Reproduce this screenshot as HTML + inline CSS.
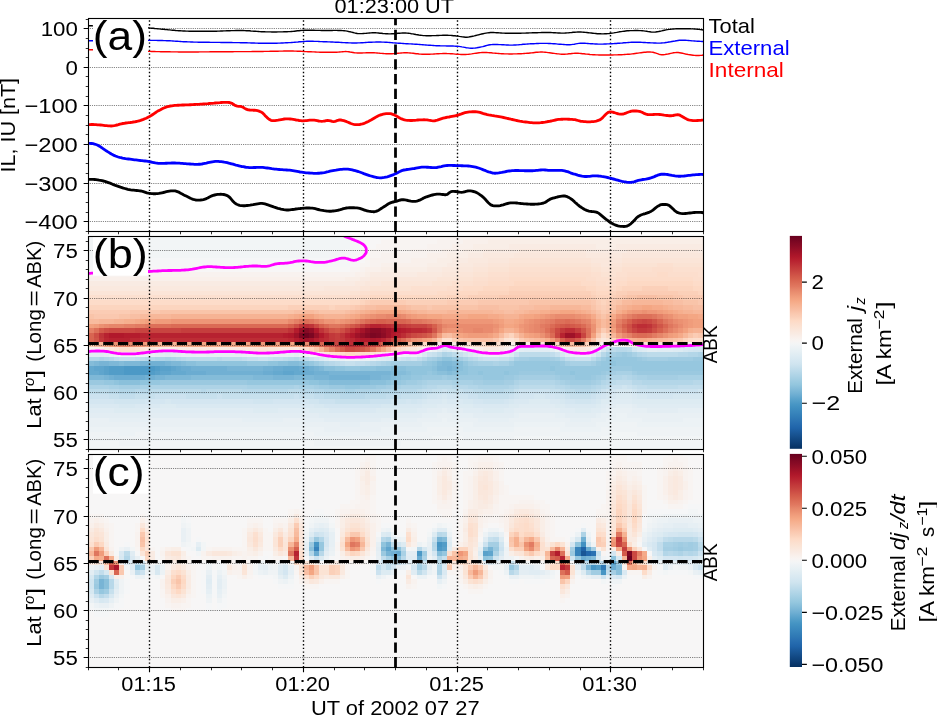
<!DOCTYPE html>
<html><head><meta charset="utf-8"><title>chart</title><style>html,body{margin:0;padding:0;background:#fff}svg{display:block;will-change:transform}</style></head><body>
<svg width="937" height="716" viewBox="0 0 937 716" font-family="'Liberation Sans', sans-serif">
<rect width="937" height="716" fill="#fff"/>
<defs>
<clipPath id="cpa"><rect x="88.5" y="18.5" width="615.0" height="213.0"/></clipPath>
<clipPath id="cpb"><rect x="88.5" y="236.5" width="615.0" height="213.0"/></clipPath>
<clipPath id="cpc"><rect x="88.5" y="454.5" width="615.0" height="213.0"/></clipPath>
</defs>
<g clip-path="url(#cpb)"><g transform="translate(88.5,234.40) scale(5.125,4.7)" shape-rendering="crispEdges" stroke="none">
<path fill="#4c99c6" d="M7 28h6v1h-6zM7 29h5v1h-5z"/>
<path fill="#529dc8" d="M4 28h3v1h-3zM13 28h1v1h-1zM4 29h3v1h-3zM12 29h1v1h-1z"/>
<path fill="#59a1ca" d="M3 28h1v1h-1zM14 28h2v1h-2zM3 29h1v1h-1zM13 29h1v1h-1z"/>
<path fill="#5fa5cd" d="M1 28h2v1h-2zM16 28h1v1h-1zM2 29h1v1h-1zM14 29h2v1h-2zM38 29h2v1h-2z"/>
<path fill="#65a9cf" d="M0 28h1v1h-1zM17 28h1v1h-1zM38 28h3v1h-3zM0 29h2v1h-2zM16 29h3v1h-3zM36 29h2v1h-2zM40 29h2v1h-2z"/>
<path fill="#6bacd1" d="M18 28h2v1h-2zM36 28h2v1h-2zM41 28h2v1h-2zM19 29h4v1h-4zM34 29h2v1h-2zM42 29h2v1h-2zM5 30h6v1h-6z"/>
<path fill="#71b0d3" d="M12 27h3v1h-3zM20 28h7v1h-7zM34 28h2v1h-2zM43 28h1v1h-1zM23 29h11v1h-11zM44 29h3v1h-3zM4 30h1v1h-1zM11 30h2v1h-2zM47 30h8v1h-8z"/>
<path fill="#78b4d5" d="M2 27h2v1h-2zM10 27h2v1h-2zM15 27h1v1h-1zM27 28h7v1h-7zM44 28h1v1h-1zM70 28h1v1h-1zM47 29h12v1h-12zM3 30h1v1h-1zM13 30h2v1h-2zM36 30h4v1h-4zM44 30h3v1h-3zM55 30h2v1h-2z"/>
<path fill="#7eb8d7" d="M1 27h1v1h-1zM4 27h2v1h-2zM7 27h3v1h-3zM16 27h2v1h-2zM69 27h2v1h-2zM45 28h1v1h-1zM68 28h2v1h-2zM71 28h1v1h-1zM59 29h1v1h-1zM0 30h3v1h-3zM15 30h5v1h-5zM32 30h4v1h-4zM40 30h4v1h-4zM57 30h2v1h-2z"/>
<path fill="#84bcd9" d="M0 27h1v1h-1zM6 27h1v1h-1zM18 27h1v1h-1zM39 27h2v1h-2zM68 27h1v1h-1zM71 27h1v1h-1zM59 28h1v1h-1zM60 29h2v1h-2zM70 29h1v1h-1zM20 30h12v1h-12zM59 30h1v1h-1zM47 31h8v1h-8z"/>
<path fill="#8ac0db" d="M19 27h2v1h-2zM37 27h2v1h-2zM41 27h1v1h-1zM72 27h1v1h-1zM46 28h2v1h-2zM56 28h3v1h-3zM60 28h2v1h-2zM67 28h1v1h-1zM72 28h1v1h-1zM62 29h1v1h-1zM68 29h2v1h-2zM71 29h1v1h-1zM60 30h1v1h-1zM6 31h4v1h-4zM45 31h2v1h-2zM55 31h3v1h-3z"/>
<path fill="#90c4dd" d="M69 26h2v1h-2zM21 27h10v1h-10zM35 27h2v1h-2zM42 27h1v1h-1zM67 27h1v1h-1zM102 27h1v1h-1zM48 28h2v1h-2zM53 28h3v1h-3zM62 28h5v1h-5zM73 28h1v1h-1zM90 28h1v1h-1zM63 29h3v1h-3zM67 29h1v1h-1zM72 29h2v1h-2zM76 29h1v1h-1zM81 29h1v1h-1zM94 29h1v1h-1zM61 30h2v1h-2zM5 31h1v1h-1zM10 31h2v1h-2zM43 31h2v1h-2zM58 31h1v1h-1z"/>
<path fill="#96c7df" d="M101 26h6v1h-6zM31 27h4v1h-4zM43 27h1v1h-1zM66 27h1v1h-1zM73 27h1v1h-1zM83 27h9v1h-9zM100 27h2v1h-2zM103 27h17v1h-17zM50 28h3v1h-3zM74 28h16v1h-16zM91 28h11v1h-11zM106 28h14v1h-14zM66 29h1v1h-1zM74 29h2v1h-2zM77 29h4v1h-4zM82 29h2v1h-2zM91 29h3v1h-3zM95 29h5v1h-5zM63 30h2v1h-2zM77 30h4v1h-4zM95 30h3v1h-3zM3 31h2v1h-2zM12 31h2v1h-2zM31 31h12v1h-12zM59 31h2v1h-2zM50 32h3v1h-3z"/>
<path fill="#9bc9e0" d="M104 25h1v1h-1zM68 26h1v1h-1zM71 26h1v1h-1zM107 26h1v1h-1zM118 26h2v1h-2zM65 27h1v1h-1zM92 27h1v1h-1zM99 27h1v1h-1zM102 28h4v1h-4zM84 29h7v1h-7zM100 29h1v1h-1zM107 29h13v1h-13zM65 30h4v1h-4zM70 30h7v1h-7zM81 30h2v1h-2zM92 30h3v1h-3zM98 30h1v1h-1zM0 31h3v1h-3zM14 31h17v1h-17zM61 31h1v1h-1zM47 32h3v1h-3zM53 32h3v1h-3z"/>
<path fill="#a0cce2" d="M103 25h1v1h-1zM105 25h1v1h-1zM86 26h4v1h-4zM100 26h1v1h-1zM108 26h1v1h-1zM113 26h5v1h-5zM44 27h1v1h-1zM74 27h1v1h-1zM82 27h1v1h-1zM101 29h1v1h-1zM106 29h1v1h-1zM69 30h1v1h-1zM83 30h1v1h-1zM91 30h1v1h-1zM99 30h1v1h-1zM62 31h2v1h-2zM77 31h4v1h-4zM94 31h4v1h-4zM45 32h2v1h-2zM56 32h2v1h-2z"/>
<path fill="#a5cee3" d="M102 25h1v1h-1zM67 26h1v1h-1zM72 26h1v1h-1zM84 26h2v1h-2zM90 26h1v1h-1zM109 26h4v1h-4zM59 27h6v1h-6zM75 27h1v1h-1zM93 27h1v1h-1zM98 27h1v1h-1zM102 29h1v1h-1zM84 30h7v1h-7zM100 30h1v1h-1zM109 30h6v1h-6zM64 31h1v1h-1zM75 31h2v1h-2zM81 31h2v1h-2zM93 31h1v1h-1zM98 31h1v1h-1zM6 32h4v1h-4zM44 32h1v1h-1zM58 32h1v1h-1z"/>
<path fill="#a9d1e5" d="M101 25h1v1h-1zM106 25h1v1h-1zM15 26h1v1h-1zM66 26h1v1h-1zM83 26h1v1h-1zM91 26h1v1h-1zM45 27h1v1h-1zM58 27h1v1h-1zM76 27h3v1h-3zM80 27h2v1h-2zM94 27h4v1h-4zM103 29h3v1h-3zM107 30h2v1h-2zM115 30h5v1h-5zM65 31h1v1h-1zM71 31h4v1h-4zM92 31h1v1h-1zM99 31h1v1h-1zM4 32h2v1h-2zM10 32h2v1h-2zM31 32h9v1h-9zM41 32h3v1h-3zM59 32h2v1h-2zM50 33h2v1h-2z"/>
<path fill="#aed3e6" d="M69 25h1v1h-1zM119 25h1v1h-1zM2 26h1v1h-1zM13 26h2v1h-2zM16 26h1v1h-1zM73 26h1v1h-1zM99 26h1v1h-1zM57 27h1v1h-1zM79 27h1v1h-1zM101 30h1v1h-1zM106 30h1v1h-1zM66 31h5v1h-5zM83 31h1v1h-1zM91 31h1v1h-1zM0 32h4v1h-4zM12 32h19v1h-19zM40 32h1v1h-1zM61 32h4v1h-4zM76 32h6v1h-6zM94 32h4v1h-4zM46 33h4v1h-4zM52 33h5v1h-5z"/>
<path fill="#b3d6e8" d="M70 25h1v1h-1zM107 25h1v1h-1zM117 25h2v1h-2zM0 26h2v1h-2zM3 26h1v1h-1zM12 26h1v1h-1zM17 26h1v1h-1zM40 26h1v1h-1zM92 26h1v1h-1zM46 27h1v1h-1zM56 27h1v1h-1zM102 30h2v1h-2zM105 30h1v1h-1zM84 31h7v1h-7zM100 31h1v1h-1zM108 31h10v1h-10zM65 32h1v1h-1zM74 32h2v1h-2zM82 32h1v1h-1zM93 32h1v1h-1zM98 32h1v1h-1zM6 33h3v1h-3zM44 33h2v1h-2zM57 33h3v1h-3z"/>
<path fill="#b8d8e9" d="M103 24h2v1h-2zM100 25h1v1h-1zM108 25h1v1h-1zM115 25h2v1h-2zM4 26h1v1h-1zM11 26h1v1h-1zM18 26h1v1h-1zM25 26h1v1h-1zM39 26h1v1h-1zM65 26h1v1h-1zM74 26h1v1h-1zM47 27h1v1h-1zM55 27h1v1h-1zM104 30h1v1h-1zM101 31h1v1h-1zM106 31h2v1h-2zM118 31h2v1h-2zM66 32h2v1h-2zM71 32h3v1h-3zM83 32h1v1h-1zM91 32h2v1h-2zM99 32h1v1h-1zM4 33h2v1h-2zM9 33h3v1h-3zM22 33h1v1h-1zM30 33h9v1h-9zM42 33h2v1h-2zM60 33h4v1h-4zM77 33h4v1h-4zM95 33h3v1h-3zM49 34h5v1h-5z"/>
<path fill="#bddbea" d="M102 24h1v1h-1zM105 24h1v1h-1zM68 25h1v1h-1zM71 25h1v1h-1zM84 25h6v1h-6zM109 25h6v1h-6zM10 26h1v1h-1zM19 26h6v1h-6zM26 26h4v1h-4zM38 26h1v1h-1zM41 26h1v1h-1zM75 26h1v1h-1zM82 26h1v1h-1zM98 26h1v1h-1zM48 27h1v1h-1zM54 27h1v1h-1zM102 31h1v1h-1zM68 32h3v1h-3zM84 32h7v1h-7zM100 32h1v1h-1zM109 32h6v1h-6zM0 33h4v1h-4zM12 33h10v1h-10zM23 33h7v1h-7zM39 33h3v1h-3zM64 33h1v1h-1zM75 33h2v1h-2zM81 33h2v1h-2zM93 33h2v1h-2zM98 33h1v1h-1zM46 34h3v1h-3zM54 34h4v1h-4z"/>
<path fill="#c2ddec" d="M90 25h1v1h-1zM5 26h1v1h-1zM9 26h1v1h-1zM30 26h1v1h-1zM36 26h2v1h-2zM42 26h1v1h-1zM64 26h1v1h-1zM93 26h1v1h-1zM49 27h1v1h-1zM52 27h2v1h-2zM103 31h3v1h-3zM101 32h1v1h-1zM107 32h2v1h-2zM115 32h5v1h-5zM65 33h2v1h-2zM73 33h2v1h-2zM92 33h1v1h-1zM99 33h1v1h-1zM6 34h3v1h-3zM44 34h2v1h-2zM58 34h3v1h-3z"/>
<path fill="#c7e0ed" d="M101 24h1v1h-1zM67 25h1v1h-1zM72 25h1v1h-1zM6 26h3v1h-3zM31 26h2v1h-2zM35 26h1v1h-1zM62 26h1v1h-1zM76 26h1v1h-1zM80 26h2v1h-2zM94 26h1v1h-1zM50 27h2v1h-2zM106 32h1v1h-1zM67 33h2v1h-2zM70 33h3v1h-3zM83 33h1v1h-1zM90 33h2v1h-2zM4 34h2v1h-2zM9 34h4v1h-4zM19 34h6v1h-6zM26 34h14v1h-14zM41 34h3v1h-3zM61 34h4v1h-4zM76 34h6v1h-6zM94 34h4v1h-4zM48 35h7v1h-7z"/>
<path fill="#cce2ef" d="M66 25h1v1h-1zM83 25h1v1h-1zM91 25h1v1h-1zM33 26h2v1h-2zM43 26h1v1h-1zM61 26h1v1h-1zM63 26h1v1h-1zM77 26h3v1h-3zM95 26h3v1h-3zM102 32h2v1h-2zM105 32h1v1h-1zM69 33h1v1h-1zM84 33h6v1h-6zM100 33h1v1h-1zM107 33h12v1h-12zM0 34h4v1h-4zM13 34h6v1h-6zM25 34h1v1h-1zM40 34h1v1h-1zM65 34h1v1h-1zM74 34h2v1h-2zM82 34h1v1h-1zM93 34h1v1h-1zM98 34h1v1h-1zM45 35h3v1h-3zM55 35h4v1h-4z"/>
<path fill="#d1e5f0" d="M106 24h1v1h-1zM118 24h2v1h-2zM73 25h1v1h-1zM99 25h1v1h-1zM60 26h1v1h-1zM104 32h1v1h-1zM101 33h1v1h-1zM106 33h1v1h-1zM119 33h1v1h-1zM66 34h2v1h-2zM72 34h2v1h-2zM83 34h1v1h-1zM91 34h2v1h-2zM99 34h1v1h-1zM5 35h6v1h-6zM32 35h4v1h-4zM43 35h2v1h-2zM59 35h3v1h-3zM63 35h1v1h-1zM77 35h4v1h-4zM95 35h3v1h-3z"/>
<path fill="#d4e6f1" d="M117 24h1v1h-1zM44 26h1v1h-1zM59 26h1v1h-1zM102 33h1v1h-1zM68 34h1v1h-1zM70 34h2v1h-2zM84 34h3v1h-3zM89 34h2v1h-2zM100 34h1v1h-1zM109 34h5v1h-5zM0 35h5v1h-5zM11 35h4v1h-4zM16 35h16v1h-16zM36 35h7v1h-7zM62 35h1v1h-1zM64 35h1v1h-1zM75 35h2v1h-2zM81 35h1v1h-1zM93 35h2v1h-2zM98 35h1v1h-1zM46 36h11v1h-11z"/>
<path fill="#d7e8f1" d="M69 24h1v1h-1zM100 24h1v1h-1zM116 24h1v1h-1zM92 25h1v1h-1zM103 33h3v1h-3zM69 34h1v1h-1zM87 34h2v1h-2zM101 34h1v1h-1zM107 34h2v1h-2zM114 34h6v1h-6zM15 35h1v1h-1zM65 35h1v1h-1zM73 35h2v1h-2zM82 35h1v1h-1zM92 35h1v1h-1zM99 35h1v1h-1zM6 36h3v1h-3zM44 36h2v1h-2zM57 36h3v1h-3z"/>
<path fill="#dae9f2" d="M107 24h1v1h-1zM65 25h1v1h-1zM74 25h1v1h-1zM45 26h1v1h-1zM58 26h1v1h-1zM102 34h1v1h-1zM106 34h1v1h-1zM66 35h3v1h-3zM70 35h3v1h-3zM83 35h3v1h-3zM90 35h2v1h-2zM0 36h6v1h-6zM9 36h5v1h-5zM17 36h27v1h-27zM60 36h5v1h-5zM75 36h7v1h-7zM93 36h6v1h-6zM47 37h9v1h-9z"/>
<path fill="#ddebf2" d="M70 24h1v1h-1zM108 24h1v1h-1zM114 24h2v1h-2zM15 25h1v1h-1zM82 25h1v1h-1zM57 26h1v1h-1zM103 34h3v1h-3zM69 35h1v1h-1zM86 35h4v1h-4zM100 35h2v1h-2zM106 35h14v1h-14zM14 36h3v1h-3zM65 36h3v1h-3zM72 36h3v1h-3zM82 36h2v1h-2zM91 36h2v1h-2zM99 36h1v1h-1zM5 37h6v1h-6zM32 37h5v1h-5zM43 37h4v1h-4zM56 37h8v1h-8zM77 37h4v1h-4zM95 37h3v1h-3z"/>
<path fill="#e0ecf3" d="M85 24h5v1h-5zM111 24h3v1h-3zM0 25h3v1h-3zM14 25h1v1h-1zM16 25h1v1h-1zM75 25h1v1h-1zM98 25h1v1h-1zM46 26h1v1h-1zM56 26h1v1h-1zM102 35h4v1h-4zM68 36h4v1h-4zM84 36h7v1h-7zM100 36h1v1h-1zM107 36h13v1h-13zM0 37h5v1h-5zM11 37h21v1h-21zM37 37h6v1h-6zM64 37h2v1h-2zM73 37h4v1h-4zM81 37h2v1h-2zM92 37h3v1h-3zM98 37h2v1h-2zM45 38h15v1h-15z"/>
<path fill="#e3edf3" d="M68 24h1v1h-1zM84 24h1v1h-1zM109 24h2v1h-2zM3 25h1v1h-1zM13 25h1v1h-1zM17 25h1v1h-1zM40 25h1v1h-1zM93 25h1v1h-1zM101 36h2v1h-2zM106 36h1v1h-1zM66 37h3v1h-3zM70 37h3v1h-3zM83 37h9v1h-9zM100 37h1v1h-1zM109 37h6v1h-6zM0 38h45v1h-45zM60 38h5v1h-5zM75 38h8v1h-8zM93 38h6v1h-6zM46 39h11v1h-11z"/>
<path fill="#e6eff4" d="M71 24h1v1h-1zM90 24h1v1h-1zM12 25h1v1h-1zM18 25h3v1h-3zM23 25h7v1h-7zM39 25h1v1h-1zM64 25h1v1h-1zM76 25h1v1h-1zM81 25h1v1h-1zM47 26h2v1h-2zM55 26h1v1h-1zM103 36h3v1h-3zM69 37h1v1h-1zM101 37h1v1h-1zM106 37h3v1h-3zM115 37h5v1h-5zM65 38h3v1h-3zM71 38h4v1h-4zM83 38h1v1h-1zM91 38h2v1h-2zM99 38h1v1h-1zM4 39h8v1h-8zM30 39h8v1h-8zM42 39h4v1h-4zM57 39h7v1h-7zM76 39h6v1h-6zM94 39h4v1h-4zM49 40h4v1h-4z"/>
<path fill="#e9f0f4" d="M83 24h1v1h-1zM4 25h1v1h-1zM11 25h1v1h-1zM21 25h2v1h-2zM30 25h1v1h-1zM37 25h2v1h-2zM41 25h1v1h-1zM80 25h1v1h-1zM94 25h1v1h-1zM49 26h1v1h-1zM53 26h2v1h-2zM102 37h4v1h-4zM68 38h3v1h-3zM84 38h7v1h-7zM100 38h3v1h-3zM105 38h15v1h-15zM0 39h4v1h-4zM12 39h18v1h-18zM38 39h4v1h-4zM64 39h5v1h-5zM70 39h6v1h-6zM82 39h12v1h-12zM98 39h3v1h-3zM108 39h8v1h-8zM0 40h49v1h-49zM53 40h12v1h-12zM75 40h8v1h-8zM93 40h6v1h-6zM46 41h11v1h-11z"/>
<path fill="#ecf2f5" d="M67 24h1v1h-1zM72 24h1v1h-1zM99 24h1v1h-1zM10 25h1v1h-1zM31 25h1v1h-1zM35 25h2v1h-2zM62 25h1v1h-1zM77 25h1v1h-1zM95 25h1v1h-1zM97 25h1v1h-1zM50 26h3v1h-3zM103 38h2v1h-2zM69 39h1v1h-1zM101 39h7v1h-7zM116 39h4v1h-4zM65 40h10v1h-10zM83 40h10v1h-10zM99 40h3v1h-3zM107 40h13v1h-13zM0 41h46v1h-46zM57 41h9v1h-9zM73 41h10v1h-10zM92 41h8v1h-8zM6 42h3v1h-3zM44 42h16v1h-16z"/>
<path fill="#eff3f5" d="M91 24h1v1h-1zM5 25h1v1h-1zM9 25h1v1h-1zM32 25h3v1h-3zM42 25h1v1h-1zM61 25h1v1h-1zM63 25h1v1h-1zM78 25h2v1h-2zM96 25h1v1h-1zM102 40h5v1h-5zM66 41h7v1h-7zM83 41h9v1h-9zM100 41h20v1h-20zM0 42h6v1h-6zM9 42h35v1h-35zM60 42h42v1h-42zM107 42h13v1h-13zM0 43h67v1h-67zM73 43h10v1h-10zM92 43h8v1h-8zM6 44h4v1h-4zM44 44h17v1h-17z"/>
<path fill="#f2f5f6" d="M0 0h51v1h-51zM0 1h51v1h-51zM0 2h51v1h-51zM0 3h50v1h-50zM0 4h49v1h-49zM66 24h1v1h-1zM6 25h3v1h-3zM102 42h5v1h-5zM67 43h6v1h-6zM83 43h9v1h-9zM100 43h20v1h-20zM0 44h6v1h-6zM10 44h34v1h-34zM61 44h59v1h-59zM0 45h120v1h-120z"/>
<path fill="#f5f6f7" d="M51 0h3v1h-3zM51 1h2v1h-2zM51 2h2v1h-2zM50 3h3v1h-3zM49 4h3v1h-3zM0 5h52v1h-52zM0 6h51v1h-51zM100 23h2v1h-2zM73 24h1v1h-1zM43 25h1v1h-1zM60 25h1v1h-1z"/>
<path fill="#f7f6f6" d="M54 0h6v1h-6zM53 1h4v1h-4zM53 2h3v1h-3zM53 3h2v1h-2zM52 4h2v1h-2zM52 5h2v1h-2zM51 6h2v1h-2zM0 7h51v1h-51zM102 23h1v1h-1zM82 24h1v1h-1z"/>
<path fill="#f8f4f2" d="M60 0h10v1h-10zM57 1h11v1h-11zM56 2h10v1h-10zM55 3h8v1h-8zM54 4h3v1h-3zM54 5h1v1h-1zM53 6h2v1h-2zM51 7h2v1h-2zM69 23h1v1h-1zM118 23h2v1h-2zM0 24h1v1h-1zM65 24h1v1h-1zM74 24h1v1h-1zM92 24h1v1h-1zM44 25h1v1h-1zM59 25h1v1h-1z"/>
<path fill="#f8f2ef" d="M70 0h5v1h-5zM68 1h5v1h-5zM66 2h5v1h-5zM63 3h6v1h-6zM57 4h9v1h-9zM55 5h8v1h-8zM55 6h2v1h-2zM53 7h1v1h-1zM0 8h52v1h-52zM70 23h1v1h-1zM103 23h2v1h-2zM117 23h1v1h-1zM1 24h1v1h-1zM75 24h1v1h-1zM81 24h1v1h-1zM98 24h1v1h-1z"/>
<path fill="#f9f0eb" d="M75 0h35v1h-35zM115 0h5v1h-5zM73 1h5v1h-5zM71 2h4v1h-4zM69 3h4v1h-4zM66 4h4v1h-4zM63 5h5v1h-5zM57 6h9v1h-9zM54 7h3v1h-3zM52 8h2v1h-2zM0 9h50v1h-50zM105 23h1v1h-1zM116 23h1v1h-1zM2 24h1v1h-1zM15 24h1v1h-1zM76 24h1v1h-1zM58 25h1v1h-1z"/>
<path fill="#f9eee7" d="M110 0h5v1h-5zM78 1h42v1h-42zM75 2h7v1h-7zM99 2h4v1h-4zM73 3h4v1h-4zM70 4h4v1h-4zM68 5h3v1h-3zM66 6h4v1h-4zM57 7h9v1h-9zM54 8h1v1h-1zM50 9h3v1h-3zM82 23h2v1h-2zM99 23h1v1h-1zM14 24h1v1h-1zM16 24h1v1h-1zM80 24h1v1h-1zM93 24h1v1h-1zM45 25h1v1h-1z"/>
<path fill="#f9ebe3" d="M82 2h17v1h-17zM103 2h17v1h-17zM77 3h7v1h-7zM97 3h8v1h-8zM119 3h1v1h-1zM74 4h3v1h-3zM71 5h3v1h-3zM70 6h2v1h-2zM66 7h3v1h-3zM55 8h9v1h-9zM53 9h2v1h-2zM0 10h52v1h-52zM68 23h1v1h-1zM71 23h1v1h-1zM84 23h1v1h-1zM115 23h1v1h-1zM3 24h1v1h-1zM13 24h1v1h-1zM17 24h2v1h-2zM25 24h2v1h-2zM64 24h1v1h-1zM77 24h3v1h-3zM97 24h1v1h-1zM57 25h1v1h-1z"/>
<path fill="#fae9df" d="M84 3h13v1h-13zM105 3h14v1h-14zM77 4h6v1h-6zM97 4h7v1h-7zM74 5h4v1h-4zM72 6h3v1h-3zM69 7h3v1h-3zM64 8h5v1h-5zM55 9h5v1h-5zM52 10h2v1h-2zM0 11h46v1h-46zM81 23h1v1h-1zM85 23h1v1h-1zM106 23h1v1h-1zM114 23h1v1h-1zM12 24h1v1h-1zM19 24h6v1h-6zM27 24h3v1h-3zM40 24h1v1h-1zM94 24h3v1h-3z"/>
<path fill="#fae7dc" d="M83 4h14v1h-14zM104 4h16v1h-16zM78 5h4v1h-4zM98 5h6v1h-6zM75 6h3v1h-3zM100 6h2v1h-2zM72 7h3v1h-3zM69 8h3v1h-3zM60 9h8v1h-8zM54 10h3v1h-3zM46 11h7v1h-7zM100 22h1v1h-1zM86 23h3v1h-3zM107 23h1v1h-1zM111 23h3v1h-3zM4 24h1v1h-1zM11 24h1v1h-1zM30 24h2v1h-2zM37 24h3v1h-3zM63 24h1v1h-1zM46 25h1v1h-1zM56 25h1v1h-1z"/>
<path fill="#fbe5d8" d="M82 5h16v1h-16zM104 5h16v1h-16zM78 6h4v1h-4zM98 6h2v1h-2zM102 6h2v1h-2zM75 7h3v1h-3zM100 7h2v1h-2zM72 8h3v1h-3zM68 9h4v1h-4zM57 10h10v1h-10zM53 11h2v1h-2zM0 12h51v1h-51zM82 22h1v1h-1zM67 23h1v1h-1zM72 23h1v1h-1zM89 23h1v1h-1zM108 23h3v1h-3zM10 24h1v1h-1zM32 24h1v1h-1zM35 24h2v1h-2zM62 24h1v1h-1z"/>
<path fill="#fbe3d4" d="M82 6h16v1h-16zM104 6h7v1h-7zM114 6h6v1h-6zM78 7h4v1h-4zM98 7h2v1h-2zM102 7h2v1h-2zM75 8h3v1h-3zM100 8h3v1h-3zM72 9h3v1h-3zM67 10h4v1h-4zM55 11h8v1h-8zM51 12h2v1h-2zM81 22h1v1h-1zM101 22h1v1h-1zM73 23h1v1h-1zM80 23h1v1h-1zM5 24h1v1h-1zM33 24h2v1h-2zM41 24h1v1h-1zM47 25h1v1h-1zM55 25h1v1h-1z"/>
<path fill="#fce0d0" d="M111 6h3v1h-3zM82 7h16v1h-16zM104 7h6v1h-6zM114 7h6v1h-6zM78 8h4v1h-4zM98 8h2v1h-2zM103 8h2v1h-2zM119 8h1v1h-1zM75 9h3v1h-3zM99 9h4v1h-4zM71 10h4v1h-4zM101 10h1v1h-1zM63 11h7v1h-7zM53 12h2v1h-2zM0 13h51v1h-51zM69 22h2v1h-2zM66 23h1v1h-1zM74 23h1v1h-1zM90 23h1v1h-1zM98 23h1v1h-1zM9 24h1v1h-1zM61 24h1v1h-1zM48 25h1v1h-1z"/>
<path fill="#fcdecd" d="M110 7h4v1h-4zM82 8h16v1h-16zM105 8h6v1h-6zM113 8h6v1h-6zM78 9h4v1h-4zM97 9h2v1h-2zM103 9h2v1h-2zM118 9h2v1h-2zM75 10h3v1h-3zM99 10h2v1h-2zM102 10h1v1h-1zM70 11h3v1h-3zM55 12h13v1h-13zM51 13h2v1h-2zM100 21h1v1h-1zM83 22h1v1h-1zM99 22h1v1h-1zM118 22h2v1h-2zM75 23h2v1h-2zM79 23h1v1h-1zM6 24h3v1h-3zM42 24h1v1h-1zM49 25h1v1h-1zM54 25h1v1h-1z"/>
<path fill="#fddcc9" d="M111 8h2v1h-2zM82 9h15v1h-15zM105 9h13v1h-13zM78 10h5v1h-5zM96 10h3v1h-3zM103 10h2v1h-2zM118 10h2v1h-2zM73 11h4v1h-4zM99 11h4v1h-4zM68 12h4v1h-4zM53 13h2v1h-2zM0 14h51v1h-51zM117 22h1v1h-1zM65 23h1v1h-1zM77 23h2v1h-2zM52 25h2v1h-2z"/>
<path fill="#fdd9c4" d="M83 10h13v1h-13zM105 10h13v1h-13zM77 11h5v1h-5zM97 11h2v1h-2zM103 11h1v1h-1zM118 11h2v1h-2zM72 12h4v1h-4zM99 12h3v1h-3zM55 13h15v1h-15zM51 14h2v1h-2zM91 23h1v1h-1zM60 24h1v1h-1zM50 25h2v1h-2z"/>
<path fill="#fcd5bf" d="M82 11h15v1h-15zM104 11h4v1h-4zM113 11h5v1h-5zM76 12h6v1h-6zM98 12h1v1h-1zM102 12h1v1h-1zM119 12h1v1h-1zM70 13h4v1h-4zM99 13h3v1h-3zM53 14h1v1h-1zM100 14h1v1h-1zM0 15h39v1h-39zM47 15h1v1h-1zM82 21h1v1h-1zM101 21h1v1h-1zM80 22h1v1h-1zM102 22h1v1h-1zM116 22h1v1h-1zM64 23h1v1h-1zM97 23h1v1h-1zM43 24h1v1h-1z"/>
<path fill="#fbd0b9" d="M108 11h5v1h-5zM82 12h16v1h-16zM103 12h2v1h-2zM115 12h4v1h-4zM74 13h6v1h-6zM98 13h1v1h-1zM102 13h1v1h-1zM54 14h1v1h-1zM62 14h8v1h-8zM99 14h1v1h-1zM101 14h1v1h-1zM39 15h8v1h-8zM48 15h3v1h-3zM100 15h1v1h-1zM71 22h1v1h-1z"/>
<path fill="#fbccb4" d="M105 12h10v1h-10zM80 13h18v1h-18zM103 13h1v1h-1zM116 13h4v1h-4zM55 14h7v1h-7zM70 14h6v1h-6zM51 15h1v1h-1zM99 15h1v1h-1zM101 15h1v1h-1zM0 16h8v1h-8zM100 16h1v1h-1zM100 20h1v1h-1zM81 21h1v1h-1zM118 21h1v1h-1zM68 22h1v1h-1zM84 22h1v1h-1zM0 23h1v1h-1zM59 24h1v1h-1z"/>
<path fill="#fac8af" d="M104 13h1v1h-1zM114 13h2v1h-2zM76 14h10v1h-10zM98 14h1v1h-1zM102 14h1v1h-1zM119 14h1v1h-1zM52 15h1v1h-1zM66 15h1v1h-1zM8 16h6v1h-6zM101 16h1v1h-1zM1 17h5v1h-5zM99 21h1v1h-1zM119 21h1v1h-1zM79 22h1v1h-1zM115 22h1v1h-1zM63 23h1v1h-1zM92 23h1v1h-1zM96 23h1v1h-1zM44 24h1v1h-1z"/>
<path fill="#f9c4a9" d="M105 13h2v1h-2zM111 13h3v1h-3zM86 14h12v1h-12zM103 14h1v1h-1zM116 14h3v1h-3zM53 15h1v1h-1zM63 15h3v1h-3zM67 15h9v1h-9zM80 15h4v1h-4zM98 15h1v1h-1zM102 15h1v1h-1zM14 16h26v1h-26zM45 16h5v1h-5zM99 16h1v1h-1zM0 17h1v1h-1zM6 17h2v1h-2zM100 17h1v1h-1zM83 21h1v1h-1zM117 21h1v1h-1zM72 22h1v1h-1zM85 22h1v1h-1zM114 22h1v1h-1z"/>
<path fill="#f8bfa4" d="M107 13h4v1h-4zM114 14h2v1h-2zM54 15h2v1h-2zM62 15h1v1h-1zM76 15h4v1h-4zM84 15h3v1h-3zM118 15h2v1h-2zM40 16h2v1h-2zM44 16h1v1h-1zM50 16h1v1h-1zM81 16h2v1h-2zM8 17h2v1h-2zM101 20h1v1h-1zM70 21h1v1h-1zM73 22h6v1h-6zM86 22h1v1h-1zM98 22h1v1h-1zM103 22h1v1h-1zM113 22h1v1h-1zM1 23h1v1h-1zM62 23h1v1h-1zM93 23h1v1h-1zM95 23h1v1h-1z"/>
<path fill="#f8bb9e" d="M104 14h2v1h-2zM112 14h2v1h-2zM56 15h6v1h-6zM87 15h3v1h-3zM96 15h2v1h-2zM116 15h2v1h-2zM42 16h2v1h-2zM51 16h1v1h-1zM66 16h4v1h-4zM79 16h2v1h-2zM83 16h2v1h-2zM98 16h1v1h-1zM102 16h1v1h-1zM10 17h2v1h-2zM99 17h1v1h-1zM101 17h1v1h-1zM0 18h2v1h-2zM100 18h1v1h-1zM100 19h1v1h-1zM69 21h1v1h-1zM80 21h1v1h-1zM87 22h1v1h-1zM112 22h1v1h-1zM94 23h1v1h-1zM58 24h1v1h-1z"/>
<path fill="#f7b799" d="M106 14h6v1h-6zM90 15h6v1h-6zM103 15h1v1h-1zM114 15h2v1h-2zM52 16h1v1h-1zM64 16h2v1h-2zM70 16h9v1h-9zM85 16h1v1h-1zM118 16h2v1h-2zM12 17h4v1h-4zM2 18h3v1h-3zM99 20h1v1h-1zM102 21h1v1h-1zM116 21h1v1h-1zM88 22h1v1h-1zM104 22h1v1h-1zM111 22h1v1h-1zM2 23h1v1h-1zM61 23h1v1h-1z"/>
<path fill="#f6b394" d="M104 15h1v1h-1zM113 15h1v1h-1zM53 16h1v1h-1zM63 16h1v1h-1zM86 16h2v1h-2zM97 16h1v1h-1zM116 16h2v1h-2zM16 17h23v1h-23zM46 17h4v1h-4zM81 17h3v1h-3zM5 18h2v1h-2zM101 18h1v1h-1zM101 19h1v1h-1zM81 20h2v1h-2zM118 20h2v1h-2zM71 21h1v1h-1zM84 21h1v1h-1zM67 22h1v1h-1zM105 22h1v1h-1zM110 22h1v1h-1zM14 23h3v1h-3zM45 24h1v1h-1z"/>
<path fill="#f6af8e" d="M105 15h1v1h-1zM112 15h1v1h-1zM54 16h1v1h-1zM62 16h1v1h-1zM88 16h2v1h-2zM96 16h1v1h-1zM103 16h1v1h-1zM115 16h1v1h-1zM39 17h1v1h-1zM45 17h1v1h-1zM50 17h1v1h-1zM80 17h1v1h-1zM7 18h2v1h-2zM99 18h1v1h-1zM99 19h1v1h-1zM117 20h1v1h-1zM89 22h1v1h-1zM106 22h1v1h-1zM109 22h1v1h-1zM17 23h1v1h-1z"/>
<path fill="#f5aa89" d="M106 15h2v1h-2zM110 15h2v1h-2zM55 16h1v1h-1zM61 16h1v1h-1zM90 16h2v1h-2zM95 16h1v1h-1zM114 16h1v1h-1zM40 17h1v1h-1zM44 17h1v1h-1zM51 17h1v1h-1zM69 17h5v1h-5zM78 17h2v1h-2zM84 17h1v1h-1zM98 17h1v1h-1zM102 17h1v1h-1zM119 17h1v1h-1zM9 18h1v1h-1zM81 18h2v1h-2zM83 20h1v1h-1zM79 21h1v1h-1zM115 21h1v1h-1zM107 22h2v1h-2zM3 23h1v1h-1zM13 23h1v1h-1zM18 23h2v1h-2zM24 23h5v1h-5z"/>
<path fill="#f4a683" d="M108 15h2v1h-2zM56 16h5v1h-5zM92 16h3v1h-3zM104 16h1v1h-1zM113 16h1v1h-1zM41 17h1v1h-1zM52 17h1v1h-1zM66 17h3v1h-3zM74 17h4v1h-4zM85 17h2v1h-2zM117 17h2v1h-2zM10 18h1v1h-1zM83 18h1v1h-1zM81 19h2v1h-2zM80 20h1v1h-1zM72 21h1v1h-1zM85 21h1v1h-1zM66 22h1v1h-1zM12 23h1v1h-1zM20 23h4v1h-4zM29 23h2v1h-2zM38 23h3v1h-3zM60 23h1v1h-1zM57 24h1v1h-1z"/>
<path fill="#f2a17f" d="M112 16h1v1h-1zM42 17h2v1h-2zM64 17h2v1h-2zM87 17h1v1h-1zM115 17h2v1h-2zM11 18h2v1h-2zM80 18h1v1h-1zM84 18h1v1h-1zM118 18h2v1h-2zM0 19h1v1h-1zM83 19h1v1h-1zM118 19h2v1h-2zM102 20h1v1h-1zM116 20h1v1h-1zM73 21h1v1h-1zM78 21h1v1h-1zM86 21h1v1h-1zM98 21h1v1h-1zM114 21h1v1h-1zM65 22h1v1h-1zM97 22h1v1h-1zM11 23h1v1h-1zM31 23h1v1h-1zM37 23h1v1h-1z"/>
<path fill="#f09c7b" d="M105 16h1v1h-1zM111 16h1v1h-1zM53 17h1v1h-1zM63 17h1v1h-1zM88 17h1v1h-1zM97 17h1v1h-1zM114 17h1v1h-1zM13 18h3v1h-3zM48 18h1v1h-1zM79 18h1v1h-1zM98 18h1v1h-1zM102 18h1v1h-1zM117 18h1v1h-1zM1 19h1v1h-1zM80 19h1v1h-1zM117 19h1v1h-1zM84 20h1v1h-1zM68 21h1v1h-1zM74 21h4v1h-4zM87 21h1v1h-1zM103 21h1v1h-1zM113 21h1v1h-1zM90 22h1v1h-1zM4 23h1v1h-1zM32 23h1v1h-1zM35 23h2v1h-2zM41 23h1v1h-1z"/>
<path fill="#ee9677" d="M106 16h2v1h-2zM109 16h2v1h-2zM54 17h1v1h-1zM62 17h1v1h-1zM89 17h1v1h-1zM96 17h1v1h-1zM103 17h1v1h-1zM16 18h23v1h-23zM46 18h2v1h-2zM49 18h1v1h-1zM69 18h10v1h-10zM85 18h1v1h-1zM116 18h1v1h-1zM84 19h1v1h-1zM102 19h1v1h-1zM116 19h1v1h-1zM70 20h2v1h-2zM79 20h1v1h-1zM115 20h1v1h-1zM64 22h1v1h-1zM10 23h1v1h-1zM33 23h2v1h-2zM46 24h1v1h-1z"/>
<path fill="#eb9172" d="M108 16h1v1h-1zM55 17h1v1h-1zM90 17h1v1h-1zM95 17h1v1h-1zM113 17h1v1h-1zM50 18h1v1h-1zM86 18h1v1h-1zM115 18h1v1h-1zM2 19h1v1h-1zM79 19h1v1h-1zM85 19h1v1h-1zM98 19h1v1h-1zM69 20h1v1h-1zM72 20h1v1h-1zM85 20h1v1h-1zM98 20h1v1h-1zM88 21h1v1h-1zM112 21h1v1h-1zM63 22h1v1h-1zM5 23h1v1h-1zM9 23h1v1h-1zM59 23h1v1h-1zM56 24h1v1h-1z"/>
<path fill="#e98b6e" d="M56 17h2v1h-2zM61 17h1v1h-1zM91 17h4v1h-4zM104 17h1v1h-1zM112 17h1v1h-1zM39 18h1v1h-1zM45 18h1v1h-1zM51 18h1v1h-1zM68 18h1v1h-1zM87 18h1v1h-1zM114 18h1v1h-1zM3 19h1v1h-1zM70 19h9v1h-9zM86 19h1v1h-1zM115 19h1v1h-1zM73 20h2v1h-2zM77 20h2v1h-2zM86 20h1v1h-1zM114 20h1v1h-1zM104 21h1v1h-1zM8 23h1v1h-1zM42 23h1v1h-1z"/>
<path fill="#e6866a" d="M58 17h3v1h-3zM67 18h1v1h-1zM88 18h1v1h-1zM97 18h1v1h-1zM4 19h3v1h-3zM69 19h1v1h-1zM87 19h1v1h-1zM75 20h2v1h-2zM87 20h1v1h-1zM111 21h1v1h-1zM6 23h2v1h-2z"/>
<path fill="#e48066" d="M105 17h1v1h-1zM111 17h1v1h-1zM40 18h1v1h-1zM44 18h1v1h-1zM52 18h1v1h-1zM66 18h1v1h-1zM89 18h1v1h-1zM96 18h1v1h-1zM103 18h1v1h-1zM113 18h1v1h-1zM7 19h2v1h-2zM114 19h1v1h-1zM0 20h1v1h-1zM88 20h1v1h-1zM103 20h1v1h-1zM113 20h1v1h-1zM89 21h1v1h-1zM105 21h1v1h-1zM62 22h1v1h-1zM91 22h1v1h-1zM43 23h1v1h-1zM47 24h1v1h-1z"/>
<path fill="#e27b62" d="M65 18h1v1h-1zM90 18h1v1h-1zM9 19h2v1h-2zM88 19h1v1h-1zM97 19h1v1h-1zM110 21h1v1h-1zM96 22h1v1h-1zM58 23h1v1h-1z"/>
<path fill="#df765e" d="M106 17h1v1h-1zM110 17h1v1h-1zM41 18h1v1h-1zM43 18h1v1h-1zM53 18h1v1h-1zM63 18h2v1h-2zM95 18h1v1h-1zM112 18h1v1h-1zM11 19h1v1h-1zM47 19h2v1h-2zM68 19h1v1h-1zM89 19h1v1h-1zM103 19h1v1h-1zM113 19h1v1h-1zM68 20h1v1h-1zM67 21h1v1h-1zM44 23h1v1h-1zM55 24h1v1h-1z"/>
<path fill="#dd7059" d="M107 17h3v1h-3zM42 18h1v1h-1zM91 18h2v1h-2zM94 18h1v1h-1zM104 18h1v1h-1zM12 19h4v1h-4zM49 19h1v1h-1zM1 20h1v1h-1zM89 20h1v1h-1zM97 20h1v1h-1zM112 20h1v1h-1zM97 21h1v1h-1zM106 21h1v1h-1zM109 21h1v1h-1z"/>
<path fill="#db6b55" d="M54 18h1v1h-1zM62 18h1v1h-1zM93 18h1v1h-1zM16 19h23v1h-23zM46 19h1v1h-1zM90 19h1v1h-1zM96 19h1v1h-1zM104 20h1v1h-1zM90 21h1v1h-1zM107 21h2v1h-2zM61 22h1v1h-1zM48 24h1v1h-1z"/>
<path fill="#d86551" d="M55 18h1v1h-1zM58 18h4v1h-4zM111 18h1v1h-1zM50 19h1v1h-1zM112 19h1v1h-1zM0 21h1v1h-1zM0 22h1v1h-1zM45 23h1v1h-1zM57 23h1v1h-1z"/>
<path fill="#d6604d" d="M56 18h2v1h-2zM105 18h1v1h-1zM39 19h1v1h-1zM45 19h1v1h-1zM67 19h1v1h-1zM91 19h1v1h-1zM95 19h1v1h-1zM104 19h1v1h-1zM90 20h1v1h-1zM111 20h1v1h-1zM66 21h1v1h-1zM92 22h1v1h-1zM54 24h1v1h-1z"/>
<path fill="#d35a4a" d="M51 19h1v1h-1zM92 19h1v1h-1zM94 19h1v1h-1zM2 20h1v1h-1zM48 20h1v1h-1zM60 22h1v1h-1zM95 22h1v1h-1zM49 24h1v1h-1z"/>
<path fill="#d05548" d="M110 18h1v1h-1zM93 19h1v1h-1zM111 19h1v1h-1zM47 20h1v1h-1zM67 20h1v1h-1zM96 20h1v1h-1zM105 20h1v1h-1zM65 21h1v1h-1zM1 22h1v1h-1zM46 23h1v1h-1zM53 24h1v1h-1z"/>
<path fill="#ce4f45" d="M106 18h1v1h-1zM40 19h1v1h-1zM52 19h1v1h-1zM66 19h1v1h-1zM105 19h1v1h-1zM3 20h1v1h-1zM49 20h1v1h-1zM110 20h1v1h-1zM1 21h1v1h-1zM64 21h1v1h-1zM47 23h1v1h-1zM56 23h1v1h-1zM52 24h1v1h-1z"/>
<path fill="#cb4942" d="M107 18h1v1h-1zM109 18h1v1h-1zM44 19h1v1h-1zM4 20h5v1h-5zM91 20h1v1h-1zM63 21h1v1h-1zM59 22h1v1h-1zM93 22h2v1h-2zM50 24h2v1h-2z"/>
<path fill="#c84440" d="M108 18h1v1h-1zM63 19h3v1h-3zM110 19h1v1h-1zM9 20h9v1h-9zM46 20h1v1h-1zM106 20h1v1h-1zM91 21h1v1h-1zM96 21h1v1h-1zM48 23h1v1h-1zM55 23h1v1h-1z"/>
<path fill="#c53e3d" d="M53 19h1v1h-1zM62 19h1v1h-1zM18 20h21v1h-21zM50 20h1v1h-1zM95 20h1v1h-1zM109 20h1v1h-1zM48 21h1v1h-1zM62 21h1v1h-1zM48 22h1v1h-1z"/>
<path fill="#c2383a" d="M41 19h1v1h-1zM61 19h1v1h-1zM106 19h1v1h-1zM66 20h1v1h-1zM92 20h1v1h-1zM107 20h2v1h-2zM47 21h1v1h-1zM2 22h1v1h-1zM47 22h1v1h-1zM49 22h1v1h-1zM49 23h1v1h-1zM54 23h1v1h-1z"/>
<path fill="#bf3338" d="M43 19h1v1h-1zM59 19h2v1h-2zM109 19h1v1h-1zM39 20h1v1h-1zM45 20h1v1h-1zM2 21h1v1h-1zM49 21h1v1h-1zM58 22h1v1h-1zM53 23h1v1h-1z"/>
<path fill="#bd2d35" d="M42 19h1v1h-1zM54 19h1v1h-1zM58 19h1v1h-1zM107 19h2v1h-2zM51 20h1v1h-1zM65 20h1v1h-1zM93 20h2v1h-2zM61 21h1v1h-1zM10 22h29v1h-29zM46 22h1v1h-1zM50 22h1v1h-1zM50 23h3v1h-3z"/>
<path fill="#ba2832" d="M57 19h1v1h-1zM63 20h2v1h-2zM46 21h1v1h-1zM3 22h1v1h-1zM8 22h2v1h-2zM39 22h1v1h-1zM45 22h1v1h-1zM51 22h1v1h-1z"/>
<path fill="#b72230" d="M55 19h2v1h-2zM62 20h1v1h-1zM3 21h1v1h-1zM10 21h28v1h-28zM50 21h1v1h-1zM60 21h1v1h-1zM92 21h1v1h-1zM4 22h4v1h-4zM57 22h1v1h-1z"/>
<path fill="#b41c2d" d="M40 20h1v1h-1zM52 20h1v1h-1zM61 20h1v1h-1zM7 21h3v1h-3zM38 21h1v1h-1zM95 21h1v1h-1zM40 22h1v1h-1zM44 22h1v1h-1zM52 22h1v1h-1z"/>
<path fill="#b1182b" d="M44 20h1v1h-1zM60 20h1v1h-1zM4 21h3v1h-3zM39 21h1v1h-1zM45 21h1v1h-1zM51 21h1v1h-1zM59 21h1v1h-1zM53 22h2v1h-2zM56 22h1v1h-1z"/>
<path fill="#ab162a" d="M59 20h1v1h-1zM41 22h1v1h-1zM55 22h1v1h-1z"/>
<path fill="#a51429" d="M53 20h1v1h-1zM43 22h1v1h-1z"/>
<path fill="#9f1228" d="M58 20h1v1h-1zM40 21h1v1h-1zM52 21h1v1h-1zM58 21h1v1h-1zM93 21h2v1h-2zM42 22h1v1h-1z"/>
<path fill="#991027" d="M41 20h1v1h-1zM44 21h1v1h-1z"/>
<path fill="#930e26" d="M43 20h1v1h-1zM54 20h1v1h-1zM57 20h1v1h-1zM53 21h1v1h-1z"/>
<path fill="#8d0c25" d="M57 21h1v1h-1z"/>
<path fill="#870a24" d="M42 20h1v1h-1zM55 20h2v1h-2zM54 21h1v1h-1z"/>
<path fill="#810823" d="M41 21h1v1h-1zM56 21h1v1h-1z"/>
<path fill="#7c0722" d="M43 21h1v1h-1zM55 21h1v1h-1z"/>
<path fill="#700320" d="M42 21h1v1h-1z"/>
</g></g>
<g clip-path="url(#cpc)"><g transform="translate(88.5,452.50) scale(5.125,4.7)" shape-rendering="crispEdges" stroke="none">
<path fill="#195696" d="M96 21h1v1h-1z"/>
<path fill="#1f63a8" d="M96 20h1v1h-1z"/>
<path fill="#2267ac" d="M97 21h1v1h-1z"/>
<path fill="#2a71b2" d="M98 21h1v1h-1z"/>
<path fill="#2f79b5" d="M100 24h1v1h-1z"/>
<path fill="#3783bb" d="M44 20h1v1h-1zM95 20h1v1h-1zM95 21h1v1h-1z"/>
<path fill="#4291c2" d="M96 19h1v1h-1z"/>
<path fill="#4695c4" d="M44 19h1v1h-1zM68 19h1v1h-1zM98 24h1v1h-1zM100 25h1v1h-1z"/>
<path fill="#4c99c6" d="M68 20h1v1h-1zM64 21h1v1h-1z"/>
<path fill="#529dc8" d="M69 19h1v1h-1zM99 24h1v1h-1z"/>
<path fill="#59a1ca" d="M69 20h1v1h-1zM77 21h1v1h-1zM102 23h1v1h-1z"/>
<path fill="#5fa5cd" d="M58 20h1v1h-1zM78 21h1v1h-1z"/>
<path fill="#65a9cf" d="M60 21h1v1h-1z"/>
<path fill="#6bacd1" d="M97 20h1v1h-1zM44 21h1v1h-1zM64 22h1v1h-1zM96 22h1v1h-1zM102 24h1v1h-1z"/>
<path fill="#71b0d3" d="M96 18h1v1h-1zM59 21h1v1h-1z"/>
<path fill="#78b4d5" d="M68 18h1v1h-1zM58 19h1v1h-1zM78 20h1v1h-1zM58 21h1v1h-1zM97 22h1v1h-1zM97 24h1v1h-1zM2 27h1v1h-1zM2 28h1v1h-1z"/>
<path fill="#7eb8d7" d="M57 20h1v1h-1z"/>
<path fill="#84bcd9" d="M69 18h1v1h-1zM68 21h1v1h-1zM98 22h1v1h-1zM103 24h1v1h-1z"/>
<path fill="#8ac0db" d="M43 20h1v1h-1zM59 20h1v1h-1zM60 22h1v1h-1zM103 25h1v1h-1zM3 27h1v1h-1zM3 28h1v1h-1z"/>
<path fill="#90c4dd" d="M57 19h1v1h-1zM95 19h1v1h-1zM60 20h1v1h-1zM77 22h1v1h-1zM102 22h1v1h-1zM9 24h1v1h-1z"/>
<path fill="#96c7df" d="M45 19h1v1h-1zM45 20h1v1h-1zM69 21h1v1h-1zM59 22h1v1h-1zM78 22h1v1h-1zM95 22h1v1h-1zM82 24h1v1h-1zM2 29h1v1h-1z"/>
<path fill="#9bc9e0" d="M44 18h1v1h-1zM43 19h1v1h-1zM77 20h1v1h-1zM79 20h1v1h-1zM115 20h1v1h-1zM57 21h1v1h-1zM94 21h1v1h-1zM2 26h1v1h-1zM1 28h1v1h-1z"/>
<path fill="#a0cce2" d="M115 19h1v1h-1zM117 19h1v1h-1zM114 20h1v1h-1zM116 20h2v1h-2zM65 21h1v1h-1zM103 23h1v1h-1zM64 24h1v1h-1zM98 25h2v1h-2zM1 27h1v1h-1zM3 29h1v1h-1z"/>
<path fill="#a5cee3" d="M78 19h2v1h-2zM114 19h1v1h-1zM116 19h1v1h-1zM118 19h1v1h-1zM94 20h1v1h-1zM98 20h1v1h-1zM112 20h2v1h-2zM118 20h1v1h-1zM10 24h1v1h-1zM102 25h1v1h-1zM3 26h1v1h-1z"/>
<path fill="#a9d1e5" d="M112 19h2v1h-2zM61 21h1v1h-1zM58 22h1v1h-1z"/>
<path fill="#aed3e6" d="M96 17h1v1h-1zM58 18h1v1h-1zM79 21h1v1h-1zM115 21h1v1h-1zM65 22h1v1h-1zM64 23h1v1h-1zM68 24h1v1h-1zM83 24h1v1h-1zM68 25h1v1h-1zM1 29h1v1h-1z"/>
<path fill="#b3d6e8" d="M45 18h1v1h-1zM67 19h1v1h-1zM43 21h1v1h-1zM112 21h1v1h-1zM114 21h1v1h-1zM117 21h1v1h-1zM7 22h1v1h-1zM68 22h1v1h-1zM101 24h1v1h-1zM1 26h1v1h-1z"/>
<path fill="#b8d8e9" d="M68 17h1v1h-1zM57 18h1v1h-1zM114 18h4v1h-4zM64 20h1v1h-1zM67 20h1v1h-1zM119 20h1v1h-1zM45 21h1v1h-1zM113 21h1v1h-1zM116 21h1v1h-1zM118 21h1v1h-1zM61 22h1v1h-1zM98 23h1v1h-1zM100 23h1v1h-1zM65 24h1v1h-1zM82 25h1v1h-1zM97 25h1v1h-1zM4 27h1v1h-1zM4 28h1v1h-1zM2 30h1v1h-1z"/>
<path fill="#bddbea" d="M69 17h1v1h-1zM113 18h1v1h-1zM118 18h1v1h-1zM59 19h1v1h-1zM119 19h1v1h-1zM61 20h1v1h-1zM7 21h1v1h-1zM9 23h1v1h-1zM68 23h1v1h-1zM97 23h1v1h-1zM56 24h1v1h-1zM58 24h1v1h-1zM96 24h1v1h-1zM64 25h1v1h-1z"/>
<path fill="#c2ddec" d="M79 18h1v1h-1zM112 18h1v1h-1zM111 19h1v1h-1zM111 20h1v1h-1zM57 22h1v1h-1zM58 23h2v1h-2zM2 25h1v1h-1zM9 25h1v1h-1zM101 25h1v1h-1zM3 30h1v1h-1z"/>
<path fill="#c7e0ed" d="M43 18h1v1h-1zM67 18h1v1h-1zM78 18h1v1h-1zM99 21h1v1h-1zM69 22h1v1h-1zM60 23h1v1h-1zM82 23h1v1h-1zM96 23h1v1h-1zM99 23h1v1h-1zM83 25h1v1h-1zM4 29h1v1h-1z"/>
<path fill="#cce2ef" d="M44 17h1v1h-1zM119 18h1v1h-1zM77 19h1v1h-1zM80 20h1v1h-1zM119 21h1v1h-1zM44 22h1v1h-1zM10 23h1v1h-1zM65 23h1v1h-1zM119 24h1v1h-1zM10 25h1v1h-1zM56 25h1v1h-1zM68 26h1v1h-1zM100 26h1v1h-1zM1 30h1v1h-1z"/>
<path fill="#d1e5f0" d="M45 17h1v1h-1zM115 17h3v1h-3zM111 18h1v1h-1zM60 19h1v1h-1zM80 19h1v1h-1zM97 19h1v1h-1zM111 21h1v1h-1zM79 22h1v1h-1zM94 22h1v1h-1zM115 22h1v1h-1zM57 24h1v1h-1zM59 24h1v1h-1zM1 25h1v1h-1zM65 25h1v1h-1zM0 27h1v1h-1zM0 28h1v1h-1z"/>
<path fill="#d4e6f1" d="M113 17h2v1h-2zM118 17h1v1h-1zM46 18h1v1h-1zM46 19h1v1h-1zM94 19h1v1h-1zM110 19h1v1h-1zM110 20h1v1h-1zM67 21h1v1h-1zM102 21h1v1h-1zM112 22h3v1h-3zM116 22h2v1h-2zM57 23h1v1h-1zM63 24h1v1h-1zM38 25h1v1h-1zM103 26h1v1h-1z"/>
<path fill="#d7e8f1" d="M112 17h1v1h-1zM95 18h1v1h-1zM65 20h1v1h-1zM80 21h1v1h-1zM6 22h1v1h-1zM99 22h1v1h-1zM103 22h1v1h-1zM118 22h1v1h-1zM83 23h1v1h-1zM13 24h1v1h-1zM38 24h1v1h-1zM118 24h1v1h-1zM3 25h1v1h-1zM13 25h1v1h-1zM0 26h1v1h-1zM4 26h1v1h-1zM0 29h1v1h-1zM4 30h1v1h-1zM2 31h1v1h-1z"/>
<path fill="#dae9f2" d="M46 17h1v1h-1zM58 17h1v1h-1zM119 17h1v1h-1zM110 18h1v1h-1zM109 19h1v1h-1zM46 20h1v1h-1zM6 21h1v1h-1zM110 21h1v1h-1zM8 22h1v1h-1zM56 23h1v1h-1zM61 23h1v1h-1zM69 23h1v1h-1zM95 23h1v1h-1zM69 25h1v1h-1zM104 25h1v1h-1zM102 26h1v1h-1zM3 31h1v1h-1z"/>
<path fill="#ddebf2" d="M45 16h1v1h-1zM114 16h4v1h-4zM43 17h1v1h-1zM57 17h1v1h-1zM67 17h1v1h-1zM79 17h1v1h-1zM111 17h1v1h-1zM80 18h1v1h-1zM61 19h1v1h-1zM70 19h1v1h-1zM21 20h1v1h-1zM76 21h1v1h-1zM45 22h1v1h-1zM111 22h1v1h-1zM119 22h1v1h-1zM8 23h1v1h-1zM78 23h1v1h-1zM101 23h1v1h-1zM112 23h1v1h-1zM118 23h2v1h-2zM8 24h1v1h-1zM69 24h1v1h-1zM112 24h1v1h-1zM37 25h1v1h-1zM57 25h2v1h-2zM96 25h1v1h-1zM38 26h1v1h-1zM5 28h1v1h-1z"/>
<path fill="#e0ecf3" d="M44 16h1v1h-1zM46 16h1v1h-1zM68 16h2v1h-2zM112 16h2v1h-2zM118 16h1v1h-1zM78 17h1v1h-1zM110 17h1v1h-1zM59 18h1v1h-1zM77 18h1v1h-1zM109 18h1v1h-1zM109 20h1v1h-1zM8 21h1v1h-1zM62 22h2v1h-2zM7 23h1v1h-1zM63 23h1v1h-1zM37 24h1v1h-1zM86 24h1v1h-1zM63 25h1v1h-1zM86 25h2v1h-2zM5 27h1v1h-1zM23 27h1v1h-1zM0 30h1v1h-1zM1 31h1v1h-1z"/>
<path fill="#e3edf3" d="M114 15h3v1h-3zM96 16h1v1h-1zM111 16h1v1h-1zM119 16h1v1h-1zM70 18h1v1h-1zM108 19h1v1h-1zM56 20h1v1h-1zM70 20h1v1h-1zM46 21h1v1h-1zM62 21h2v1h-2zM43 22h1v1h-1zM67 22h1v1h-1zM80 22h1v1h-1zM113 23h1v1h-1zM117 23h1v1h-1zM2 24h1v1h-1zM34 24h1v1h-1zM66 24h1v1h-1zM84 24h2v1h-2zM95 24h1v1h-1zM0 25h1v1h-1zM84 25h2v1h-2zM88 25h1v1h-1zM23 26h1v1h-1zM69 26h1v1h-1zM98 26h2v1h-2zM25 27h1v1h-1zM23 28h1v1h-1zM25 28h1v1h-1zM5 29h1v1h-1z"/>
<path fill="#e6eff4" d="M45 15h1v1h-1zM112 15h2v1h-2zM117 15h2v1h-2zM43 16h1v1h-1zM110 16h1v1h-1zM47 17h1v1h-1zM109 17h1v1h-1zM47 18h1v1h-1zM97 18h1v1h-1zM21 19h1v1h-1zM42 19h1v1h-1zM47 19h1v1h-1zM56 19h1v1h-1zM42 20h1v1h-1zM66 20h1v1h-1zM76 20h1v1h-1zM56 21h1v1h-1zM110 22h1v1h-1zM38 23h1v1h-1zM62 23h1v1h-1zM77 23h1v1h-1zM114 23h3v1h-3zM11 24h1v1h-1zM33 24h1v1h-1zM81 24h1v1h-1zM87 24h1v1h-1zM39 25h1v1h-1zM59 25h1v1h-1zM119 25h1v1h-1zM25 26h1v1h-1zM37 26h1v1h-1zM101 26h1v1h-1zM68 27h1v1h-1zM23 29h1v1h-1zM25 29h1v1h-1zM4 31h1v1h-1z"/>
<path fill="#e9f0f4" d="M113 14h5v1h-5zM44 15h1v1h-1zM46 15h1v1h-1zM111 15h1v1h-1zM119 15h1v1h-1zM18 16h1v1h-1zM18 17h1v1h-1zM80 17h1v1h-1zM18 18h1v1h-1zM108 18h1v1h-1zM66 19h1v1h-1zM7 20h1v1h-1zM47 20h1v1h-1zM66 21h1v1h-1zM9 22h1v1h-1zM56 22h1v1h-1zM76 22h1v1h-1zM79 23h1v1h-1zM1 24h1v1h-1zM12 24h1v1h-1zM39 24h1v1h-1zM60 24h1v1h-1zM113 24h1v1h-1zM117 24h1v1h-1zM8 25h1v1h-1zM23 25h1v1h-1zM34 25h1v1h-1zM66 25h1v1h-1zM89 25h1v1h-1zM118 25h1v1h-1zM56 26h1v1h-1zM82 26h2v1h-2zM97 26h1v1h-1zM5 30h1v1h-1zM25 30h1v1h-1zM0 31h1v1h-1zM2 32h2v1h-2z"/>
<path fill="#ecf2f5" d="M111 14h2v1h-2zM118 14h2v1h-2zM110 15h1v1h-1zM47 16h1v1h-1zM58 16h1v1h-1zM67 16h1v1h-1zM109 16h1v1h-1zM59 17h1v1h-1zM70 17h1v1h-1zM77 17h1v1h-1zM95 17h1v1h-1zM108 17h1v1h-1zM42 18h1v1h-1zM60 18h1v1h-1zM66 18h1v1h-1zM94 18h1v1h-1zM64 19h1v1h-1zM81 20h1v1h-1zM42 21h1v1h-1zM47 21h1v1h-1zM46 22h1v1h-1zM33 23h2v1h-2zM37 23h1v1h-1zM66 23h2v1h-2zM81 23h1v1h-1zM111 23h1v1h-1zM14 24h1v1h-1zM35 24h1v1h-1zM61 24h1v1h-1zM11 25h2v1h-2zM14 25h1v1h-1zM25 25h1v1h-1zM33 25h1v1h-1zM81 25h1v1h-1zM9 26h2v1h-2zM39 26h1v1h-1zM64 26h2v1h-2zM87 26h1v1h-1zM104 26h1v1h-1zM26 27h1v1h-1zM38 27h1v1h-1zM26 28h1v1h-1zM23 30h1v1h-1zM1 32h1v1h-1z"/>
<path fill="#eff3f5" d="M112 13h8v1h-8zM44 14h3v1h-3zM110 14h1v1h-1zM18 15h1v1h-1zM43 15h1v1h-1zM68 15h1v1h-1zM109 15h1v1h-1zM19 16h1v1h-1zM57 16h1v1h-1zM78 16h2v1h-2zM19 17h1v1h-1zM42 17h1v1h-1zM97 17h1v1h-1zM19 18h1v1h-1zM56 18h1v1h-1zM61 18h1v1h-1zM18 19h1v1h-1zM76 19h1v1h-1zM98 19h1v1h-1zM6 20h1v1h-1zM81 21h1v1h-1zM66 22h1v1h-1zM81 22h2v1h-2zM100 22h1v1h-1zM13 23h1v1h-1zM35 23h1v1h-1zM80 23h1v1h-1zM84 23h1v1h-1zM0 24h1v1h-1zM23 24h1v1h-1zM36 24h1v1h-1zM67 24h1v1h-1zM115 24h2v1h-2zM35 25h2v1h-2zM67 25h1v1h-1zM90 25h1v1h-1zM95 25h1v1h-1zM26 26h1v1h-1zM57 26h1v1h-1zM84 26h3v1h-3zM88 26h2v1h-2zM96 26h1v1h-1zM6 27h1v1h-1zM37 27h1v1h-1zM69 27h1v1h-1zM102 27h2v1h-2zM6 28h1v1h-1zM6 29h1v1h-1zM26 29h1v1h-1zM5 31h1v1h-1zM23 31h1v1h-1zM25 31h1v1h-1zM4 32h1v1h-1z"/>
<path fill="#f2f5f6" d="M117 12h2v1h-2zM45 13h1v1h-1zM109 13h3v1h-3zM18 14h1v1h-1zM43 14h1v1h-1zM109 14h1v1h-1zM19 15h1v1h-1zM47 15h1v1h-1zM69 15h1v1h-1zM42 16h1v1h-1zM70 16h1v1h-1zM108 16h1v1h-1zM66 17h1v1h-1zM19 19h1v1h-1zM22 19h1v1h-1zM65 19h1v1h-1zM81 19h1v1h-1zM8 20h1v1h-1zM20 20h1v1h-1zM22 20h1v1h-1zM63 20h1v1h-1zM21 21h1v1h-1zM101 22h1v1h-1zM11 23h1v1h-1zM23 23h1v1h-1zM85 23h3v1h-3zM110 23h1v1h-1zM7 24h1v1h-1zM25 24h1v1h-1zM32 24h1v1h-1zM55 24h1v1h-1zM62 24h1v1h-1zM79 24h2v1h-2zM114 24h1v1h-1zM26 25h1v1h-1zM32 25h1v1h-1zM112 25h1v1h-1zM117 25h1v1h-1zM13 26h1v1h-1zM36 26h1v1h-1zM90 26h1v1h-1zM39 27h1v1h-1zM100 27h1v1h-1zM68 28h1v1h-1zM6 30h1v1h-1zM26 30h1v1h-1zM0 32h1v1h-1zM1 33h3v1h-3z"/>
<path fill="#f5f6f7" d="M117 11h3v1h-3zM44 12h2v1h-2zM109 12h8v1h-8zM119 12h1v1h-1zM18 13h2v1h-2zM43 13h2v1h-2zM46 13h1v1h-1zM19 14h1v1h-1zM42 14h1v1h-1zM47 14h1v1h-1zM108 14h1v1h-1zM42 15h1v1h-1zM57 15h2v1h-2zM67 15h1v1h-1zM70 15h1v1h-1zM96 15h1v1h-1zM108 15h1v1h-1zM59 16h1v1h-1zM66 16h1v1h-1zM77 16h1v1h-1zM80 16h1v1h-1zM95 16h1v1h-1zM97 16h1v1h-1zM56 17h1v1h-1zM60 17h2v1h-2zM94 17h1v1h-1zM21 18h1v1h-1zM7 19h1v1h-1zM20 19h1v1h-1zM19 20h1v1h-1zM62 20h1v1h-1zM108 20h1v1h-1zM5 21h1v1h-1zM9 21h1v1h-1zM101 21h1v1h-1zM34 22h1v1h-1zM42 22h1v1h-1zM47 22h1v1h-1zM83 22h1v1h-1zM12 23h1v1h-1zM14 23h1v1h-1zM25 23h1v1h-1zM32 23h1v1h-1zM36 23h1v1h-1zM55 23h1v1h-1zM26 24h1v1h-1zM88 24h1v1h-1zM111 24h1v1h-1zM22 25h1v1h-1zM24 25h1v1h-1zM55 25h1v1h-1zM60 25h2v1h-2zM80 25h1v1h-1zM91 25h1v1h-1zM111 25h1v1h-1zM113 25h4v1h-4zM8 26h1v1h-1zM11 26h2v1h-2zM22 26h1v1h-1zM24 26h1v1h-1zM33 26h3v1h-3zM58 26h2v1h-2zM66 26h2v1h-2zM81 26h1v1h-1zM95 26h1v1h-1zM118 26h2v1h-2zM7 27h1v1h-1zM22 27h1v1h-1zM24 27h1v1h-1zM36 27h1v1h-1zM56 27h1v1h-1zM82 27h2v1h-2zM85 27h4v1h-4zM101 27h1v1h-1zM7 28h1v1h-1zM22 28h1v1h-1zM24 28h1v1h-1zM37 28h3v1h-3zM69 28h1v1h-1zM102 28h1v1h-1zM7 29h1v1h-1zM22 29h1v1h-1zM24 29h1v1h-1zM24 30h1v1h-1zM6 31h1v1h-1zM26 31h1v1h-1zM5 32h2v1h-2zM23 32h1v1h-1zM25 32h2v1h-2zM0 33h1v1h-1zM4 33h2v1h-2zM23 33h1v1h-1zM25 33h1v1h-1zM1 34h3v1h-3z"/>
<path fill="#f7f6f6" d="M0 0h53v1h-53zM56 0h12v1h-12zM71 0h4v1h-4zM80 0h23v1h-23zM105 0h8v1h-8zM116 0h4v1h-4zM0 1h53v1h-53zM56 1h12v1h-12zM71 1h3v1h-3zM80 1h22v1h-22zM105 1h7v1h-7zM117 1h3v1h-3zM0 2h53v1h-53zM56 2h11v1h-11zM72 2h2v1h-2zM81 2h21v1h-21zM108 2h4v1h-4zM117 2h3v1h-3zM0 3h52v1h-52zM56 3h11v1h-11zM72 3h2v1h-2zM81 3h21v1h-21zM108 3h3v1h-3zM118 3h2v1h-2zM0 4h52v1h-52zM56 4h11v1h-11zM72 4h1v1h-1zM81 4h20v1h-20zM108 4h3v1h-3zM118 4h2v1h-2zM0 5h52v1h-52zM56 5h11v1h-11zM72 5h1v1h-1zM81 5h20v1h-20zM108 5h3v1h-3zM118 5h2v1h-2zM0 6h52v1h-52zM56 6h11v1h-11zM72 6h1v1h-1zM81 6h20v1h-20zM108 6h3v1h-3zM118 6h2v1h-2zM0 7h52v1h-52zM56 7h11v1h-11zM72 7h1v1h-1zM82 7h19v1h-19zM109 7h2v1h-2zM118 7h2v1h-2zM0 8h52v1h-52zM56 8h11v1h-11zM72 8h1v1h-1zM82 8h19v1h-19zM109 8h2v1h-2zM118 8h2v1h-2zM0 9h52v1h-52zM56 9h11v1h-11zM72 9h1v1h-1zM87 9h14v1h-14zM109 9h2v1h-2zM118 9h2v1h-2zM0 10h51v1h-51zM56 10h11v1h-11zM72 10h1v1h-1zM89 10h12v1h-12zM109 10h3v1h-3zM117 10h3v1h-3zM0 11h49v1h-49zM56 11h12v1h-12zM72 11h1v1h-1zM90 11h10v1h-10zM109 11h4v1h-4zM116 11h1v1h-1zM0 12h39v1h-39zM42 12h2v1h-2zM46 12h2v1h-2zM56 12h12v1h-12zM71 12h2v1h-2zM90 12h9v1h-9zM3 13h7v1h-7zM11 13h7v1h-7zM20 13h19v1h-19zM42 13h1v1h-1zM47 13h1v1h-1zM57 13h12v1h-12zM71 13h2v1h-2zM91 13h8v1h-8zM108 13h1v1h-1zM4 14h6v1h-6zM12 14h6v1h-6zM20 14h11v1h-11zM34 14h2v1h-2zM57 14h5v1h-5zM63 14h9v1h-9zM91 14h8v1h-8zM5 15h4v1h-4zM12 15h6v1h-6zM20 15h11v1h-11zM34 15h2v1h-2zM59 15h3v1h-3zM64 15h3v1h-3zM71 15h1v1h-1zM78 15h2v1h-2zM91 15h5v1h-5zM97 15h2v1h-2zM5 16h4v1h-4zM12 16h6v1h-6zM20 16h10v1h-10zM35 16h1v1h-1zM48 16h1v1h-1zM60 16h2v1h-2zM64 16h2v1h-2zM71 16h1v1h-1zM91 16h4v1h-4zM98 16h1v1h-1zM5 17h4v1h-4zM12 17h6v1h-6zM20 17h10v1h-10zM48 17h1v1h-1zM64 17h2v1h-2zM71 17h1v1h-1zM91 17h3v1h-3zM98 17h1v1h-1zM5 18h4v1h-4zM12 18h6v1h-6zM20 18h1v1h-1zM22 18h8v1h-8zM48 18h1v1h-1zM64 18h2v1h-2zM71 18h1v1h-1zM76 18h1v1h-1zM81 18h1v1h-1zM93 18h1v1h-1zM98 18h1v1h-1zM5 19h2v1h-2zM8 19h1v1h-1zM12 19h6v1h-6zM23 19h7v1h-7zM71 19h1v1h-1zM107 19h1v1h-1zM5 20h1v1h-1zM13 20h1v1h-1zM18 20h1v1h-1zM13 21h1v1h-1zM19 21h2v1h-2zM34 21h2v1h-2zM48 21h1v1h-1zM109 21h1v1h-1zM10 22h1v1h-1zM13 22h1v1h-1zM20 22h2v1h-2zM33 22h1v1h-1zM35 22h1v1h-1zM38 22h1v1h-1zM48 22h1v1h-1zM55 22h1v1h-1zM20 23h3v1h-3zM24 23h1v1h-1zM26 23h1v1h-1zM45 23h1v1h-1zM54 23h1v1h-1zM88 23h1v1h-1zM94 23h1v1h-1zM21 24h2v1h-2zM24 24h1v1h-1zM51 24h4v1h-4zM78 24h1v1h-1zM7 25h1v1h-1zM21 25h1v1h-1zM51 25h4v1h-4zM79 25h1v1h-1zM110 25h1v1h-1zM7 26h1v1h-1zM14 26h1v1h-1zM21 26h1v1h-1zM27 26h2v1h-2zM32 26h1v1h-1zM40 26h1v1h-1zM51 26h5v1h-5zM60 26h2v1h-2zM63 26h1v1h-1zM70 26h2v1h-2zM79 26h2v1h-2zM91 26h1v1h-1zM105 26h3v1h-3zM110 26h8v1h-8zM8 27h6v1h-6zM21 27h1v1h-1zM27 27h9v1h-9zM40 27h1v1h-1zM49 27h7v1h-7zM57 27h5v1h-5zM64 27h4v1h-4zM70 27h2v1h-2zM79 27h3v1h-3zM84 27h1v1h-1zM89 27h3v1h-3zM95 27h5v1h-5zM104 27h16v1h-16zM8 28h6v1h-6zM21 28h1v1h-1zM27 28h10v1h-10zM40 28h2v1h-2zM45 28h17v1h-17zM64 28h4v1h-4zM70 28h3v1h-3zM78 28h14v1h-14zM94 28h8v1h-8zM103 28h17v1h-17zM8 29h6v1h-6zM21 29h1v1h-1zM27 29h47v1h-47zM77 29h15v1h-15zM94 29h26v1h-26zM7 30h7v1h-7zM21 30h2v1h-2zM27 30h65v1h-65zM94 30h26v1h-26zM7 31h8v1h-8zM20 31h3v1h-3zM24 31h1v1h-1zM27 31h65v1h-65zM93 31h27v1h-27zM7 32h8v1h-8zM20 32h3v1h-3zM24 32h1v1h-1zM27 32h93v1h-93zM6 33h10v1h-10zM19 33h4v1h-4zM24 33h1v1h-1zM26 33h94v1h-94zM0 34h1v1h-1zM4 34h116v1h-116zM0 35h120v1h-120zM0 36h120v1h-120zM0 37h120v1h-120zM0 38h120v1h-120zM0 39h120v1h-120zM0 40h120v1h-120zM0 41h120v1h-120zM0 42h120v1h-120zM0 43h120v1h-120zM0 44h120v1h-120zM0 45h120v1h-120z"/>
<path fill="#f8f4f2" d="M53 0h3v1h-3zM68 0h3v1h-3zM75 0h5v1h-5zM103 0h2v1h-2zM113 0h3v1h-3zM53 1h1v1h-1zM55 1h1v1h-1zM68 1h1v1h-1zM70 1h1v1h-1zM74 1h2v1h-2zM79 1h1v1h-1zM102 1h3v1h-3zM112 1h2v1h-2zM115 1h2v1h-2zM55 2h1v1h-1zM67 2h1v1h-1zM71 2h1v1h-1zM74 2h1v1h-1zM80 2h1v1h-1zM102 2h1v1h-1zM104 2h4v1h-4zM112 2h1v1h-1zM116 2h1v1h-1zM52 3h1v1h-1zM67 3h1v1h-1zM71 3h1v1h-1zM74 3h1v1h-1zM80 3h1v1h-1zM105 3h3v1h-3zM111 3h1v1h-1zM117 3h1v1h-1zM52 4h1v1h-1zM67 4h1v1h-1zM71 4h1v1h-1zM73 4h2v1h-2zM80 4h1v1h-1zM101 4h1v1h-1zM107 4h1v1h-1zM111 4h1v1h-1zM117 4h1v1h-1zM52 5h1v1h-1zM67 5h1v1h-1zM71 5h1v1h-1zM73 5h1v1h-1zM80 5h1v1h-1zM101 5h1v1h-1zM111 5h1v1h-1zM117 5h1v1h-1zM52 6h1v1h-1zM67 6h1v1h-1zM73 6h1v1h-1zM101 6h1v1h-1zM111 6h1v1h-1zM117 6h1v1h-1zM52 7h1v1h-1zM67 7h1v1h-1zM73 7h1v1h-1zM81 7h1v1h-1zM101 7h1v1h-1zM108 7h1v1h-1zM111 7h1v1h-1zM117 7h1v1h-1zM52 8h1v1h-1zM67 8h1v1h-1zM71 8h1v1h-1zM73 8h1v1h-1zM81 8h1v1h-1zM108 8h1v1h-1zM111 8h1v1h-1zM117 8h1v1h-1zM52 9h1v1h-1zM55 9h1v1h-1zM67 9h1v1h-1zM71 9h1v1h-1zM73 9h1v1h-1zM80 9h7v1h-7zM108 9h1v1h-1zM111 9h1v1h-1zM117 9h1v1h-1zM51 10h2v1h-2zM55 10h1v1h-1zM67 10h1v1h-1zM71 10h1v1h-1zM73 10h1v1h-1zM80 10h4v1h-4zM87 10h2v1h-2zM108 10h1v1h-1zM112 10h1v1h-1zM116 10h1v1h-1zM49 11h3v1h-3zM55 11h1v1h-1zM71 11h1v1h-1zM73 11h1v1h-1zM80 11h2v1h-2zM88 11h2v1h-2zM100 11h1v1h-1zM108 11h1v1h-1zM113 11h3v1h-3zM39 12h1v1h-1zM41 12h1v1h-1zM48 12h1v1h-1zM55 12h1v1h-1zM68 12h3v1h-3zM80 12h1v1h-1zM89 12h1v1h-1zM99 12h2v1h-2zM108 12h1v1h-1zM0 13h3v1h-3zM10 13h1v1h-1zM48 13h1v1h-1zM56 13h1v1h-1zM69 13h2v1h-2zM79 13h1v1h-1zM90 13h1v1h-1zM3 14h1v1h-1zM11 14h1v1h-1zM31 14h3v1h-3zM36 14h3v1h-3zM48 14h1v1h-1zM56 14h1v1h-1zM62 14h1v1h-1zM72 14h1v1h-1zM78 14h2v1h-2zM90 14h1v1h-1zM4 15h1v1h-1zM9 15h1v1h-1zM48 15h1v1h-1zM56 15h1v1h-1zM63 15h1v1h-1zM72 15h1v1h-1zM77 15h1v1h-1zM80 15h1v1h-1zM90 15h1v1h-1zM4 16h1v1h-1zM9 16h1v1h-1zM30 16h1v1h-1zM34 16h1v1h-1zM56 16h1v1h-1zM72 16h1v1h-1zM90 16h1v1h-1zM4 17h1v1h-1zM30 17h1v1h-1zM34 17h2v1h-2zM72 17h1v1h-1zM76 17h1v1h-1zM81 17h1v1h-1zM90 17h1v1h-1zM4 18h1v1h-1zM30 18h1v1h-1zM34 18h2v1h-2zM72 18h1v1h-1zM90 18h3v1h-3zM107 18h1v1h-1zM4 19h1v1h-1zM30 19h1v1h-1zM34 19h2v1h-2zM48 19h1v1h-1zM9 20h1v1h-1zM12 20h1v1h-1zM14 20h1v1h-1zM23 20h1v1h-1zM28 20h3v1h-3zM34 20h2v1h-2zM48 20h1v1h-1zM101 20h1v1h-1zM55 21h1v1h-1zM100 21h1v1h-1zM14 22h1v1h-1zM19 22h1v1h-1zM22 22h2v1h-2zM28 22h2v1h-2zM31 22h2v1h-2zM36 22h2v1h-2zM54 22h1v1h-1zM19 23h1v1h-1zM28 23h2v1h-2zM31 23h1v1h-1zM39 23h1v1h-1zM50 23h4v1h-4zM20 24h1v1h-1zM50 24h1v1h-1zM20 25h1v1h-1zM40 25h1v1h-1zM50 25h1v1h-1zM70 25h2v1h-2zM105 25h3v1h-3zM20 26h1v1h-1zM29 26h1v1h-1zM31 26h1v1h-1zM50 26h1v1h-1zM20 27h1v1h-1zM46 27h3v1h-3zM72 27h1v1h-1zM78 27h1v1h-1zM20 28h1v1h-1zM42 28h3v1h-3zM63 28h1v1h-1zM73 28h1v1h-1zM77 28h1v1h-1zM14 29h1v1h-1zM20 29h1v1h-1zM74 29h3v1h-3zM14 30h1v1h-1zM20 30h1v1h-1zM19 31h1v1h-1zM92 31h1v1h-1zM15 32h1v1h-1zM18 32h2v1h-2zM16 33h3v1h-3z"/>
<path fill="#f8f2ef" d="M54 1h1v1h-1zM69 1h1v1h-1zM76 1h3v1h-3zM114 1h1v1h-1zM53 2h1v1h-1zM68 2h3v1h-3zM75 2h1v1h-1zM79 2h1v1h-1zM103 2h1v1h-1zM113 2h3v1h-3zM55 3h1v1h-1zM68 3h1v1h-1zM75 3h1v1h-1zM79 3h1v1h-1zM102 3h1v1h-1zM104 3h1v1h-1zM112 3h1v1h-1zM116 3h1v1h-1zM55 4h1v1h-1zM102 4h1v1h-1zM105 4h2v1h-2zM112 4h1v1h-1zM116 4h1v1h-1zM74 5h1v1h-1zM105 5h1v1h-1zM107 5h1v1h-1zM116 5h1v1h-1zM55 6h1v1h-1zM71 6h1v1h-1zM74 6h1v1h-1zM80 6h1v1h-1zM55 7h1v1h-1zM71 7h1v1h-1zM74 7h1v1h-1zM80 7h1v1h-1zM55 8h1v1h-1zM74 8h1v1h-1zM80 8h1v1h-1zM101 8h1v1h-1zM116 8h1v1h-1zM53 9h1v1h-1zM74 9h1v1h-1zM101 9h1v1h-1zM112 9h1v1h-1zM116 9h1v1h-1zM53 10h2v1h-2zM68 10h1v1h-1zM70 10h1v1h-1zM84 10h3v1h-3zM101 10h1v1h-1zM115 10h1v1h-1zM52 11h3v1h-3zM68 11h3v1h-3zM79 11h1v1h-1zM82 11h1v1h-1zM87 11h1v1h-1zM101 11h1v1h-1zM40 12h1v1h-1zM49 12h2v1h-2zM54 12h1v1h-1zM73 12h1v1h-1zM79 12h1v1h-1zM81 12h1v1h-1zM88 12h1v1h-1zM101 12h1v1h-1zM39 13h1v1h-1zM41 13h1v1h-1zM55 13h1v1h-1zM77 13h2v1h-2zM80 13h1v1h-1zM89 13h1v1h-1zM99 13h3v1h-3zM0 14h1v1h-1zM2 14h1v1h-1zM55 14h1v1h-1zM77 14h1v1h-1zM80 14h1v1h-1zM89 14h1v1h-1zM101 14h1v1h-1zM3 15h1v1h-1zM31 15h1v1h-1zM33 15h1v1h-1zM36 15h1v1h-1zM38 15h1v1h-1zM62 15h1v1h-1zM89 15h1v1h-1zM101 15h1v1h-1zM63 16h1v1h-1zM76 16h1v1h-1zM89 16h1v1h-1zM101 16h1v1h-1zM9 17h1v1h-1zM89 17h1v1h-1zM101 17h1v1h-1zM9 18h1v1h-1zM101 18h1v1h-1zM9 19h1v1h-1zM93 19h1v1h-1zM101 19h1v1h-1zM4 20h1v1h-1zM24 20h4v1h-4zM55 20h1v1h-1zM14 21h1v1h-1zM22 21h1v1h-1zM30 21h1v1h-1zM33 21h1v1h-1zM24 22h4v1h-4zM30 22h1v1h-1zM49 22h1v1h-1zM84 22h1v1h-1zM6 23h1v1h-1zM15 23h1v1h-1zM46 23h1v1h-1zM109 23h1v1h-1zM15 24h1v1h-1zM19 24h1v1h-1zM29 24h1v1h-1zM31 24h1v1h-1zM40 24h1v1h-1zM104 24h1v1h-1zM110 24h1v1h-1zM28 25h2v1h-2zM31 25h1v1h-1zM72 25h1v1h-1zM78 25h1v1h-1zM72 26h1v1h-1zM78 26h1v1h-1zM109 26h1v1h-1zM14 27h1v1h-1zM41 27h1v1h-1zM63 27h1v1h-1zM94 27h1v1h-1zM14 28h1v1h-1zM62 28h1v1h-1zM19 30h1v1h-1zM93 30h1v1h-1zM15 31h1v1h-1zM16 32h2v1h-2z"/>
<path fill="#f9f0eb" d="M54 2h1v1h-1zM76 2h3v1h-3zM53 3h1v1h-1zM70 3h1v1h-1zM103 3h1v1h-1zM113 3h1v1h-1zM115 3h1v1h-1zM53 4h1v1h-1zM68 4h1v1h-1zM70 4h1v1h-1zM75 4h1v1h-1zM79 4h1v1h-1zM104 4h1v1h-1zM55 5h1v1h-1zM79 5h1v1h-1zM102 5h1v1h-1zM106 5h1v1h-1zM112 5h1v1h-1zM53 6h1v1h-1zM105 6h1v1h-1zM107 6h1v1h-1zM112 6h1v1h-1zM116 6h1v1h-1zM53 7h1v1h-1zM112 7h1v1h-1zM116 7h1v1h-1zM53 8h1v1h-1zM112 8h1v1h-1zM54 9h1v1h-1zM68 9h1v1h-1zM70 9h1v1h-1zM79 9h1v1h-1zM69 10h1v1h-1zM74 10h1v1h-1zM79 10h1v1h-1zM113 10h2v1h-2zM74 11h1v1h-1zM83 11h4v1h-4zM51 12h3v1h-3zM77 12h2v1h-2zM82 12h1v1h-1zM49 13h1v1h-1zM54 13h1v1h-1zM73 13h1v1h-1zM76 13h1v1h-1zM81 13h1v1h-1zM88 13h1v1h-1zM1 14h1v1h-1zM10 14h1v1h-1zM73 14h1v1h-1zM76 14h1v1h-1zM81 14h1v1h-1zM0 15h1v1h-1zM11 15h1v1h-1zM32 15h1v1h-1zM37 15h1v1h-1zM55 15h1v1h-1zM76 15h1v1h-1zM81 15h1v1h-1zM3 16h1v1h-1zM38 16h1v1h-1zM55 16h1v1h-1zM81 16h1v1h-1zM55 17h1v1h-1zM63 17h1v1h-1zM55 18h1v1h-1zM89 18h1v1h-1zM55 19h1v1h-1zM63 19h1v1h-1zM72 19h1v1h-1zM15 20h1v1h-1zM99 20h1v1h-1zM29 21h1v1h-1zM31 21h1v1h-1zM75 21h1v1h-1zM5 22h1v1h-1zM18 22h1v1h-1zM50 22h1v1h-1zM53 22h1v1h-1zM87 22h1v1h-1zM109 22h1v1h-1zM18 23h1v1h-1zM27 23h1v1h-1zM44 23h1v1h-1zM49 23h1v1h-1zM28 24h1v1h-1zM71 24h2v1h-2zM27 25h1v1h-1zM6 26h1v1h-1zM30 26h1v1h-1zM49 26h1v1h-1zM45 27h1v1h-1zM74 28h1v1h-1zM76 28h1v1h-1zM15 30h1v1h-1zM92 30h1v1h-1zM18 31h1v1h-1z"/>
<path fill="#f9eee7" d="M54 3h1v1h-1zM69 3h1v1h-1zM76 3h3v1h-3zM114 3h1v1h-1zM103 4h1v1h-1zM113 4h1v1h-1zM115 4h1v1h-1zM53 5h1v1h-1zM68 5h1v1h-1zM70 5h1v1h-1zM75 5h1v1h-1zM104 5h1v1h-1zM68 6h1v1h-1zM75 6h1v1h-1zM79 6h1v1h-1zM102 6h1v1h-1zM106 6h1v1h-1zM54 7h1v1h-1zM68 7h1v1h-1zM75 7h1v1h-1zM79 7h1v1h-1zM105 7h1v1h-1zM107 7h1v1h-1zM54 8h1v1h-1zM68 8h1v1h-1zM70 8h1v1h-1zM75 8h1v1h-1zM79 8h1v1h-1zM115 8h1v1h-1zM75 9h1v1h-1zM113 9h1v1h-1zM115 9h1v1h-1zM75 10h1v1h-1zM75 11h1v1h-1zM78 11h1v1h-1zM76 12h1v1h-1zM87 12h1v1h-1zM50 13h1v1h-1zM53 13h1v1h-1zM39 14h1v1h-1zM41 14h1v1h-1zM49 14h1v1h-1zM54 14h1v1h-1zM88 14h1v1h-1zM100 14h1v1h-1zM2 15h1v1h-1zM49 15h1v1h-1zM73 15h1v1h-1zM88 15h1v1h-1zM31 16h1v1h-1zM33 16h1v1h-1zM36 16h1v1h-1zM88 16h1v1h-1zM3 17h1v1h-1zM73 17h1v1h-1zM107 17h1v1h-1zM3 18h1v1h-1zM63 18h1v1h-1zM73 18h1v1h-1zM106 19h1v1h-1zM16 20h2v1h-2zM31 20h1v1h-1zM33 20h1v1h-1zM75 20h1v1h-1zM18 21h1v1h-1zM28 21h1v1h-1zM32 21h1v1h-1zM36 21h1v1h-1zM49 21h1v1h-1zM54 21h1v1h-1zM82 21h1v1h-1zM51 22h2v1h-2zM75 22h1v1h-1zM85 22h1v1h-1zM88 22h1v1h-1zM16 23h1v1h-1zM15 25h1v1h-1zM19 25h1v1h-1zM62 25h1v1h-1zM5 26h1v1h-1zM41 26h1v1h-1zM108 26h1v1h-1zM42 27h1v1h-1zM73 27h1v1h-1zM77 27h1v1h-1zM75 28h1v1h-1zM19 29h1v1h-1zM93 29h1v1h-1zM16 31h2v1h-2z"/>
<path fill="#f9ebe3" d="M54 4h1v1h-1zM69 4h1v1h-1zM76 4h1v1h-1zM78 4h1v1h-1zM114 4h1v1h-1zM54 5h1v1h-1zM78 5h1v1h-1zM103 5h1v1h-1zM113 5h1v1h-1zM115 5h1v1h-1zM54 6h1v1h-1zM70 6h1v1h-1zM104 6h1v1h-1zM113 6h1v1h-1zM115 6h1v1h-1zM70 7h1v1h-1zM102 7h1v1h-1zM106 7h1v1h-1zM113 7h1v1h-1zM115 7h1v1h-1zM105 8h1v1h-1zM107 8h1v1h-1zM113 8h1v1h-1zM69 9h1v1h-1zM78 9h1v1h-1zM105 9h1v1h-1zM114 9h1v1h-1zM76 10h1v1h-1zM78 10h1v1h-1zM76 11h2v1h-2zM74 12h2v1h-2zM83 12h1v1h-1zM86 12h1v1h-1zM40 13h1v1h-1zM51 13h2v1h-2zM82 13h1v1h-1zM87 13h1v1h-1zM99 14h1v1h-1zM1 15h1v1h-1zM54 15h1v1h-1zM0 16h1v1h-1zM11 16h1v1h-1zM49 16h1v1h-1zM62 16h1v1h-1zM73 16h1v1h-1zM105 16h1v1h-1zM38 17h1v1h-1zM88 17h1v1h-1zM105 17h1v1h-1zM105 18h2v1h-2zM3 19h1v1h-1zM73 19h1v1h-1zM89 19h1v1h-1zM71 20h1v1h-1zM93 20h1v1h-1zM102 20h1v1h-1zM4 21h1v1h-1zM12 21h1v1h-1zM23 21h1v1h-1zM38 21h1v1h-1zM103 21h1v1h-1zM12 22h1v1h-1zM15 22h1v1h-1zM86 22h1v1h-1zM0 23h1v1h-1zM17 23h1v1h-1zM30 23h1v1h-1zM47 23h2v1h-2zM76 23h1v1h-1zM89 23h1v1h-1zM18 24h1v1h-1zM109 25h1v1h-1zM19 26h1v1h-1zM46 26h1v1h-1zM94 26h1v1h-1zM19 27h1v1h-1zM62 27h1v1h-1zM19 28h1v1h-1zM15 29h1v1h-1z"/>
<path fill="#fae9df" d="M77 4h1v1h-1zM69 5h1v1h-1zM76 5h1v1h-1zM114 5h1v1h-1zM69 6h1v1h-1zM78 6h1v1h-1zM103 6h1v1h-1zM114 6h1v1h-1zM69 7h1v1h-1zM78 7h1v1h-1zM104 7h1v1h-1zM114 7h1v1h-1zM69 8h1v1h-1zM78 8h1v1h-1zM102 8h1v1h-1zM114 8h1v1h-1zM76 9h1v1h-1zM102 9h1v1h-1zM107 9h1v1h-1zM77 10h1v1h-1zM105 10h1v1h-1zM84 12h2v1h-2zM74 13h2v1h-2zM50 14h1v1h-1zM53 14h1v1h-1zM82 14h1v1h-1zM41 15h1v1h-1zM100 15h1v1h-1zM105 15h1v1h-1zM2 16h1v1h-1zM32 16h1v1h-1zM54 16h1v1h-1zM107 16h1v1h-1zM31 17h1v1h-1zM33 17h1v1h-1zM36 17h1v1h-1zM49 17h1v1h-1zM31 19h1v1h-1zM33 19h1v1h-1zM75 19h1v1h-1zM36 20h1v1h-1zM27 21h1v1h-1zM16 22h1v1h-1zM2 23h1v1h-1zM16 24h1v1h-1zM27 24h1v1h-1zM49 24h1v1h-1zM77 24h1v1h-1zM49 25h1v1h-1zM15 26h1v1h-1zM47 26h2v1h-2zM44 27h1v1h-1zM15 28h1v1h-1zM18 30h1v1h-1z"/>
<path fill="#fae7dc" d="M77 5h1v1h-1zM76 6h2v1h-2zM76 7h1v1h-1zM76 8h2v1h-2zM106 8h1v1h-1zM77 9h1v1h-1zM102 10h1v1h-1zM107 10h1v1h-1zM105 11h1v1h-1zM105 12h1v1h-1zM83 13h1v1h-1zM86 13h1v1h-1zM105 13h1v1h-1zM51 14h2v1h-2zM75 14h1v1h-1zM87 14h1v1h-1zM105 14h1v1h-1zM10 15h1v1h-1zM39 15h1v1h-1zM50 15h1v1h-1zM53 15h1v1h-1zM82 15h1v1h-1zM87 15h1v1h-1zM99 15h1v1h-1zM107 15h1v1h-1zM37 16h1v1h-1zM41 16h1v1h-1zM0 17h1v1h-1zM41 17h1v1h-1zM54 17h1v1h-1zM31 18h1v1h-1zM33 18h1v1h-1zM38 18h1v1h-1zM41 18h1v1h-1zM75 18h1v1h-1zM62 19h1v1h-1zM11 20h1v1h-1zM32 20h1v1h-1zM54 20h1v1h-1zM107 20h1v1h-1zM15 21h1v1h-1zM24 21h3v1h-3zM37 21h1v1h-1zM83 21h1v1h-1zM17 22h1v1h-1zM1 23h1v1h-1zM41 23h1v1h-1zM71 23h1v1h-1zM104 23h1v1h-1zM89 24h1v1h-1zM45 26h1v1h-1zM73 26h1v1h-1zM15 27h1v1h-1zM43 27h1v1h-1zM93 28h1v1h-1zM92 29h1v1h-1zM16 30h1v1h-1z"/>
<path fill="#fbe5d8" d="M77 7h1v1h-1zM103 7h1v1h-1zM104 8h1v1h-1zM102 11h1v1h-1zM107 11h1v1h-1zM102 12h1v1h-1zM84 13h1v1h-1zM102 13h1v1h-1zM74 14h1v1h-1zM102 14h1v1h-1zM107 14h1v1h-1zM102 15h1v1h-1zM1 16h1v1h-1zM87 16h1v1h-1zM100 16h1v1h-1zM102 16h1v1h-1zM2 17h1v1h-1zM11 17h1v1h-1zM106 17h1v1h-1zM0 18h1v1h-1zM36 18h1v1h-1zM88 18h1v1h-1zM11 19h1v1h-1zM36 19h1v1h-1zM38 19h1v1h-1zM41 19h1v1h-1zM74 19h1v1h-1zM3 20h1v1h-1zM38 20h1v1h-1zM41 20h1v1h-1zM74 20h1v1h-1zM10 21h1v1h-1zM53 21h1v1h-1zM84 21h1v1h-1zM88 21h1v1h-1zM42 23h1v1h-1zM17 24h1v1h-1zM45 24h2v1h-2zM73 24h1v1h-1zM30 25h1v1h-1zM41 25h1v1h-1zM62 26h1v1h-1zM77 26h1v1h-1zM17 30h1v1h-1z"/>
<path fill="#fbe3d4" d="M103 8h1v1h-1zM104 9h1v1h-1zM106 9h1v1h-1zM107 12h1v1h-1zM85 13h1v1h-1zM107 13h1v1h-1zM83 14h1v1h-1zM86 14h1v1h-1zM51 15h2v1h-2zM75 15h1v1h-1zM39 16h1v1h-1zM50 16h1v1h-1zM53 16h1v1h-1zM75 16h1v1h-1zM82 16h1v1h-1zM99 16h1v1h-1zM1 17h1v1h-1zM75 17h1v1h-1zM2 18h1v1h-1zM11 18h1v1h-1zM49 18h1v1h-1zM54 18h1v1h-1zM74 18h1v1h-1zM90 19h1v1h-1zM92 19h1v1h-1zM49 20h1v1h-1zM89 20h1v1h-1zM100 20h1v1h-1zM16 21h2v1h-2zM74 21h1v1h-1zM93 21h1v1h-1zM74 22h1v1h-1zM43 23h1v1h-1zM72 23h1v1h-1zM30 24h1v1h-1zM41 24h1v1h-1zM94 24h1v1h-1zM4 25h1v1h-1zM18 25h1v1h-1zM45 25h2v1h-2zM73 25h1v1h-1zM77 25h1v1h-1zM94 25h1v1h-1zM74 27h1v1h-1zM76 27h1v1h-1zM18 29h1v1h-1z"/>
<path fill="#fce0d0" d="M104 10h1v1h-1zM106 10h1v1h-1zM40 14h1v1h-1zM84 14h1v1h-1zM74 15h1v1h-1zM83 15h1v1h-1zM86 15h1v1h-1zM106 16h1v1h-1zM32 17h1v1h-1zM39 17h1v1h-1zM62 17h1v1h-1zM87 17h1v1h-1zM0 19h1v1h-1zM32 19h1v1h-1zM54 19h1v1h-1zM88 19h1v1h-1zM105 19h1v1h-1zM88 20h1v1h-1zM41 21h1v1h-1zM50 21h1v1h-1zM70 21h1v1h-1zM74 23h1v1h-1zM90 23h1v1h-1zM108 23h1v1h-1zM3 24h1v1h-1zM16 25h1v1h-1zM42 26h1v1h-1zM92 28h1v1h-1zM16 29h1v1h-1z"/>
<path fill="#fcdecd" d="M103 9h1v1h-1zM104 11h1v1h-1zM104 12h1v1h-1zM104 13h1v1h-1zM85 14h1v1h-1zM104 14h1v1h-1zM84 15h1v1h-1zM51 16h2v1h-2zM74 16h1v1h-1zM84 16h1v1h-1zM86 16h1v1h-1zM37 17h1v1h-1zM74 17h1v1h-1zM100 17h1v1h-1zM102 17h1v1h-1zM1 18h1v1h-1zM32 18h1v1h-1zM49 19h1v1h-1zM82 20h1v1h-1zM41 22h1v1h-1zM73 23h1v1h-1zM75 23h1v1h-1zM91 23h1v1h-1zM109 24h1v1h-1zM75 27h1v1h-1z"/>
<path fill="#fddcc9" d="M103 10h1v1h-1zM106 11h1v1h-1zM85 15h1v1h-1zM106 15h1v1h-1zM10 16h1v1h-1zM83 16h1v1h-1zM85 16h1v1h-1zM53 17h1v1h-1zM84 17h1v1h-1zM99 17h1v1h-1zM62 18h1v1h-1zM37 20h1v1h-1zM87 21h1v1h-1zM40 23h1v1h-1zM70 23h1v1h-1zM17 25h1v1h-1zM108 25h1v1h-1zM18 26h1v1h-1zM44 26h1v1h-1zM18 28h1v1h-1z"/>
<path fill="#fdd9c4" d="M103 11h1v1h-1zM106 12h1v1h-1zM106 13h1v1h-1zM106 14h1v1h-1zM104 15h1v1h-1zM50 17h1v1h-1zM2 19h1v1h-1zM91 19h1v1h-1zM10 20h1v1h-1zM52 21h1v1h-1zM11 22h1v1h-1zM107 23h1v1h-1zM90 24h2v1h-2zM16 26h1v1h-1zM18 27h1v1h-1zM16 28h1v1h-1zM17 29h1v1h-1z"/>
<path fill="#fcd5bf" d="M103 12h1v1h-1zM103 13h1v1h-1zM103 14h1v1h-1zM82 17h1v1h-1zM85 17h2v1h-2zM39 18h1v1h-1zM100 18h1v1h-1zM72 20h2v1h-2zM106 20h1v1h-1zM51 21h1v1h-1zM85 21h1v1h-1zM48 24h1v1h-1zM48 25h1v1h-1zM93 27h1v1h-1z"/>
<path fill="#fbd0b9" d="M37 18h1v1h-1zM84 18h1v1h-1zM37 19h1v1h-1zM100 19h1v1h-1zM83 20h2v1h-2zM3 21h1v1h-1zM11 21h1v1h-1zM0 22h1v1h-1zM47 24h1v1h-1zM47 25h1v1h-1zM43 26h1v1h-1zM16 27h1v1h-1z"/>
<path fill="#fbccb4" d="M40 15h1v1h-1zM104 16h1v1h-1zM1 19h1v1h-1zM99 19h1v1h-1zM6 24h1v1h-1zM74 24h1v1h-1zM76 24h1v1h-1zM17 26h1v1h-1zM74 26h1v1h-1zM17 28h1v1h-1z"/>
<path fill="#fac8af" d="M103 15h1v1h-1zM10 17h1v1h-1zM51 17h2v1h-2zM83 17h1v1h-1zM87 18h1v1h-1zM99 18h1v1h-1zM82 19h1v1h-1zM0 20h1v1h-1zM53 20h1v1h-1zM86 21h1v1h-1zM70 24h1v1h-1zM6 25h1v1h-1zM76 26h1v1h-1z"/>
<path fill="#f9c4a9" d="M53 18h1v1h-1zM82 18h1v1h-1zM10 19h1v1h-1zM84 19h1v1h-1zM71 21h1v1h-1zM89 22h1v1h-1zM44 24h1v1h-1zM44 25h1v1h-1zM17 27h1v1h-1zM92 27h1v1h-1z"/>
<path fill="#f8bfa4" d="M40 16h1v1h-1zM10 18h1v1h-1zM3 23h1v1h-1zM42 25h1v1h-1z"/>
<path fill="#f8bb9e" d="M40 17h1v1h-1zM50 18h1v1h-1zM50 20h1v1h-1zM90 20h1v1h-1zM39 22h1v1h-1zM74 25h1v1h-1z"/>
<path fill="#f7b799" d="M85 18h1v1h-1zM39 19h1v1h-1zM53 19h1v1h-1zM2 20h1v1h-1zM87 20h1v1h-1zM92 20h1v1h-1zM0 21h1v1h-1zM89 21h1v1h-1zM71 22h1v1h-1zM42 24h1v1h-1zM75 24h1v1h-1zM76 25h1v1h-1z"/>
<path fill="#f6b394" d="M104 17h1v1h-1zM4 22h1v1h-1zM70 22h1v1h-1zM73 22h1v1h-1zM104 22h1v1h-1zM106 23h1v1h-1zM107 24h1v1h-1zM75 26h1v1h-1z"/>
<path fill="#f6af8e" d="M103 16h1v1h-1zM40 18h1v1h-1zM83 18h1v1h-1zM83 19h1v1h-1zM87 19h1v1h-1zM2 22h1v1h-1zM93 22h1v1h-1zM108 24h1v1h-1z"/>
<path fill="#f5aa89" d="M86 18h1v1h-1zM103 20h1v1h-1zM108 21h1v1h-1zM1 22h1v1h-1zM72 22h1v1h-1zM105 24h1v1h-1z"/>
<path fill="#f4a683" d="M50 19h1v1h-1zM73 21h1v1h-1zM108 22h1v1h-1zM106 24h1v1h-1zM43 25h1v1h-1z"/>
<path fill="#f2a17f" d="M52 18h1v1h-1zM52 20h1v1h-1zM85 20h1v1h-1zM93 26h1v1h-1z"/>
<path fill="#f09c7b" d="M102 18h1v1h-1zM1 20h1v1h-1zM2 21h1v1h-1zM43 24h1v1h-1zM75 25h1v1h-1zM92 26h1v1h-1z"/>
<path fill="#ee9677" d="M51 18h1v1h-1zM51 20h1v1h-1zM105 20h1v1h-1zM72 21h1v1h-1z"/>
<path fill="#eb9172" d="M104 18h1v1h-1zM85 19h1v1h-1zM102 19h1v1h-1zM39 20h1v1h-1zM107 22h1v1h-1zM5 23h1v1h-1z"/>
<path fill="#e98b6e" d="M86 20h1v1h-1zM91 20h1v1h-1z"/>
<path fill="#e6866a" d="M40 19h1v1h-1zM93 23h1v1h-1z"/>
<path fill="#e48066" d="M52 19h1v1h-1zM107 21h1v1h-1z"/>
<path fill="#e27b62" d="M86 19h1v1h-1z"/>
<path fill="#df765e" d="M103 17h1v1h-1zM51 19h1v1h-1zM1 21h1v1h-1zM39 21h1v1h-1z"/>
<path fill="#dd7059" d="M92 21h1v1h-1zM3 22h1v1h-1zM105 23h1v1h-1zM92 25h1v1h-1z"/>
<path fill="#d86551" d="M104 19h1v1h-1zM90 22h1v1h-1zM4 23h1v1h-1zM5 25h1v1h-1z"/>
<path fill="#d6604d" d="M40 20h1v1h-1z"/>
<path fill="#d35a4a" d="M104 21h1v1h-1zM91 22h1v1h-1zM92 23h1v1h-1zM93 25h1v1h-1z"/>
<path fill="#cb4942" d="M106 21h1v1h-1zM106 22h1v1h-1z"/>
<path fill="#c84440" d="M103 19h1v1h-1z"/>
<path fill="#c53e3d" d="M104 20h1v1h-1zM90 21h1v1h-1z"/>
<path fill="#c2383a" d="M103 18h1v1h-1zM4 24h1v1h-1zM93 24h1v1h-1z"/>
<path fill="#bf3338" d="M40 22h1v1h-1z"/>
<path fill="#b72230" d="M40 21h1v1h-1zM92 22h1v1h-1zM92 24h1v1h-1z"/>
<path fill="#b41c2d" d="M91 21h1v1h-1z"/>
<path fill="#ab162a" d="M5 24h1v1h-1z"/>
<path fill="#7c0722" d="M105 21h1v1h-1z"/>
<path fill="#6a011f" d="M105 22h1v1h-1z"/>
</g></g>
<path d="M149.50,231.5 V18.5" stroke="#000" stroke-width="1.39" stroke-dasharray="1.39 2.29" fill="none"/>
<path d="M303.50,231.5 V18.5" stroke="#000" stroke-width="1.39" stroke-dasharray="1.39 2.29" fill="none"/>
<path d="M457.50,231.5 V18.5" stroke="#000" stroke-width="1.39" stroke-dasharray="1.39 2.29" fill="none"/>
<path d="M610.50,231.5 V18.5" stroke="#000" stroke-width="1.39" stroke-dasharray="1.39 2.29" fill="none"/>
<path d="M88.5,28.50 H703.5" stroke="#000" stroke-width="0.69" stroke-dasharray="0.69 1.15" fill="none"/>
<path d="M88.5,67.50 H703.5" stroke="#000" stroke-width="0.69" stroke-dasharray="0.69 1.15" fill="none"/>
<path d="M88.5,105.50 H703.5" stroke="#000" stroke-width="0.69" stroke-dasharray="0.69 1.15" fill="none"/>
<path d="M88.5,144.50 H703.5" stroke="#000" stroke-width="0.69" stroke-dasharray="0.69 1.15" fill="none"/>
<path d="M88.5,183.50 H703.5" stroke="#000" stroke-width="0.69" stroke-dasharray="0.69 1.15" fill="none"/>
<path d="M88.5,221.50 H703.5" stroke="#000" stroke-width="0.69" stroke-dasharray="0.69 1.15" fill="none"/>
<path d="M149.50,449.5 V236.5" stroke="#000" stroke-width="1.39" stroke-dasharray="1.39 2.29" fill="none"/>
<path d="M303.50,449.5 V236.5" stroke="#000" stroke-width="1.39" stroke-dasharray="1.39 2.29" fill="none"/>
<path d="M457.50,449.5 V236.5" stroke="#000" stroke-width="1.39" stroke-dasharray="1.39 2.29" fill="none"/>
<path d="M610.50,449.5 V236.5" stroke="#000" stroke-width="1.39" stroke-dasharray="1.39 2.29" fill="none"/>
<path d="M88.5,250.50 H703.5" stroke="#000" stroke-width="0.69" stroke-dasharray="0.69 1.15" fill="none"/>
<path d="M88.5,298.50 H703.5" stroke="#000" stroke-width="0.69" stroke-dasharray="0.69 1.15" fill="none"/>
<path d="M88.5,345.50 H703.5" stroke="#000" stroke-width="0.69" stroke-dasharray="0.69 1.15" fill="none"/>
<path d="M88.5,392.50 H703.5" stroke="#000" stroke-width="0.69" stroke-dasharray="0.69 1.15" fill="none"/>
<path d="M88.5,439.50 H703.5" stroke="#000" stroke-width="0.69" stroke-dasharray="0.69 1.15" fill="none"/>
<path d="M149.50,667.5 V454.5" stroke="#000" stroke-width="1.39" stroke-dasharray="1.39 2.29" fill="none"/>
<path d="M303.50,667.5 V454.5" stroke="#000" stroke-width="1.39" stroke-dasharray="1.39 2.29" fill="none"/>
<path d="M457.50,667.5 V454.5" stroke="#000" stroke-width="1.39" stroke-dasharray="1.39 2.29" fill="none"/>
<path d="M610.50,667.5 V454.5" stroke="#000" stroke-width="1.39" stroke-dasharray="1.39 2.29" fill="none"/>
<path d="M88.5,468.50 H703.5" stroke="#000" stroke-width="0.69" stroke-dasharray="0.69 1.15" fill="none"/>
<path d="M88.5,516.50 H703.5" stroke="#000" stroke-width="0.69" stroke-dasharray="0.69 1.15" fill="none"/>
<path d="M88.5,563.50 H703.5" stroke="#000" stroke-width="0.69" stroke-dasharray="0.69 1.15" fill="none"/>
<path d="M88.5,610.50 H703.5" stroke="#000" stroke-width="0.69" stroke-dasharray="0.69 1.15" fill="none"/>
<path d="M88.5,657.50 H703.5" stroke="#000" stroke-width="0.69" stroke-dasharray="0.69 1.15" fill="none"/>
<g clip-path="url(#cpa)">
<path d="M88.5,179.4 L90.0,179.3 L91.6,179.3 L93.1,179.4 L94.6,179.5 L96.1,179.6 L97.6,179.8 L99.1,180.1 L100.5,180.3 L102.0,180.6 L103.5,181.0 L104.9,181.3 L106.3,181.8 L107.7,182.3 L109.2,182.8 L110.6,183.4 L112.0,184.0 L113.4,184.6 L114.8,185.1 L116.2,185.7 L117.6,186.2 L119.0,186.7 L120.5,187.2 L121.9,187.6 L123.4,188.1 L124.8,188.5 L126.3,188.9 L127.8,189.3 L129.2,189.6 L130.7,189.9 L132.2,190.1 L133.7,190.2 L135.2,190.4 L136.7,190.5 L138.2,190.6 L139.7,190.8 L141.2,191.0 L142.6,191.4 L144.1,191.8 L145.5,192.3 L146.9,192.8 L148.4,193.2 L149.9,193.4 L151.4,193.6 L152.9,193.7 L154.4,193.7 L155.9,193.7 L157.4,193.6 L158.9,193.4 L160.4,193.1 L161.9,192.8 L163.4,192.5 L164.9,192.1 L166.4,191.7 L167.9,191.4 L169.4,191.1 L170.9,190.9 L172.3,190.8 L173.8,190.8 L175.2,190.9 L176.6,191.3 L178.0,191.8 L179.3,192.4 L180.7,193.2 L182.1,193.9 L183.4,194.7 L184.8,195.4 L186.2,196.1 L187.6,196.8 L189.0,197.5 L190.4,198.2 L191.8,198.8 L193.2,199.3 L194.6,199.7 L196.0,200.0 L197.5,200.1 L199.0,200.1 L200.5,200.0 L202.1,199.8 L203.5,199.6 L204.9,199.2 L206.3,198.6 L207.7,197.9 L209.0,197.2 L210.4,196.5 L211.8,195.9 L213.2,195.4 L214.7,195.0 L216.2,194.7 L217.7,194.4 L219.2,194.3 L220.7,194.2 L222.2,194.3 L223.7,194.5 L225.2,194.9 L226.6,195.4 L227.9,196.0 L229.1,196.9 L230.2,197.9 L231.2,199.1 L232.2,200.3 L233.2,201.5 L234.3,202.6 L235.4,203.5 L236.7,204.2 L238.1,204.8 L239.6,205.3 L241.1,205.6 L242.6,205.7 L244.0,205.7 L245.5,205.7 L247.1,205.5 L248.6,205.4 L250.1,205.2 L251.6,204.9 L253.1,204.7 L254.6,204.4 L256.1,204.1 L257.6,203.8 L259.1,203.6 L260.5,203.4 L262.0,203.4 L263.5,203.6 L264.9,203.9 L266.4,204.3 L267.8,204.8 L269.3,205.4 L270.7,205.9 L272.2,206.4 L273.6,206.9 L275.1,207.3 L276.5,207.8 L278.0,208.3 L279.5,208.7 L280.9,209.1 L282.4,209.4 L283.9,209.7 L285.3,209.9 L286.8,210.0 L288.3,210.0 L289.8,209.9 L291.3,209.7 L292.8,209.5 L294.3,209.3 L295.8,209.0 L297.3,208.8 L298.8,208.6 L300.3,208.5 L301.8,208.3 L303.3,208.2 L304.8,208.1 L306.3,208.0 L307.8,208.0 L309.3,208.0 L310.8,208.1 L312.3,208.2 L313.8,208.4 L315.3,208.7 L316.7,209.1 L318.2,209.5 L319.7,209.9 L321.1,210.2 L322.6,210.4 L324.1,210.7 L325.6,210.9 L327.1,211.1 L328.6,211.2 L330.1,211.2 L331.6,211.2 L333.1,211.0 L334.6,210.9 L336.1,210.6 L337.6,210.3 L339.1,210.0 L340.5,209.6 L342.0,209.2 L343.4,208.7 L344.9,208.3 L346.4,208.0 L347.8,207.8 L349.3,207.7 L350.9,207.7 L352.4,207.7 L353.9,207.7 L355.4,207.8 L356.9,207.9 L358.4,208.1 L359.8,208.4 L361.2,208.9 L362.7,209.4 L364.1,210.0 L365.6,210.4 L367.0,210.8 L368.5,211.2 L370.0,211.4 L371.5,211.6 L373.0,211.7 L374.5,211.7 L375.9,211.4 L377.2,210.9 L378.6,210.2 L379.9,209.4 L381.2,208.5 L382.6,207.6 L383.9,206.8 L385.2,206.0 L386.5,205.1 L387.7,204.3 L389.0,203.5 L390.4,202.9 L391.7,202.4 L393.2,202.0 L394.6,201.6 L396.1,201.3 L397.6,200.8 L399.0,200.4 L400.5,200.0 L402.0,199.7 L403.4,199.7 L404.9,199.9 L406.4,200.1 L407.9,200.5 L409.4,200.8 L410.9,201.1 L412.4,201.3 L413.9,201.3 L415.4,201.3 L416.8,201.1 L418.2,200.7 L419.6,200.2 L421.0,199.5 L422.4,198.8 L423.7,198.0 L425.1,197.4 L426.6,196.8 L428.0,196.3 L429.5,195.8 L430.9,195.4 L432.4,195.0 L433.9,194.6 L435.4,194.4 L436.9,194.2 L438.4,194.1 L439.9,194.2 L441.4,194.3 L442.9,194.5 L444.4,194.7 L445.9,194.7 L447.3,194.3 L448.5,193.4 L449.8,192.4 L451.1,191.6 L452.5,191.3 L453.9,191.3 L455.4,191.5 L457.0,191.7 L458.5,192.0 L460.0,192.2 L461.5,192.3 L463.0,192.2 L464.5,191.8 L466.0,191.4 L467.4,191.0 L468.9,190.9 L470.4,190.9 L472.0,191.2 L473.4,191.5 L474.9,191.9 L476.2,192.4 L477.5,193.1 L478.8,193.9 L480.1,194.8 L481.3,195.7 L482.5,196.7 L483.7,197.7 L484.8,198.8 L485.9,200.0 L487.0,201.3 L488.1,202.5 L489.2,203.5 L490.3,204.5 L491.5,205.2 L492.8,205.7 L494.2,205.9 L495.7,205.9 L497.3,205.9 L498.8,205.8 L500.2,205.6 L501.7,205.2 L503.2,204.8 L504.6,204.3 L506.1,203.9 L507.6,203.5 L509.0,203.2 L510.5,202.9 L512.0,202.9 L513.5,202.9 L515.0,202.9 L516.5,203.0 L518.0,203.2 L519.5,203.3 L521.0,203.5 L522.5,203.6 L524.0,203.8 L525.5,203.9 L527.1,204.0 L528.6,204.1 L530.1,204.2 L531.7,204.2 L533.2,204.2 L534.8,204.2 L536.3,204.1 L537.8,204.0 L539.3,203.8 L540.8,203.6 L542.2,203.3 L543.6,203.0 L545.0,202.5 L546.2,201.7 L547.5,200.8 L548.8,200.0 L550.1,199.2 L551.5,198.7 L552.9,198.2 L554.4,197.8 L555.9,197.4 L557.3,197.0 L558.8,196.7 L560.3,196.4 L561.8,196.1 L563.3,196.0 L564.8,196.0 L566.2,196.3 L567.6,196.9 L569.0,197.6 L570.3,198.4 L571.5,199.2 L572.7,200.2 L573.8,201.1 L574.9,202.2 L576.0,203.2 L577.2,204.2 L578.3,205.2 L579.5,206.2 L580.8,207.0 L582.1,207.9 L583.4,208.7 L584.7,209.5 L586.1,210.1 L587.5,210.7 L588.9,211.1 L590.3,211.3 L591.9,211.5 L593.4,211.6 L594.9,211.8 L596.3,212.1 L597.6,212.6 L598.9,213.4 L600.1,214.3 L601.3,215.3 L602.5,216.3 L603.7,217.3 L604.9,218.3 L606.1,219.3 L607.3,220.2 L608.5,221.1 L609.7,222.0 L610.9,222.8 L612.3,223.5 L613.6,224.2 L615.0,224.8 L616.4,225.3 L617.9,225.8 L619.3,226.1 L620.8,226.3 L622.4,226.4 L623.9,226.5 L625.4,226.4 L626.8,226.1 L628.2,225.5 L629.5,224.7 L630.8,223.8 L631.9,222.8 L633.0,221.7 L634.1,220.6 L635.1,219.5 L636.1,218.3 L637.2,217.3 L638.3,216.4 L639.6,215.7 L640.9,215.0 L642.3,214.5 L643.7,214.0 L645.2,213.6 L646.7,213.1 L648.1,212.6 L649.5,212.1 L650.9,211.4 L652.2,210.6 L653.5,209.6 L654.7,208.6 L655.9,207.6 L657.2,206.7 L658.4,205.9 L659.7,205.2 L661.1,204.7 L662.5,204.5 L664.0,204.4 L665.6,204.5 L667.0,204.7 L668.3,205.1 L669.6,205.8 L670.8,206.8 L671.9,207.9 L673.1,209.0 L674.2,210.1 L675.4,211.2 L676.7,212.1 L678.0,212.7 L679.4,213.1 L680.9,213.4 L682.4,213.6 L683.9,213.6 L685.4,213.5 L686.9,213.4 L688.4,213.2 L689.9,213.0 L691.4,212.9 L692.9,212.7 L694.4,212.5 L695.9,212.4 L697.4,212.3 L699.0,212.3 L700.5,212.4 L702.0,212.5 L703.5,212.8" fill="none" stroke="#000" stroke-width="2.85" stroke-linejoin="round" />
<path d="M88.5,143.3 L90.1,143.3 L91.6,143.5 L93.1,143.7 L94.5,144.1 L95.9,144.5 L97.3,145.0 L98.6,145.7 L99.9,146.4 L101.2,147.3 L102.4,148.2 L103.7,149.1 L104.9,149.9 L106.2,150.8 L107.5,151.6 L108.8,152.4 L110.1,153.2 L111.4,154.0 L112.8,154.7 L114.1,155.4 L115.4,156.0 L116.8,156.5 L118.2,157.0 L119.6,157.4 L121.1,157.7 L122.5,158.1 L124.0,158.3 L125.5,158.6 L127.0,158.8 L128.5,159.0 L130.0,159.2 L131.6,159.4 L133.1,159.6 L134.5,159.8 L136.0,159.9 L137.5,160.1 L139.0,160.3 L140.5,160.5 L142.0,160.6 L143.5,160.8 L145.0,161.0 L146.5,161.2 L148.0,161.4 L149.5,161.7 L151.0,162.0 L152.4,162.3 L153.9,162.6 L155.4,162.9 L156.9,163.1 L158.4,163.3 L159.9,163.3 L161.4,163.4 L162.9,163.3 L164.4,163.3 L165.9,163.2 L167.4,163.2 L168.9,163.1 L170.4,163.1 L171.9,163.0 L173.4,163.0 L174.9,163.0 L176.4,163.1 L177.9,163.1 L179.4,163.2 L180.9,163.3 L182.4,163.4 L183.9,163.6 L185.5,163.7 L187.0,163.8 L188.5,163.9 L190.0,164.0 L191.5,164.1 L193.0,164.2 L194.5,164.3 L196.0,164.3 L197.5,164.3 L199.0,164.2 L200.5,164.2 L201.9,164.0 L203.4,163.7 L204.9,163.4 L206.4,163.1 L207.9,162.7 L209.4,162.4 L210.8,162.1 L212.3,161.8 L213.8,161.6 L215.3,161.4 L216.8,161.4 L218.3,161.4 L219.8,161.6 L221.3,161.7 L222.8,161.9 L224.3,162.2 L225.7,162.4 L227.2,162.7 L228.7,163.1 L230.1,163.5 L231.6,163.8 L233.0,164.2 L234.5,164.7 L236.0,165.1 L237.4,165.4 L238.9,165.8 L240.3,166.2 L241.8,166.5 L243.3,166.7 L244.8,167.0 L246.3,167.3 L247.8,167.4 L249.3,167.6 L250.8,167.6 L252.3,167.6 L253.8,167.5 L255.3,167.5 L256.8,167.4 L258.3,167.3 L259.8,167.3 L261.3,167.3 L262.8,167.4 L264.3,167.6 L265.8,167.8 L267.3,168.0 L268.8,168.2 L270.2,168.4 L271.7,168.7 L273.2,168.9 L274.7,169.1 L276.2,169.2 L277.7,169.4 L279.2,169.5 L280.7,169.6 L282.2,169.7 L283.7,169.8 L285.2,169.9 L286.7,170.0 L288.2,170.1 L289.7,170.2 L291.2,170.4 L292.7,170.6 L294.2,170.8 L295.7,171.1 L297.2,171.4 L298.6,171.7 L300.1,172.0 L301.6,172.2 L303.1,172.4 L304.6,172.6 L306.1,172.8 L307.6,172.9 L309.1,173.0 L310.6,173.1 L312.1,173.2 L313.6,173.3 L315.1,173.3 L316.6,173.3 L318.1,173.2 L319.6,173.2 L321.1,173.0 L322.6,172.8 L324.1,172.6 L325.5,172.3 L327.0,171.9 L328.5,171.6 L330.0,171.2 L331.4,170.9 L332.9,170.6 L334.4,170.3 L335.9,170.1 L337.4,169.8 L338.9,169.6 L340.4,169.4 L341.9,169.3 L343.4,169.2 L344.9,169.1 L346.4,169.1 L347.9,169.1 L349.4,169.3 L350.8,169.6 L352.3,169.9 L353.8,170.3 L355.3,170.7 L356.7,171.1 L358.2,171.5 L359.6,172.0 L361.0,172.5 L362.4,173.0 L363.8,173.6 L365.2,174.1 L366.6,174.6 L368.1,175.1 L369.5,175.6 L370.9,176.0 L372.4,176.4 L373.9,176.8 L375.4,177.2 L376.8,177.5 L378.3,177.7 L379.8,177.8 L381.3,177.8 L382.8,177.6 L384.3,177.4 L385.8,177.1 L387.3,176.8 L388.7,176.4 L390.1,175.9 L391.5,175.4 L392.9,174.9 L394.3,174.3 L395.7,173.6 L397.1,173.0 L398.4,172.3 L399.8,171.6 L401.1,170.9 L402.5,170.4 L404.0,170.0 L405.4,169.8 L406.9,169.5 L408.4,169.3 L409.9,169.1 L411.4,168.9 L412.9,168.7 L414.4,168.5 L415.9,168.2 L417.4,167.9 L418.9,167.6 L420.3,167.4 L421.8,167.2 L423.3,167.1 L424.8,167.1 L426.3,167.2 L427.8,167.2 L429.3,167.4 L430.9,167.5 L432.4,167.6 L433.9,167.6 L435.4,167.6 L436.8,167.5 L438.3,167.2 L439.8,166.9 L441.3,166.6 L442.8,166.2 L444.2,165.9 L445.7,165.6 L447.2,165.5 L448.7,165.4 L450.2,165.4 L451.7,165.4 L453.2,165.5 L454.7,165.5 L456.2,165.6 L457.7,165.6 L459.2,165.6 L460.8,165.7 L462.3,165.7 L463.8,165.8 L465.3,165.8 L466.8,165.9 L468.3,166.0 L469.8,166.1 L471.3,166.3 L472.7,166.6 L474.2,166.9 L475.7,167.2 L477.2,167.6 L478.6,168.0 L480.0,168.5 L481.4,169.0 L482.8,169.6 L484.2,170.2 L485.6,170.7 L487.0,171.3 L488.5,171.8 L489.9,172.2 L491.4,172.7 L492.8,173.0 L494.3,173.2 L495.8,173.2 L497.3,173.1 L498.8,172.9 L500.3,172.6 L501.8,172.4 L503.3,172.1 L504.8,171.8 L506.2,171.5 L507.7,171.2 L509.2,171.0 L510.7,170.8 L512.2,170.6 L513.7,170.6 L515.2,170.5 L516.7,170.5 L518.2,170.5 L519.7,170.6 L521.2,170.6 L522.7,170.6 L524.2,170.7 L525.7,170.7 L527.2,170.7 L528.7,170.7 L530.2,170.7 L531.7,170.7 L533.2,170.7 L534.7,170.6 L536.2,170.4 L537.7,170.3 L539.2,170.1 L540.7,170.0 L542.2,169.9 L543.7,169.9 L545.2,170.0 L546.7,170.1 L548.2,170.3 L549.7,170.4 L551.3,170.4 L552.8,170.4 L554.3,170.4 L555.8,170.4 L557.3,170.3 L558.8,170.3 L560.3,170.4 L561.8,170.4 L563.2,170.6 L564.7,170.9 L566.1,171.3 L567.6,171.7 L569.0,172.2 L570.4,172.8 L571.9,173.3 L573.3,173.8 L574.8,174.2 L576.3,174.6 L577.7,175.1 L579.2,175.5 L580.7,175.8 L582.1,176.1 L583.6,176.3 L585.1,176.5 L586.6,176.5 L588.1,176.4 L589.6,176.3 L591.1,176.1 L592.6,175.9 L594.1,175.8 L595.6,175.8 L597.1,175.8 L598.6,176.0 L600.1,176.1 L601.6,176.4 L603.1,176.6 L604.6,176.9 L606.0,177.2 L607.5,177.5 L609.0,177.9 L610.5,178.2 L611.9,178.6 L613.4,179.0 L614.8,179.4 L616.3,179.8 L617.7,180.2 L619.2,180.6 L620.6,181.0 L622.1,181.4 L623.6,181.7 L625.1,181.9 L626.6,182.2 L628.1,182.3 L629.6,182.4 L631.0,182.4 L632.5,182.1 L634.0,181.8 L635.4,181.3 L636.9,180.8 L638.3,180.4 L639.8,180.1 L641.3,179.8 L642.8,179.5 L644.3,179.3 L645.7,179.1 L647.2,178.8 L648.7,178.5 L650.2,178.1 L651.6,177.7 L653.0,177.2 L654.4,176.6 L655.9,175.9 L657.3,175.4 L658.7,174.8 L660.1,174.5 L661.6,174.2 L663.0,174.2 L664.5,174.2 L666.0,174.3 L667.5,174.5 L669.0,174.8 L670.5,175.1 L672.0,175.4 L673.5,175.6 L675.0,175.9 L676.5,176.1 L678.0,176.2 L679.5,176.2 L681.0,176.2 L682.5,176.1 L684.0,176.0 L685.5,175.8 L687.0,175.6 L688.5,175.4 L690.0,175.3 L691.5,175.1 L693.0,174.9 L694.5,174.8 L696.0,174.7 L697.5,174.6 L699.0,174.5 L700.5,174.4 L702.0,174.4 L703.5,174.5" fill="none" stroke="#0000ff" stroke-width="2.85" stroke-linejoin="round" />
<path d="M88.5,124.7 L90.0,124.6 L91.5,124.5 L93.0,124.5 L94.5,124.6 L96.0,124.6 L97.5,124.8 L99.0,124.9 L100.5,125.0 L102.1,125.2 L103.6,125.4 L105.1,125.6 L106.6,125.7 L108.1,125.8 L109.6,125.9 L111.1,126.0 L112.6,125.9 L114.0,125.7 L115.5,125.4 L117.0,125.0 L118.4,124.6 L119.9,124.1 L121.4,123.8 L122.8,123.5 L124.3,123.3 L125.8,123.0 L127.3,122.8 L128.8,122.6 L130.3,122.5 L131.8,122.3 L133.3,122.0 L134.8,121.8 L136.3,121.5 L137.7,121.2 L139.2,120.8 L140.6,120.4 L142.0,119.9 L143.4,119.4 L144.8,118.8 L146.2,118.2 L147.6,117.5 L149.0,116.8 L150.3,116.1 L151.6,115.3 L152.8,114.5 L154.1,113.6 L155.3,112.8 L156.5,111.9 L157.8,111.1 L159.1,110.4 L160.5,109.7 L161.8,109.0 L163.2,108.3 L164.6,107.7 L166.0,107.1 L167.5,106.7 L168.9,106.3 L170.3,106.0 L171.8,105.8 L173.3,105.6 L174.8,105.4 L176.3,105.3 L177.8,105.2 L179.3,105.2 L180.8,105.1 L182.3,105.0 L183.9,105.0 L185.4,104.9 L186.9,104.9 L188.4,104.8 L189.9,104.7 L191.4,104.7 L192.9,104.6 L194.4,104.5 L195.9,104.4 L197.4,104.3 L198.9,104.3 L200.4,104.2 L201.9,104.1 L203.4,104.0 L204.9,103.9 L206.4,103.8 L207.9,103.7 L209.4,103.5 L210.9,103.4 L212.4,103.3 L213.9,103.2 L215.4,103.0 L216.9,102.9 L218.4,102.8 L219.9,102.7 L221.5,102.5 L223.0,102.4 L224.6,102.4 L226.1,102.3 L227.6,102.4 L229.1,102.5 L230.5,102.8 L231.9,103.3 L233.2,104.1 L234.4,105.0 L235.7,105.7 L237.2,106.1 L238.7,106.3 L240.2,106.4 L241.7,106.7 L243.1,107.3 L244.3,108.1 L245.6,108.9 L247.0,109.5 L248.4,109.8 L249.9,110.0 L251.5,110.1 L253.0,110.2 L254.5,110.2 L256.0,110.4 L257.5,110.7 L259.0,111.1 L260.4,111.7 L261.7,112.3 L262.9,113.2 L263.9,114.2 L264.9,115.4 L266.0,116.5 L267.1,117.6 L268.3,118.6 L269.6,119.6 L270.9,120.3 L272.2,120.6 L273.6,120.7 L275.0,120.6 L276.5,120.4 L278.0,120.2 L279.6,119.9 L281.1,119.6 L282.7,119.3 L284.2,119.0 L285.7,118.8 L287.2,118.8 L288.7,118.8 L290.2,119.0 L291.7,119.2 L293.2,119.4 L294.7,119.7 L296.2,120.0 L297.7,120.2 L299.2,120.5 L300.7,120.6 L302.2,120.8 L303.7,120.8 L305.2,120.7 L306.7,120.6 L308.2,120.4 L309.7,120.2 L311.2,120.1 L312.7,120.1 L314.2,120.2 L315.7,120.4 L317.2,120.7 L318.7,121.0 L320.2,121.2 L321.7,121.3 L323.2,121.2 L324.7,121.0 L326.2,120.7 L327.6,120.5 L329.1,120.6 L330.6,120.9 L332.1,121.4 L333.6,121.6 L335.0,121.4 L336.4,120.9 L337.9,120.3 L339.3,120.0 L340.8,120.0 L342.3,120.3 L343.8,120.7 L345.2,121.2 L346.7,121.7 L348.1,122.3 L349.5,122.9 L350.9,123.5 L352.4,124.0 L353.8,124.4 L355.2,124.6 L356.7,124.6 L358.3,124.6 L359.7,124.5 L361.2,124.2 L362.6,123.9 L364.1,123.4 L365.5,122.8 L366.9,122.1 L368.3,121.5 L369.6,120.8 L371.0,120.1 L372.3,119.3 L373.6,118.5 L374.9,117.7 L376.2,116.9 L377.5,116.2 L378.9,115.5 L380.2,115.0 L381.7,114.6 L383.2,114.2 L384.7,113.9 L386.2,113.7 L387.7,113.6 L389.2,113.6 L390.7,113.7 L392.1,114.1 L393.5,114.6 L394.9,115.3 L396.3,115.9 L397.6,116.7 L398.9,117.5 L400.2,118.2 L401.6,118.9 L403.0,119.4 L404.4,119.8 L405.9,120.1 L407.4,120.3 L408.9,120.4 L410.4,120.5 L411.9,120.5 L413.4,120.4 L414.9,120.3 L416.4,120.2 L417.9,120.0 L419.5,119.9 L421.0,119.8 L422.5,119.8 L424.0,119.7 L425.5,119.8 L427.0,119.9 L428.5,120.2 L430.0,120.4 L431.5,120.7 L433.0,120.8 L434.4,120.8 L435.9,120.5 L437.3,120.1 L438.8,119.6 L440.2,119.1 L441.7,118.6 L443.1,118.2 L444.6,117.8 L446.1,117.5 L447.6,117.2 L449.1,117.0 L450.5,116.7 L452.0,116.4 L453.5,116.1 L455.0,115.8 L456.4,115.5 L457.9,115.1 L459.3,114.7 L460.7,114.2 L462.2,113.6 L463.6,113.1 L465.0,112.7 L466.5,112.3 L468.0,112.1 L469.5,111.9 L471.0,111.8 L472.5,111.7 L474.0,111.7 L475.5,111.7 L477.0,111.8 L478.5,112.1 L479.9,112.4 L481.4,112.9 L482.8,113.4 L484.3,113.8 L485.7,114.2 L487.2,114.6 L488.7,114.9 L490.2,115.1 L491.7,115.4 L493.1,115.6 L494.6,115.9 L496.1,116.1 L497.6,116.3 L499.1,116.6 L500.6,116.9 L502.0,117.2 L503.5,117.5 L505.0,117.8 L506.4,118.2 L507.9,118.5 L509.4,118.8 L510.9,119.2 L512.3,119.5 L513.8,119.8 L515.3,120.2 L516.7,120.5 L518.2,120.8 L519.7,121.1 L521.2,121.3 L522.7,121.6 L524.2,121.8 L525.7,122.0 L527.2,122.2 L528.7,122.4 L530.2,122.6 L531.7,122.7 L533.2,122.8 L534.7,122.9 L536.2,122.9 L537.7,122.9 L539.2,122.8 L540.7,122.7 L542.2,122.5 L543.7,122.3 L545.1,122.1 L546.6,121.8 L548.1,121.5 L549.6,121.3 L551.1,121.0 L552.6,120.7 L554.1,120.3 L555.5,120.0 L557.0,119.7 L558.5,119.4 L560.0,119.3 L561.5,119.2 L563.0,119.2 L564.5,119.1 L566.0,119.1 L567.5,119.2 L569.0,119.2 L570.5,119.3 L572.0,119.4 L573.5,119.6 L575.0,119.7 L576.5,120.1 L577.9,120.5 L579.4,120.9 L580.9,121.3 L582.4,121.4 L583.9,121.6 L585.4,121.7 L587.0,121.8 L588.5,121.8 L590.1,121.8 L591.7,121.7 L593.2,121.6 L594.7,121.4 L596.2,121.1 L597.6,120.7 L598.9,120.2 L600.3,119.6 L601.5,118.7 L602.7,117.6 L603.8,116.4 L604.9,115.2 L606.1,114.0 L607.2,113.1 L608.4,112.3 L609.7,111.9 L611.1,111.9 L612.5,112.1 L614.0,112.5 L615.5,113.0 L617.0,113.5 L618.5,113.9 L620.0,114.1 L621.5,114.2 L622.9,114.0 L624.4,113.6 L625.8,113.1 L627.3,112.5 L628.7,112.0 L630.2,111.5 L631.6,111.2 L633.1,111.0 L634.6,111.0 L636.2,111.0 L637.7,111.1 L639.2,111.3 L640.6,111.7 L642.0,112.3 L643.4,113.0 L644.7,113.7 L646.1,114.2 L647.6,114.5 L649.0,114.6 L650.5,114.6 L652.1,114.6 L653.6,114.5 L655.1,114.4 L656.6,114.4 L658.1,114.4 L659.6,114.5 L661.1,114.6 L662.6,114.8 L664.2,115.1 L665.7,115.3 L667.1,115.5 L668.6,115.7 L670.1,115.7 L671.6,115.7 L673.1,115.5 L674.6,115.1 L676.1,114.8 L677.6,114.7 L679.0,114.9 L680.3,115.4 L681.7,116.2 L683.0,117.0 L684.3,117.8 L685.7,118.6 L687.1,119.3 L688.5,119.8 L690.0,120.2 L691.5,120.4 L693.0,120.6 L694.5,120.6 L696.0,120.6 L697.5,120.5 L699.0,120.4 L700.5,120.3 L702.0,120.2 L703.5,120.1" fill="none" stroke="#ff0000" stroke-width="2.85" stroke-linejoin="round" />
<path d="M88.5,25.7 L90.0,25.8 L91.5,25.8 L93.0,25.9 L94.5,26.0 L96.0,26.0 L97.5,26.1 L99.0,26.1 L100.5,26.2 L102.0,26.2 L103.5,26.3 L105.0,26.3 L106.6,26.3 L108.1,26.4 L109.6,26.4 L111.1,26.5 L112.6,26.5 L114.1,26.5 L115.6,26.6 L117.1,26.6 L118.6,26.7 L120.1,26.7 L121.6,26.7 L123.1,26.8 L124.6,26.8 L126.1,26.9 L127.6,26.9 L129.1,27.0 L130.6,27.0 L132.1,27.1 L133.6,27.1 L135.1,27.2 L136.7,27.3 L138.2,27.3 L139.7,27.4 L141.2,27.5 L142.7,27.6 L144.2,27.7 L145.7,27.7 L147.2,27.8 L148.7,27.9 L150.2,28.1 L151.7,28.2 L153.2,28.3 L154.7,28.5 L156.2,28.6 L157.7,28.8 L159.2,28.9 L160.7,29.1 L162.2,29.2 L163.7,29.3 L165.2,29.5 L166.7,29.6 L168.2,29.8 L169.7,29.9 L171.2,30.1 L172.7,30.2 L174.2,30.3 L175.7,30.5 L177.2,30.6 L178.7,30.7 L180.2,30.8 L181.7,30.9 L183.2,31.0 L184.7,31.0 L186.2,31.1 L187.7,31.1 L189.2,31.2 L190.7,31.2 L192.2,31.2 L193.7,31.2 L195.2,31.3 L196.7,31.3 L198.2,31.3 L199.7,31.3 L201.2,31.3 L202.7,31.3 L204.2,31.3 L205.7,31.3 L207.2,31.3 L208.7,31.3 L210.3,31.3 L211.8,31.3 L213.3,31.2 L214.8,31.2 L216.3,31.2 L217.8,31.1 L219.3,31.1 L220.8,31.0 L222.3,31.0 L223.8,30.9 L225.3,30.9 L226.8,30.8 L228.3,30.8 L229.8,30.7 L231.3,30.6 L232.8,30.6 L234.3,30.6 L235.8,30.5 L237.3,30.5 L238.8,30.5 L240.4,30.5 L241.9,30.5 L243.4,30.5 L244.9,30.6 L246.4,30.7 L247.9,30.7 L249.4,30.8 L250.9,31.0 L252.4,31.1 L253.9,31.2 L255.4,31.3 L256.9,31.4 L258.4,31.5 L259.9,31.6 L261.4,31.7 L262.9,31.8 L264.4,31.8 L265.9,31.9 L267.4,31.9 L268.9,31.9 L270.4,31.9 L271.9,32.0 L273.4,32.0 L274.9,32.0 L276.4,32.0 L278.0,31.9 L279.5,31.9 L281.0,31.9 L282.5,31.9 L284.0,31.8 L285.5,31.8 L287.0,31.7 L288.5,31.6 L290.0,31.6 L291.5,31.5 L293.0,31.4 L294.5,31.2 L296.0,31.0 L297.5,30.8 L299.0,30.7 L300.5,30.5 L302.0,30.4 L303.5,30.3 L305.0,30.3 L306.5,30.3 L308.0,30.2 L309.5,30.3 L311.0,30.3 L312.5,30.3 L314.0,30.3 L315.5,30.4 L317.0,30.4 L318.5,30.4 L320.0,30.4 L321.5,30.5 L323.0,30.5 L324.5,30.5 L326.1,30.5 L327.6,30.5 L329.1,30.5 L330.6,30.5 L332.1,30.5 L333.6,30.4 L335.1,30.4 L336.6,30.4 L338.1,30.5 L339.6,30.5 L341.1,30.5 L342.6,30.6 L344.1,30.7 L345.6,30.9 L347.1,31.1 L348.6,31.5 L350.0,31.8 L351.5,32.1 L353.0,32.5 L354.5,32.9 L355.9,33.2 L357.4,33.5 L358.9,33.6 L360.4,33.6 L361.9,33.6 L363.4,33.5 L364.9,33.4 L366.4,33.3 L367.9,33.1 L369.4,33.0 L370.9,32.9 L372.4,32.8 L373.9,32.8 L375.4,32.8 L376.9,32.9 L378.4,33.0 L379.9,33.2 L381.4,33.3 L382.9,33.5 L384.4,33.6 L385.9,33.7 L387.4,33.8 L388.9,33.9 L390.4,33.9 L391.9,33.8 L393.4,33.7 L394.9,33.6 L396.4,33.5 L398.0,33.3 L399.5,33.2 L401.0,33.1 L402.5,33.0 L404.0,33.0 L405.5,33.0 L407.0,33.1 L408.5,33.2 L409.9,33.4 L411.4,33.7 L412.9,33.9 L414.4,34.2 L415.9,34.5 L417.4,34.7 L418.9,35.0 L420.4,35.2 L421.9,35.4 L423.3,35.6 L424.8,35.6 L426.3,35.7 L427.8,35.7 L429.3,35.7 L430.9,35.7 L432.4,35.6 L433.9,35.6 L435.4,35.6 L436.9,35.5 L438.4,35.5 L439.9,35.4 L441.4,35.4 L442.9,35.3 L444.4,35.3 L445.9,35.3 L447.4,35.3 L448.9,35.4 L450.4,35.4 L451.9,35.5 L453.4,35.7 L454.9,35.8 L456.4,36.0 L457.9,36.1 L459.4,36.4 L460.9,36.6 L462.4,36.9 L463.9,37.0 L465.4,37.2 L466.9,37.2 L468.4,37.1 L469.9,36.8 L471.4,36.5 L472.8,36.2 L474.3,35.9 L475.8,35.5 L477.2,35.1 L478.7,34.8 L480.2,34.4 L481.6,34.0 L483.1,33.7 L484.5,33.4 L486.0,33.1 L487.5,32.9 L489.0,32.7 L490.5,32.5 L492.0,32.5 L493.5,32.5 L495.0,32.6 L496.5,32.7 L498.0,32.8 L499.5,32.9 L501.0,33.0 L502.5,33.1 L504.0,33.1 L505.5,33.2 L507.1,33.2 L508.6,33.2 L510.1,33.3 L511.6,33.3 L513.1,33.3 L514.6,33.3 L516.1,33.2 L517.6,33.2 L519.1,33.2 L520.6,33.2 L522.1,33.1 L523.6,33.1 L525.1,33.1 L526.6,33.0 L528.1,33.0 L529.6,32.9 L531.1,32.9 L532.6,32.8 L534.1,32.8 L535.7,32.7 L537.2,32.7 L538.7,32.6 L540.2,32.6 L541.7,32.5 L543.2,32.5 L544.7,32.5 L546.2,32.5 L547.7,32.5 L549.2,32.5 L550.7,32.5 L552.2,32.6 L553.7,32.7 L555.2,32.8 L556.7,32.9 L558.2,33.0 L559.7,33.0 L561.2,33.1 L562.7,33.1 L564.2,33.1 L565.7,33.0 L567.2,32.9 L568.7,32.8 L570.2,32.6 L571.7,32.5 L573.2,32.3 L574.8,32.2 L576.3,32.1 L577.8,32.0 L579.3,32.0 L580.8,32.0 L582.3,32.1 L583.8,32.2 L585.3,32.4 L586.8,32.5 L588.3,32.7 L589.8,32.9 L591.3,33.0 L592.8,33.2 L594.3,33.4 L595.8,33.5 L597.3,33.7 L598.8,33.8 L600.3,33.8 L601.8,33.9 L603.3,33.9 L604.8,33.8 L606.3,33.8 L607.8,33.6 L609.3,33.5 L610.8,33.3 L612.3,33.1 L613.7,32.9 L615.2,32.6 L616.7,32.4 L618.2,32.1 L619.7,31.8 L621.2,31.6 L622.7,31.4 L624.2,31.2 L625.6,31.0 L627.1,30.8 L628.6,30.7 L630.1,30.6 L631.6,30.6 L633.1,30.6 L634.7,30.5 L636.2,30.5 L637.7,30.5 L639.2,30.6 L640.7,30.6 L642.2,30.7 L643.7,30.9 L645.2,31.1 L646.7,31.3 L648.2,31.6 L649.7,31.8 L651.2,32.0 L652.6,32.1 L654.1,32.1 L655.6,32.0 L657.1,31.7 L658.6,31.5 L660.1,31.2 L661.6,30.9 L663.1,30.5 L664.5,30.2 L666.0,29.9 L667.5,29.6 L669.0,29.4 L670.4,29.3 L671.9,29.1 L673.4,29.0 L675.0,28.9 L676.5,28.8 L678.0,28.8 L679.5,28.7 L681.0,28.7 L682.5,28.7 L684.0,28.7 L685.5,28.7 L687.0,28.7 L688.5,28.8 L690.0,28.8 L691.5,28.9 L693.0,28.9 L694.5,29.0 L696.0,29.1 L697.5,29.2 L699.0,29.4 L700.5,29.6 L702.0,29.8 L703.5,30.0" fill="none" stroke="#000" stroke-width="1.4" stroke-linejoin="round" />
<path d="M88.5,40.7 L90.0,40.7 L91.5,40.7 L93.0,40.7 L94.5,40.7 L96.0,40.7 L97.5,40.7 L99.0,40.7 L100.6,40.7 L102.1,40.7 L103.6,40.7 L105.1,40.7 L106.6,40.7 L108.1,40.6 L109.6,40.6 L111.1,40.6 L112.6,40.6 L114.1,40.6 L115.6,40.6 L117.1,40.6 L118.6,40.6 L120.1,40.6 L121.6,40.5 L123.2,40.5 L124.7,40.5 L126.2,40.5 L127.7,40.5 L129.2,40.5 L130.7,40.5 L132.2,40.5 L133.7,40.5 L135.2,40.4 L136.7,40.4 L138.2,40.4 L139.7,40.4 L141.2,40.4 L142.7,40.4 L144.2,40.4 L145.8,40.4 L147.3,40.4 L148.8,40.4 L150.3,40.4 L151.8,40.4 L153.3,40.4 L154.8,40.4 L156.3,40.4 L157.8,40.5 L159.3,40.5 L160.8,40.5 L162.3,40.5 L163.8,40.6 L165.3,40.6 L166.8,40.7 L168.4,40.7 L169.9,40.8 L171.4,40.9 L172.9,41.0 L174.4,41.1 L175.9,41.2 L177.4,41.3 L178.9,41.4 L180.4,41.5 L181.9,41.6 L183.4,41.7 L184.9,41.8 L186.4,41.8 L187.9,41.9 L189.4,41.9 L190.9,42.0 L192.4,42.0 L193.9,42.1 L195.4,42.1 L196.9,42.1 L198.5,42.2 L200.0,42.2 L201.5,42.2 L203.0,42.3 L204.5,42.3 L206.0,42.3 L207.5,42.3 L209.0,42.3 L210.5,42.4 L212.0,42.4 L213.5,42.4 L215.0,42.4 L216.5,42.4 L218.0,42.4 L219.5,42.4 L221.1,42.5 L222.6,42.5 L224.1,42.5 L225.6,42.5 L227.1,42.5 L228.6,42.5 L230.1,42.5 L231.6,42.5 L233.1,42.6 L234.6,42.6 L236.1,42.6 L237.6,42.6 L239.1,42.6 L240.6,42.7 L242.1,42.7 L243.7,42.7 L245.2,42.8 L246.7,42.8 L248.2,42.9 L249.7,42.9 L251.2,43.0 L252.7,43.0 L254.2,43.0 L255.7,43.1 L257.2,43.1 L258.7,43.2 L260.2,43.2 L261.7,43.2 L263.2,43.3 L264.7,43.3 L266.2,43.3 L267.8,43.3 L269.3,43.3 L270.8,43.3 L272.3,43.3 L273.8,43.2 L275.3,43.2 L276.8,43.2 L278.3,43.1 L279.8,43.1 L281.3,43.0 L282.8,43.0 L284.3,42.9 L285.8,42.8 L287.3,42.7 L288.8,42.6 L290.3,42.6 L291.8,42.5 L293.3,42.4 L294.9,42.2 L296.4,42.1 L297.9,42.0 L299.4,41.8 L300.9,41.7 L302.4,41.6 L303.9,41.5 L305.4,41.4 L306.9,41.3 L308.4,41.3 L309.9,41.3 L311.4,41.3 L312.9,41.3 L314.4,41.4 L315.9,41.4 L317.4,41.4 L318.9,41.5 L320.4,41.6 L321.9,41.6 L323.4,41.7 L324.9,41.7 L326.5,41.8 L328.0,41.9 L329.5,41.9 L331.0,42.0 L332.5,42.0 L334.0,42.1 L335.5,42.2 L337.0,42.3 L338.5,42.3 L340.0,42.4 L341.5,42.5 L343.0,42.6 L344.5,42.6 L346.0,42.7 L347.5,42.8 L349.0,42.9 L350.5,42.9 L352.0,43.0 L353.5,43.0 L355.1,43.0 L356.6,43.0 L358.1,42.9 L359.6,42.9 L361.1,42.8 L362.6,42.7 L364.1,42.6 L365.6,42.5 L367.1,42.4 L368.6,42.3 L370.1,42.3 L371.6,42.2 L373.1,42.1 L374.6,42.1 L376.1,42.0 L377.6,42.0 L379.1,42.0 L380.6,42.0 L382.1,42.1 L383.7,42.1 L385.2,42.2 L386.7,42.3 L388.2,42.4 L389.7,42.5 L391.2,42.6 L392.7,42.8 L394.2,42.9 L395.7,43.0 L397.2,43.1 L398.7,43.2 L400.2,43.3 L401.7,43.4 L403.2,43.5 L404.7,43.6 L406.2,43.7 L407.7,43.8 L409.2,43.9 L410.7,43.9 L412.2,44.0 L413.7,44.1 L415.2,44.2 L416.7,44.3 L418.2,44.4 L419.7,44.5 L421.2,44.6 L422.8,44.7 L424.3,44.9 L425.8,45.0 L427.3,45.1 L428.8,45.2 L430.3,45.3 L431.8,45.4 L433.3,45.5 L434.8,45.6 L436.3,45.7 L437.8,45.8 L439.3,45.8 L440.8,45.9 L442.3,45.9 L443.8,45.9 L445.3,45.9 L446.8,46.0 L448.3,46.0 L449.8,46.0 L451.3,46.0 L452.9,46.0 L454.4,46.1 L455.9,46.2 L457.4,46.3 L458.9,46.4 L460.4,46.6 L461.9,46.9 L463.3,47.1 L464.8,47.4 L466.3,47.7 L467.8,47.9 L469.3,48.1 L470.8,48.2 L472.3,48.2 L473.8,48.1 L475.3,48.0 L476.8,47.8 L478.3,47.5 L479.8,47.2 L481.3,46.9 L482.7,46.6 L484.2,46.2 L485.7,45.8 L487.1,45.4 L488.6,45.0 L490.1,44.7 L491.5,44.6 L493.0,44.5 L494.5,44.5 L496.0,44.5 L497.5,44.5 L499.0,44.6 L500.5,44.6 L502.1,44.7 L503.6,44.8 L505.1,44.9 L506.6,45.0 L508.1,45.0 L509.6,45.1 L511.1,45.1 L512.6,45.1 L514.1,45.0 L515.6,45.0 L517.1,44.9 L518.6,44.8 L520.1,44.6 L521.6,44.5 L523.1,44.3 L524.7,44.2 L526.2,44.1 L527.7,44.0 L529.2,43.9 L530.7,43.8 L532.2,43.7 L533.7,43.7 L535.2,43.6 L536.7,43.5 L538.2,43.5 L539.7,43.4 L541.2,43.4 L542.7,43.4 L544.2,43.4 L545.7,43.4 L547.2,43.4 L548.7,43.5 L550.3,43.5 L551.8,43.6 L553.3,43.7 L554.8,43.8 L556.3,43.9 L557.8,44.1 L559.3,44.2 L560.8,44.3 L562.3,44.4 L563.8,44.5 L565.3,44.6 L566.8,44.7 L568.3,44.7 L569.8,44.7 L571.3,44.6 L572.8,44.4 L574.3,44.2 L575.8,43.9 L577.3,43.6 L578.8,43.4 L580.3,43.3 L581.8,43.2 L583.3,43.3 L584.8,43.3 L586.3,43.4 L587.8,43.5 L589.3,43.6 L590.8,43.7 L592.3,43.8 L593.8,43.9 L595.3,44.0 L596.8,44.0 L598.3,44.1 L599.8,44.1 L601.3,44.1 L602.8,44.1 L604.4,44.0 L605.9,44.0 L607.4,43.9 L608.9,43.9 L610.4,43.8 L611.9,43.7 L613.4,43.6 L614.9,43.5 L616.4,43.5 L617.9,43.3 L619.4,43.2 L620.9,43.1 L622.4,43.0 L623.9,42.8 L625.4,42.7 L626.9,42.6 L628.4,42.5 L629.9,42.4 L631.4,42.3 L632.9,42.2 L634.4,42.2 L635.9,42.2 L637.5,42.2 L639.0,42.3 L640.5,42.3 L642.0,42.4 L643.5,42.5 L645.0,42.5 L646.5,42.6 L648.0,42.7 L649.5,42.8 L651.0,42.9 L652.5,42.9 L654.0,43.0 L655.5,43.0 L657.0,43.1 L658.6,43.1 L660.1,43.1 L661.5,43.0 L663.0,42.9 L664.5,42.8 L666.0,42.5 L667.5,42.3 L669.0,42.0 L670.5,41.8 L672.0,41.5 L673.5,41.2 L675.0,41.0 L676.5,40.7 L678.0,40.5 L679.4,40.3 L680.9,40.2 L682.4,40.2 L683.9,40.2 L685.4,40.3 L687.0,40.4 L688.5,40.5 L690.0,40.6 L691.5,40.8 L693.0,40.9 L694.5,41.0 L696.0,41.1 L697.5,41.2 L699.0,41.3 L700.5,41.4 L702.0,41.5 L703.5,41.5" fill="none" stroke="#0000ff" stroke-width="1.4" stroke-linejoin="round" />
<path d="M88.5,49.6 L90.0,49.7 L91.5,49.7 L93.0,49.8 L94.5,49.9 L96.0,49.9 L97.5,50.0 L99.0,50.0 L100.5,50.1 L102.0,50.1 L103.5,50.2 L105.0,50.2 L106.5,50.3 L108.0,50.3 L109.5,50.4 L111.0,50.4 L112.5,50.5 L114.0,50.5 L115.6,50.6 L117.1,50.6 L118.6,50.7 L120.1,50.7 L121.6,50.8 L123.1,50.8 L124.6,50.8 L126.1,50.9 L127.6,50.9 L129.1,51.0 L130.6,51.0 L132.1,51.0 L133.6,51.1 L135.1,51.1 L136.6,51.1 L138.1,51.2 L139.6,51.2 L141.1,51.2 L142.6,51.3 L144.1,51.3 L145.6,51.3 L147.1,51.4 L148.6,51.4 L150.1,51.4 L151.6,51.5 L153.1,51.5 L154.6,51.5 L156.1,51.6 L157.6,51.6 L159.2,51.6 L160.7,51.7 L162.2,51.7 L163.7,51.7 L165.2,51.8 L166.7,51.8 L168.2,51.8 L169.7,51.8 L171.2,51.9 L172.7,51.9 L174.2,51.9 L175.7,51.9 L177.2,51.9 L178.7,52.0 L180.2,52.0 L181.7,52.0 L183.2,52.0 L184.7,52.0 L186.2,52.0 L187.7,52.0 L189.2,52.0 L190.7,52.0 L192.2,52.0 L193.7,52.0 L195.2,52.0 L196.7,52.0 L198.2,52.0 L199.8,51.9 L201.3,51.9 L202.8,51.9 L204.3,51.9 L205.8,51.9 L207.3,51.9 L208.8,51.9 L210.3,51.8 L211.8,51.8 L213.3,51.8 L214.8,51.8 L216.3,51.8 L217.8,51.8 L219.3,51.8 L220.8,51.8 L222.3,51.7 L223.8,51.7 L225.3,51.7 L226.8,51.7 L228.3,51.7 L229.8,51.7 L231.3,51.7 L232.8,51.7 L234.3,51.6 L235.8,51.6 L237.3,51.6 L238.9,51.6 L240.4,51.6 L241.9,51.6 L243.4,51.6 L244.9,51.6 L246.4,51.6 L247.9,51.6 L249.4,51.6 L250.9,51.6 L252.4,51.5 L253.9,51.5 L255.4,51.5 L256.9,51.5 L258.4,51.5 L259.9,51.5 L261.4,51.5 L262.9,51.5 L264.4,51.4 L265.9,51.4 L267.4,51.4 L268.9,51.4 L270.4,51.3 L271.9,51.3 L273.4,51.3 L274.9,51.2 L276.4,51.2 L277.9,51.2 L279.5,51.1 L281.0,51.1 L282.5,51.1 L284.0,51.0 L285.5,51.0 L287.0,51.0 L288.5,51.0 L290.0,51.0 L291.5,51.0 L293.0,51.0 L294.5,51.1 L296.0,51.1 L297.5,51.2 L299.0,51.3 L300.5,51.3 L302.0,51.4 L303.5,51.5 L305.0,51.6 L306.5,51.6 L308.0,51.7 L309.5,51.8 L311.0,51.8 L312.5,51.9 L314.0,51.9 L315.5,52.0 L317.0,52.1 L318.5,52.1 L320.0,52.2 L321.5,52.2 L323.1,52.2 L324.6,52.3 L326.1,52.3 L327.6,52.3 L329.1,52.3 L330.6,52.3 L332.1,52.3 L333.6,52.2 L335.1,52.2 L336.6,52.2 L338.1,52.1 L339.6,52.0 L341.1,51.9 L342.6,51.7 L344.1,51.6 L345.6,51.5 L347.1,51.6 L348.6,51.7 L350.1,52.0 L351.5,52.2 L353.0,52.5 L354.5,52.8 L356.0,52.9 L357.5,53.0 L359.0,53.0 L360.5,53.0 L362.0,53.0 L363.5,52.9 L365.0,52.9 L366.5,52.8 L368.0,52.7 L369.5,52.7 L371.0,52.7 L372.5,52.7 L374.0,52.8 L375.6,52.9 L377.1,53.0 L378.6,53.1 L380.1,53.3 L381.6,53.4 L383.1,53.5 L384.6,53.6 L386.1,53.7 L387.6,53.8 L389.1,53.8 L390.6,53.8 L392.1,53.7 L393.6,53.6 L395.1,53.5 L396.6,53.4 L398.1,53.2 L399.6,53.1 L401.1,53.0 L402.6,52.9 L404.1,52.8 L405.6,52.8 L407.1,52.8 L408.6,52.9 L410.1,53.0 L411.6,53.1 L413.1,53.3 L414.6,53.5 L416.1,53.7 L417.6,53.8 L419.1,54.0 L420.6,54.1 L422.1,54.2 L423.6,54.3 L425.1,54.3 L426.6,54.3 L428.1,54.3 L429.6,54.2 L431.1,54.1 L432.6,54.1 L434.1,54.0 L435.6,53.9 L437.1,53.8 L438.6,53.7 L440.1,53.6 L441.6,53.6 L443.1,53.5 L444.6,53.5 L446.1,53.5 L447.6,53.6 L449.1,53.6 L450.6,53.7 L452.1,53.8 L453.6,53.9 L455.1,54.1 L456.6,54.2 L458.1,54.3 L459.6,54.4 L461.1,54.5 L462.6,54.5 L464.1,54.5 L465.6,54.5 L467.1,54.4 L468.6,54.3 L470.1,54.1 L471.6,53.9 L473.1,53.6 L474.6,53.4 L476.1,53.2 L477.6,53.0 L479.1,52.8 L480.6,52.6 L482.1,52.5 L483.6,52.5 L485.1,52.5 L486.6,52.5 L488.1,52.6 L489.6,52.7 L491.1,52.8 L492.6,53.0 L494.1,53.1 L495.6,53.2 L497.1,53.4 L498.6,53.5 L500.1,53.6 L501.6,53.7 L503.1,53.8 L504.6,53.9 L506.1,53.9 L507.6,53.9 L509.1,54.0 L510.6,54.0 L512.1,54.0 L513.6,53.9 L515.1,53.9 L516.6,53.9 L518.1,53.8 L519.6,53.8 L521.1,53.7 L522.6,53.6 L524.1,53.5 L525.6,53.4 L527.1,53.3 L528.6,53.2 L530.1,53.0 L531.6,52.9 L533.1,52.7 L534.6,52.5 L536.1,52.3 L537.6,52.2 L539.1,52.1 L540.6,52.0 L542.1,52.0 L543.6,52.1 L545.1,52.2 L546.6,52.4 L548.1,52.6 L549.6,52.8 L551.1,53.0 L552.6,53.2 L554.1,53.4 L555.6,53.6 L557.1,53.8 L558.6,53.9 L560.1,54.1 L561.6,54.2 L563.1,54.2 L564.6,54.2 L566.1,54.1 L567.5,54.0 L569.0,53.8 L570.5,53.7 L572.0,53.5 L573.5,53.4 L575.0,53.3 L576.5,53.3 L578.0,53.3 L579.5,53.4 L581.0,53.5 L582.5,53.7 L584.0,53.8 L585.5,54.0 L587.0,54.1 L588.5,54.3 L590.0,54.5 L591.5,54.6 L593.0,54.7 L594.5,54.8 L596.0,54.9 L597.5,54.9 L599.0,55.0 L600.5,55.0 L602.0,55.0 L603.6,55.0 L605.1,55.0 L606.6,55.0 L608.1,55.0 L609.6,55.0 L611.1,55.0 L612.6,55.0 L614.1,54.9 L615.6,54.9 L617.1,54.9 L618.6,54.8 L620.1,54.7 L621.6,54.7 L623.1,54.6 L624.6,54.5 L626.1,54.4 L627.6,54.3 L629.1,54.2 L630.6,54.1 L632.1,53.9 L633.6,53.7 L635.1,53.5 L636.6,53.3 L638.1,53.1 L639.5,52.9 L641.0,52.7 L642.5,52.5 L644.1,52.3 L645.6,52.2 L647.1,52.0 L648.6,52.0 L650.1,52.0 L651.5,52.1 L653.0,52.3 L654.5,52.7 L655.9,53.2 L657.4,53.7 L658.8,54.2 L660.3,54.5 L661.7,54.7 L663.2,54.7 L664.7,54.6 L666.2,54.3 L667.7,54.1 L669.2,53.7 L670.7,53.4 L672.1,53.1 L673.6,52.8 L675.1,52.6 L676.6,52.5 L678.1,52.5 L679.6,52.7 L681.1,53.0 L682.5,53.3 L684.0,53.6 L685.5,54.0 L687.0,54.3 L688.5,54.6 L690.0,54.8 L691.5,55.0 L693.0,55.2 L694.5,55.4 L696.0,55.5 L697.5,55.5 L699.0,55.5 L700.5,55.4 L702.0,55.3 L703.5,55.0" fill="none" stroke="#ff0000" stroke-width="1.4" stroke-linejoin="round" />
</g>
<g clip-path="url(#cpb)">
<path d="M88.5,273.3 L90.0,273.3 L91.5,273.2 L93.0,273.2 L94.5,273.2 L96.0,273.1 L97.5,273.1 L99.1,273.1 L100.6,273.0 L102.1,273.0 L103.6,273.0 L105.1,272.9 L106.6,272.9 L108.1,272.9 L109.6,272.8 L111.1,272.8 L112.6,272.7 L114.1,272.7 L115.6,272.7 L117.1,272.6 L118.6,272.6 L120.2,272.6 L121.7,272.5 L123.2,272.5 L124.7,272.4 L126.2,272.4 L127.7,272.3 L129.2,272.3 L130.7,272.2 L132.2,272.2 L133.7,272.1 L135.2,272.1 L136.7,272.0 L138.2,272.0 L139.7,271.9 L141.3,271.8 L142.8,271.8 L144.3,271.7 L145.8,271.6 L147.3,271.6 L148.8,271.5 L150.3,271.4 L151.8,271.3 L153.3,271.2 L154.8,271.1 L156.3,271.1 L157.8,271.0 L159.3,270.9 L160.8,270.8 L162.3,270.7 L163.8,270.7 L165.3,270.6 L166.9,270.6 L168.4,270.5 L169.9,270.5 L171.4,270.5 L172.9,270.4 L174.4,270.4 L175.9,270.4 L177.4,270.3 L178.9,270.3 L180.4,270.3 L181.9,270.2 L183.4,270.1 L184.9,270.0 L186.4,269.9 L187.9,269.8 L189.4,269.6 L190.9,269.4 L192.4,269.2 L193.9,268.9 L195.4,268.6 L196.9,268.3 L198.4,268.0 L199.9,267.7 L201.4,267.4 L202.8,267.2 L204.3,267.0 L205.8,266.8 L207.3,266.7 L208.8,266.7 L210.3,266.7 L211.8,266.7 L213.3,266.8 L214.8,266.9 L216.3,267.0 L217.8,267.1 L219.4,267.2 L220.9,267.3 L222.4,267.4 L223.9,267.5 L225.4,267.6 L226.9,267.7 L228.4,267.7 L229.9,267.7 L231.4,267.7 L232.9,267.6 L234.4,267.5 L235.9,267.4 L237.4,267.3 L238.9,267.1 L240.4,267.0 L241.9,266.8 L243.4,266.7 L245.0,266.5 L246.5,266.4 L248.0,266.3 L249.5,266.2 L251.0,266.1 L252.5,266.0 L254.0,266.0 L255.5,266.0 L257.0,266.0 L258.5,266.1 L260.0,266.2 L261.5,266.3 L263.0,266.3 L264.6,266.4 L266.0,266.3 L267.5,266.2 L269.0,265.9 L270.5,265.5 L271.9,265.0 L273.4,264.6 L274.8,264.2 L276.3,263.8 L277.8,263.6 L279.3,263.5 L280.8,263.4 L282.3,263.3 L283.8,263.3 L285.3,263.2 L286.8,263.1 L288.3,262.9 L289.8,262.7 L291.3,262.4 L292.8,262.1 L294.2,261.7 L295.7,261.4 L297.2,261.2 L298.7,261.0 L300.2,260.9 L301.7,260.8 L303.2,260.8 L304.7,260.9 L306.2,261.0 L307.7,261.2 L309.2,261.4 L310.7,261.7 L312.2,261.9 L313.7,262.1 L315.2,262.3 L316.7,262.4 L318.2,262.4 L319.7,262.4 L321.2,262.4 L322.7,262.4 L324.2,262.3 L325.7,262.1 L327.2,261.8 L328.7,261.5 L330.2,261.2 L331.6,260.9 L333.1,260.5 L334.6,260.1 L336.1,259.6 L337.5,259.2 L339.0,258.7 L340.5,258.4 L341.9,258.2 L343.4,258.1 L344.9,258.2 L346.3,258.5 L347.8,258.9 L349.3,259.4 L350.8,259.8 L352.3,260.1 L353.7,260.3 L355.2,260.2 L356.7,259.8 L358.1,259.3 L359.5,258.6 L360.9,258.0 L362.2,257.2 L363.4,256.2 L364.4,255.2 L365.4,253.9 L366.2,252.6 L366.3,251.1 L366.3,249.6 L366.1,248.1 L365.3,246.7 L364.4,245.6 L363.3,244.5 L362.1,243.7 L360.7,242.9 L359.4,242.2 L358.0,241.6 L356.6,241.0 L355.2,240.5 L353.8,239.9 L352.4,239.4 L351.0,238.8 L349.6,238.3 L348.2,237.7 L346.8,237.1 L345.4,236.6 L344.0,236.0" fill="none" stroke="#ff00ff" stroke-width="2.78" stroke-linejoin="round" />
<path d="M88.5,351.6 L90.0,351.4 L91.5,351.2 L93.0,351.1 L94.5,351.1 L96.1,351.0 L97.6,351.0 L99.1,351.0 L100.6,351.1 L102.1,351.2 L103.6,351.2 L105.1,351.4 L106.6,351.5 L108.1,351.7 L109.5,352.0 L111.0,352.3 L112.5,352.6 L114.0,352.9 L115.5,353.1 L117.0,353.4 L118.5,353.6 L120.0,353.7 L121.5,353.8 L123.0,353.9 L124.5,353.9 L126.0,353.9 L127.5,353.9 L129.0,353.9 L130.5,353.9 L132.0,353.9 L133.5,353.8 L135.0,353.8 L136.5,353.7 L138.0,353.5 L139.5,353.4 L141.0,353.2 L142.5,353.0 L144.0,352.8 L145.5,352.6 L147.0,352.4 L148.5,352.2 L150.0,352.1 L151.5,351.9 L153.0,351.7 L154.5,351.6 L156.0,351.4 L157.5,351.3 L159.0,351.2 L160.5,351.1 L162.0,351.0 L163.5,350.9 L165.0,350.8 L166.5,350.8 L168.0,350.8 L169.5,350.8 L171.0,350.9 L172.5,350.9 L174.0,351.0 L175.5,351.1 L177.0,351.2 L178.6,351.3 L180.1,351.4 L181.6,351.5 L183.1,351.6 L184.6,351.7 L186.1,351.8 L187.6,351.8 L189.1,351.9 L190.6,351.9 L192.1,352.0 L193.6,352.0 L195.1,352.1 L196.6,352.1 L198.1,352.1 L199.6,352.1 L201.1,352.1 L202.7,352.1 L204.2,352.1 L205.7,352.1 L207.2,352.0 L208.7,352.0 L210.2,351.9 L211.7,351.8 L213.2,351.8 L214.7,351.7 L216.2,351.7 L217.7,351.6 L219.2,351.6 L220.7,351.6 L222.2,351.6 L223.7,351.6 L225.2,351.6 L226.8,351.6 L228.3,351.6 L229.8,351.6 L231.3,351.6 L232.8,351.7 L234.3,351.7 L235.8,351.8 L237.3,351.8 L238.8,351.9 L240.3,351.9 L241.8,352.0 L243.3,352.1 L244.8,352.2 L246.3,352.3 L247.8,352.4 L249.3,352.5 L250.8,352.6 L252.3,352.7 L253.8,352.8 L255.3,352.9 L256.9,353.0 L258.4,353.1 L259.9,353.1 L261.4,353.1 L262.9,353.1 L264.4,353.1 L265.9,353.1 L267.4,353.0 L268.9,353.0 L270.4,352.9 L271.9,352.8 L273.4,352.8 L274.9,352.7 L276.4,352.6 L277.9,352.5 L279.4,352.4 L280.9,352.2 L282.4,352.1 L284.0,352.0 L285.5,351.9 L287.0,351.7 L288.5,351.6 L290.0,351.5 L291.5,351.4 L293.0,351.3 L294.5,351.3 L296.0,351.3 L297.5,351.3 L299.0,351.4 L300.5,351.5 L302.0,351.7 L303.5,351.8 L305.0,352.0 L306.5,352.3 L308.0,352.5 L309.5,352.7 L310.9,353.0 L312.4,353.2 L313.9,353.5 L315.4,353.7 L316.9,354.0 L318.4,354.3 L319.9,354.6 L321.3,354.8 L322.8,355.1 L324.3,355.4 L325.8,355.6 L327.3,355.8 L328.8,356.0 L330.3,356.2 L331.8,356.3 L333.3,356.5 L334.8,356.6 L336.3,356.7 L337.8,356.8 L339.3,356.9 L340.8,357.0 L342.3,357.1 L343.8,357.2 L345.3,357.2 L346.8,357.3 L348.3,357.3 L349.8,357.3 L351.3,357.3 L352.8,357.3 L354.3,357.3 L355.8,357.2 L357.4,357.2 L358.9,357.1 L360.4,357.1 L361.9,357.0 L363.4,356.9 L364.9,356.8 L366.4,356.7 L367.9,356.6 L369.4,356.5 L370.9,356.4 L372.4,356.3 L373.9,356.2 L375.4,356.0 L376.9,355.9 L378.4,355.7 L379.9,355.6 L381.4,355.4 L382.9,355.2 L384.4,355.1 L385.9,354.9 L387.4,354.8 L388.9,354.6 L390.4,354.4 L391.9,354.3 L393.4,354.1 L394.9,353.9 L396.4,353.8 L397.9,353.6 L399.4,353.3 L400.9,353.1 L402.4,352.9 L403.9,352.7 L405.3,352.6 L406.9,352.6 L408.4,352.7 L409.9,352.8 L411.4,352.9 L412.9,352.9 L414.4,352.9 L415.9,352.9 L417.3,352.7 L418.8,352.3 L420.2,351.8 L421.6,351.3 L423.1,350.7 L424.5,350.1 L425.9,349.6 L427.4,349.1 L428.8,348.8 L430.3,348.6 L431.8,348.5 L433.3,348.4 L434.8,348.3 L436.3,348.1 L437.8,347.8 L439.3,347.3 L440.7,346.7 L442.1,346.2 L443.6,345.7 L445.0,345.5 L446.4,345.7 L447.9,346.1 L449.3,346.6 L450.8,347.1 L452.3,347.4 L453.8,347.7 L455.3,347.9 L456.7,348.1 L458.2,348.3 L459.7,348.5 L461.2,348.7 L462.7,349.0 L464.2,349.2 L465.7,349.5 L467.1,349.8 L468.6,350.1 L470.1,350.4 L471.6,350.7 L473.1,350.9 L474.5,351.2 L476.0,351.5 L477.5,351.8 L479.0,352.1 L480.5,352.3 L482.0,352.6 L483.5,352.8 L485.0,352.9 L486.5,353.0 L488.0,353.2 L489.5,353.3 L491.0,353.3 L492.5,353.4 L494.0,353.4 L495.5,353.4 L497.0,353.4 L498.5,353.3 L500.0,353.2 L501.5,353.0 L503.0,352.9 L504.5,352.7 L506.0,352.4 L507.5,352.2 L508.9,351.8 L510.4,351.4 L511.8,350.9 L513.2,350.3 L514.5,349.6 L515.8,348.6 L517.0,347.7 L518.3,347.0 L519.7,346.6 L521.1,346.4 L522.7,346.4 L524.2,346.3 L525.8,346.4 L527.3,346.4 L528.8,346.4 L530.3,346.4 L531.8,346.4 L533.3,346.3 L534.8,346.2 L536.3,346.2 L537.8,346.1 L539.3,346.1 L540.8,346.0 L542.3,346.0 L543.9,346.0 L545.4,346.0 L546.9,346.2 L548.4,346.3 L549.9,346.5 L551.3,346.7 L552.8,347.0 L554.3,347.3 L555.8,347.6 L557.2,348.0 L558.7,348.4 L560.1,348.9 L561.5,349.4 L563.0,350.0 L564.4,350.5 L565.8,351.0 L567.2,351.5 L568.7,351.9 L570.1,352.2 L571.6,352.4 L573.1,352.7 L574.6,352.9 L576.1,353.0 L577.6,353.1 L579.1,353.2 L580.6,353.3 L582.1,353.3 L583.7,353.3 L585.2,353.3 L586.7,353.2 L588.2,353.0 L589.7,352.9 L591.1,352.5 L592.5,352.1 L593.9,351.5 L595.3,350.9 L596.7,350.2 L598.1,349.5 L599.4,348.8 L600.7,348.0 L602.0,347.2 L603.3,346.4 L604.6,345.8 L606.0,345.3 L607.5,344.8 L608.9,344.3 L610.3,343.8 L611.7,343.2 L613.0,342.5 L614.4,341.9 L615.8,341.4 L617.3,340.9 L618.7,340.6 L620.2,340.3 L621.7,340.1 L623.2,340.1 L624.8,340.1 L626.3,340.3 L627.7,340.5 L629.1,341.0 L630.4,341.8 L631.7,342.6 L633.1,343.2 L634.5,343.8 L635.9,344.3 L637.4,344.8 L638.8,345.1 L640.3,345.4 L641.8,345.7 L643.3,345.9 L644.8,346.1 L646.3,346.3 L647.8,346.4 L649.3,346.4 L650.8,346.5 L652.3,346.5 L653.8,346.5 L655.3,346.5 L656.8,346.5 L658.3,346.5 L659.8,346.5 L661.4,346.5 L662.9,346.4 L664.4,346.4 L665.9,346.4 L667.4,346.4 L668.9,346.3 L670.4,346.3 L671.9,346.2 L673.4,346.2 L674.9,346.1 L676.4,346.1 L677.9,346.0 L679.4,346.0 L680.9,345.9 L682.4,345.9 L683.9,345.8 L685.4,345.7 L687.0,345.7 L688.5,345.6 L690.0,345.5 L691.5,345.5 L693.0,345.4 L694.5,345.3 L696.0,345.2 L697.5,345.1 L699.0,345.0 L700.5,344.9 L702.0,344.8 L703.5,344.7" fill="none" stroke="#ff00ff" stroke-width="2.78" stroke-linejoin="round" />
</g>
<g clip-path="url(#cpa)">
<path d="M395.5,231.4 V-1.5" stroke="#000" stroke-width="2.78" stroke-dasharray="10.28 4.44" fill="none"/>
</g>
<g clip-path="url(#cpb)">
<path d="M88.5,343.50 H703.5" stroke="#000" stroke-width="2.78" stroke-dasharray="10.28 4.44" fill="none"/>
<path d="M395.5,449.4 V216.5" stroke="#000" stroke-width="2.78" stroke-dasharray="10.28 4.44" fill="none"/>
</g>
<g clip-path="url(#cpc)">
<path d="M88.5,561.50 H703.5" stroke="#000" stroke-width="2.78" stroke-dasharray="10.28 4.44" fill="none"/>
<path d="M395.5,667.4 V434.5" stroke="#000" stroke-width="2.78" stroke-dasharray="10.28 4.44" fill="none"/>
</g>
<rect x="93" y="18.5" width="55" height="39.2" fill="#fff"/>
<text transform="translate(92.80,49.90)" x="0.00" y="0" font-size="41.43" textLength="54.19" lengthAdjust="spacingAndGlyphs">(a)</text>
<rect x="93" y="236.5" width="55" height="39.2" fill="#fff"/>
<text transform="translate(92.80,267.90)" x="0.00" y="0" font-size="41.43" textLength="55.05" lengthAdjust="spacingAndGlyphs">(b)</text>
<rect x="93" y="454.5" width="55" height="39.2" fill="#fff"/>
<text transform="translate(92.80,485.90)" x="0.00" y="0" font-size="41.43" textLength="51.74" lengthAdjust="spacingAndGlyphs">(c)</text>
<rect x="88.5" y="18.5" width="615.0" height="213.0" fill="none" stroke="#000" stroke-width="1.11"/>
<path d="M149.50,231.5 v4.86M303.50,231.5 v4.86M457.50,231.5 v4.86M610.50,231.5 v4.86" stroke="#000" stroke-width="1.11" fill="none"/>
<path d="M88.50,231.5 v2.78M118.50,231.5 v2.78M180.50,231.5 v2.78M211.50,231.5 v2.78M241.50,231.5 v2.78M272.50,231.5 v2.78M334.50,231.5 v2.78M364.50,231.5 v2.78M395.50,231.5 v2.78M426.50,231.5 v2.78M487.50,231.5 v2.78M518.50,231.5 v2.78M549.50,231.5 v2.78M580.50,231.5 v2.78M641.50,231.5 v2.78M672.50,231.5 v2.78M703.50,231.5 v2.78" stroke="#000" stroke-width="0.83" fill="none"/>
<rect x="88.5" y="236.5" width="615.0" height="213.0" fill="none" stroke="#000" stroke-width="1.11"/>
<path d="M149.50,449.5 v4.86M303.50,449.5 v4.86M457.50,449.5 v4.86M610.50,449.5 v4.86" stroke="#000" stroke-width="1.11" fill="none"/>
<path d="M88.50,449.5 v2.78M118.50,449.5 v2.78M180.50,449.5 v2.78M211.50,449.5 v2.78M241.50,449.5 v2.78M272.50,449.5 v2.78M334.50,449.5 v2.78M364.50,449.5 v2.78M395.50,449.5 v2.78M426.50,449.5 v2.78M487.50,449.5 v2.78M518.50,449.5 v2.78M549.50,449.5 v2.78M580.50,449.5 v2.78M641.50,449.5 v2.78M672.50,449.5 v2.78M703.50,449.5 v2.78" stroke="#000" stroke-width="0.83" fill="none"/>
<rect x="88.5" y="454.5" width="615.0" height="213.0" fill="none" stroke="#000" stroke-width="1.11"/>
<path d="M149.50,667.5 v4.86M303.50,667.5 v4.86M457.50,667.5 v4.86M610.50,667.5 v4.86" stroke="#000" stroke-width="1.11" fill="none"/>
<path d="M88.50,667.5 v2.78M118.50,667.5 v2.78M180.50,667.5 v2.78M211.50,667.5 v2.78M241.50,667.5 v2.78M272.50,667.5 v2.78M334.50,667.5 v2.78M364.50,667.5 v2.78M395.50,667.5 v2.78M426.50,667.5 v2.78M487.50,667.5 v2.78M518.50,667.5 v2.78M549.50,667.5 v2.78M580.50,667.5 v2.78M641.50,667.5 v2.78M672.50,667.5 v2.78M703.50,667.5 v2.78" stroke="#000" stroke-width="0.83" fill="none"/>
<path d="M88.5,221.50 h-4.86M88.5,183.50 h-4.86M88.5,144.50 h-4.86M88.5,105.50 h-4.86M88.5,67.50 h-4.86M88.5,28.50 h-4.86M88.5,439.50 h-4.86M88.5,392.50 h-4.86M88.5,345.50 h-4.86M88.5,298.50 h-4.86M88.5,250.50 h-4.86M88.5,657.50 h-4.86M88.5,610.50 h-4.86M88.5,563.50 h-4.86M88.5,516.50 h-4.86M88.5,468.50 h-4.86" stroke="#000" stroke-width="1.11" fill="none"/>
<path d="M88.5,231.50 h-2.78M88.5,212.50 h-2.78M88.5,202.50 h-2.78M88.5,192.50 h-2.78M88.5,173.50 h-2.78M88.5,163.50 h-2.78M88.5,154.50 h-2.78M88.5,134.50 h-2.78M88.5,125.50 h-2.78M88.5,115.50 h-2.78M88.5,96.50 h-2.78M88.5,86.50 h-2.78M88.5,76.50 h-2.78M88.5,57.50 h-2.78M88.5,48.50 h-2.78M88.5,38.50 h-2.78M88.5,19.50 h-2.78M88.5,449.50 h-2.78M88.5,430.50 h-2.78M88.5,421.50 h-2.78M88.5,411.50 h-2.78M88.5,402.50 h-2.78M88.5,383.50 h-2.78M88.5,373.50 h-2.78M88.5,364.50 h-2.78M88.5,354.50 h-2.78M88.5,335.50 h-2.78M88.5,326.50 h-2.78M88.5,317.50 h-2.78M88.5,307.50 h-2.78M88.5,288.50 h-2.78M88.5,279.50 h-2.78M88.5,269.50 h-2.78M88.5,260.50 h-2.78M88.5,241.50 h-2.78M88.5,667.50 h-2.78M88.5,648.50 h-2.78M88.5,639.50 h-2.78M88.5,629.50 h-2.78M88.5,620.50 h-2.78M88.5,601.50 h-2.78M88.5,591.50 h-2.78M88.5,582.50 h-2.78M88.5,572.50 h-2.78M88.5,553.50 h-2.78M88.5,544.50 h-2.78M88.5,535.50 h-2.78M88.5,525.50 h-2.78M88.5,506.50 h-2.78M88.5,497.50 h-2.78M88.5,487.50 h-2.78M88.5,478.50 h-2.78M88.5,459.50 h-2.78" stroke="#000" stroke-width="0.83" fill="none"/>
<text transform="translate(77.80,35.60)" x="-37.10" y="0" font-size="20.70" textLength="37.10" lengthAdjust="spacingAndGlyphs">100</text>
<text transform="translate(77.80,74.60)" x="-12.37" y="0" font-size="20.70" textLength="12.37" lengthAdjust="spacingAndGlyphs">0</text>
<text transform="translate(77.80,112.60)" x="-53.39" y="0" font-size="20.70" textLength="53.39" lengthAdjust="spacingAndGlyphs">−100</text>
<text transform="translate(77.80,151.60)" x="-53.39" y="0" font-size="20.70" textLength="53.39" lengthAdjust="spacingAndGlyphs">−200</text>
<text transform="translate(77.80,190.60)" x="-53.39" y="0" font-size="20.70" textLength="53.39" lengthAdjust="spacingAndGlyphs">−300</text>
<text transform="translate(77.80,228.60)" x="-53.39" y="0" font-size="20.70" textLength="53.39" lengthAdjust="spacingAndGlyphs">−400</text>
<text transform="translate(77.80,257.60)" x="-24.74" y="0" font-size="20.70" textLength="24.74" lengthAdjust="spacingAndGlyphs">75</text>
<text transform="translate(77.80,305.60)" x="-24.74" y="0" font-size="20.70" textLength="24.74" lengthAdjust="spacingAndGlyphs">70</text>
<text transform="translate(77.80,352.60)" x="-24.74" y="0" font-size="20.70" textLength="24.74" lengthAdjust="spacingAndGlyphs">65</text>
<text transform="translate(77.80,399.60)" x="-24.74" y="0" font-size="20.70" textLength="24.74" lengthAdjust="spacingAndGlyphs">60</text>
<text transform="translate(77.80,446.60)" x="-24.74" y="0" font-size="20.70" textLength="24.74" lengthAdjust="spacingAndGlyphs">55</text>
<text transform="translate(77.80,475.60)" x="-24.74" y="0" font-size="20.70" textLength="24.74" lengthAdjust="spacingAndGlyphs">75</text>
<text transform="translate(77.80,523.60)" x="-24.74" y="0" font-size="20.70" textLength="24.74" lengthAdjust="spacingAndGlyphs">70</text>
<text transform="translate(77.80,570.60)" x="-24.74" y="0" font-size="20.70" textLength="24.74" lengthAdjust="spacingAndGlyphs">65</text>
<text transform="translate(77.80,617.60)" x="-24.74" y="0" font-size="20.70" textLength="24.74" lengthAdjust="spacingAndGlyphs">60</text>
<text transform="translate(77.80,664.60)" x="-24.74" y="0" font-size="20.70" textLength="24.74" lengthAdjust="spacingAndGlyphs">55</text>
<text transform="translate(148.60,690.90)" x="-27.31" y="0" font-size="20.70" textLength="54.62" lengthAdjust="spacingAndGlyphs">01:15</text>
<text transform="translate(302.60,690.90)" x="-27.31" y="0" font-size="20.70" textLength="54.62" lengthAdjust="spacingAndGlyphs">01:20</text>
<text transform="translate(456.60,690.90)" x="-27.31" y="0" font-size="20.70" textLength="54.62" lengthAdjust="spacingAndGlyphs">01:25</text>
<text transform="translate(609.60,690.90)" x="-27.31" y="0" font-size="20.70" textLength="54.62" lengthAdjust="spacingAndGlyphs">01:30</text>
<text transform="translate(395.30,715.10)" x="-84.25" y="0" font-size="20.70" textLength="168.51" lengthAdjust="spacingAndGlyphs">UT of 2002 07 27</text>
<text transform="translate(394.30,13.30)" x="-59.80" y="0" font-size="20.70" textLength="119.59" lengthAdjust="spacingAndGlyphs">01:23:00 UT</text>
<text transform="translate(708.60,32.70)" x="0.00" y="0" font-size="20.70" textLength="46.27" lengthAdjust="spacingAndGlyphs">Total</text>
<text transform="translate(708.60,54.60)" x="0.00" y="0" font-size="20.70" textLength="81.00" lengthAdjust="spacingAndGlyphs" fill="#0000ff">External</text>
<text transform="translate(708.60,76.50)" x="0.00" y="0" font-size="20.70" textLength="75.26" lengthAdjust="spacingAndGlyphs" fill="#ff0000">Internal</text>
<text transform="translate(717.30,344.40) rotate(-90)" x="-18.90" y="0" font-size="20.70" textLength="37.81" lengthAdjust="spacingAndGlyphs">ABK</text>
<text transform="translate(717.30,562.40) rotate(-90)" x="-18.90" y="0" font-size="20.70" textLength="37.81" lengthAdjust="spacingAndGlyphs">ABK</text>
<text transform="translate(15.30,125.20) rotate(-90)" x="-47.21" y="0" font-size="20.70" textLength="94.43" lengthAdjust="spacingAndGlyphs">IL, IU [nT]</text>
<text transform="translate(40.80,428.71) rotate(-90)" x="0.00" y="0" font-size="20.70" textLength="30.37" lengthAdjust="spacingAndGlyphs">Lat</text>
<text transform="translate(40.80,393.17) rotate(-90)" x="0.00" y="0" font-size="20.70" textLength="7.58" lengthAdjust="spacingAndGlyphs">[</text>
<text transform="translate(33.80,385.95) rotate(-90)" x="0.00" y="0" font-size="14.49" textLength="8.33" lengthAdjust="spacingAndGlyphs" font-style="italic">o</text>
<text transform="translate(40.80,377.29) rotate(-90)" x="0.00" y="0" font-size="20.70" textLength="7.58" lengthAdjust="spacingAndGlyphs">]</text>
<text transform="translate(40.80,361.67) rotate(-90)" x="0.00" y="0" font-size="20.70" textLength="52.50" lengthAdjust="spacingAndGlyphs">(Long</text>
<text transform="translate(40.80,306.46) rotate(-90)" x="0.00" y="0" font-size="20.70" textLength="16.29" lengthAdjust="spacingAndGlyphs">=</text>
<text transform="translate(40.80,287.85) rotate(-90)" x="0.00" y="0" font-size="20.70" textLength="46.97" lengthAdjust="spacingAndGlyphs">ABK)</text>
<text transform="translate(40.80,646.71) rotate(-90)" x="0.00" y="0" font-size="20.70" textLength="30.37" lengthAdjust="spacingAndGlyphs">Lat</text>
<text transform="translate(40.80,611.17) rotate(-90)" x="0.00" y="0" font-size="20.70" textLength="7.58" lengthAdjust="spacingAndGlyphs">[</text>
<text transform="translate(33.80,603.95) rotate(-90)" x="0.00" y="0" font-size="14.49" textLength="8.33" lengthAdjust="spacingAndGlyphs" font-style="italic">o</text>
<text transform="translate(40.80,595.29) rotate(-90)" x="0.00" y="0" font-size="20.70" textLength="7.58" lengthAdjust="spacingAndGlyphs">]</text>
<text transform="translate(40.80,579.67) rotate(-90)" x="0.00" y="0" font-size="20.70" textLength="52.50" lengthAdjust="spacingAndGlyphs">(Long</text>
<text transform="translate(40.80,524.46) rotate(-90)" x="0.00" y="0" font-size="20.70" textLength="16.29" lengthAdjust="spacingAndGlyphs">=</text>
<text transform="translate(40.80,505.85) rotate(-90)" x="0.00" y="0" font-size="20.70" textLength="46.97" lengthAdjust="spacingAndGlyphs">ABK)</text>
<linearGradient id="cbg0" x1="0" y1="0" x2="0" y2="1"><stop offset="0.0000" stop-color="#67001f"/><stop offset="0.0159" stop-color="#730421"/><stop offset="0.0317" stop-color="#7f0823"/><stop offset="0.0476" stop-color="#8a0b25"/><stop offset="0.0635" stop-color="#960f27"/><stop offset="0.0794" stop-color="#a21328"/><stop offset="0.0952" stop-color="#ae172a"/><stop offset="0.1111" stop-color="#b61f2e"/><stop offset="0.1270" stop-color="#bb2a34"/><stop offset="0.1429" stop-color="#c13639"/><stop offset="0.1587" stop-color="#c6413e"/><stop offset="0.1746" stop-color="#cc4c44"/><stop offset="0.1905" stop-color="#d25849"/><stop offset="0.2063" stop-color="#d7634f"/><stop offset="0.2222" stop-color="#dc6e57"/><stop offset="0.2381" stop-color="#e17860"/><stop offset="0.2540" stop-color="#e6866a"/><stop offset="0.2698" stop-color="#eb9172"/><stop offset="0.2857" stop-color="#f09c7b"/><stop offset="0.3016" stop-color="#f4a683"/><stop offset="0.3175" stop-color="#f6af8e"/><stop offset="0.3333" stop-color="#f7b799"/><stop offset="0.3492" stop-color="#f8bfa4"/><stop offset="0.3651" stop-color="#fac8af"/><stop offset="0.3810" stop-color="#fbd0b9"/><stop offset="0.3968" stop-color="#fdd9c4"/><stop offset="0.4127" stop-color="#fcdecd"/><stop offset="0.4286" stop-color="#fbe3d4"/><stop offset="0.4444" stop-color="#fae7dc"/><stop offset="0.4603" stop-color="#f9ebe3"/><stop offset="0.4762" stop-color="#f9f0eb"/><stop offset="0.4921" stop-color="#f8f4f2"/><stop offset="0.5079" stop-color="#f3f5f6"/><stop offset="0.5238" stop-color="#edf2f5"/><stop offset="0.5397" stop-color="#e7f0f4"/><stop offset="0.5556" stop-color="#e1edf3"/><stop offset="0.5714" stop-color="#dbeaf2"/><stop offset="0.5873" stop-color="#d5e7f1"/><stop offset="0.6032" stop-color="#cfe4ef"/><stop offset="0.6190" stop-color="#c5dfec"/><stop offset="0.6349" stop-color="#bbdaea"/><stop offset="0.6508" stop-color="#b1d5e7"/><stop offset="0.6667" stop-color="#a7d0e4"/><stop offset="0.6825" stop-color="#9dcbe1"/><stop offset="0.6984" stop-color="#93c6de"/><stop offset="0.7143" stop-color="#87beda"/><stop offset="0.7302" stop-color="#7bb6d6"/><stop offset="0.7460" stop-color="#6eaed2"/><stop offset="0.7619" stop-color="#5fa5cd"/><stop offset="0.7778" stop-color="#529dc8"/><stop offset="0.7937" stop-color="#4695c4"/><stop offset="0.8095" stop-color="#3f8ec0"/><stop offset="0.8254" stop-color="#3a87bd"/><stop offset="0.8413" stop-color="#3480b9"/><stop offset="0.8571" stop-color="#2f79b5"/><stop offset="0.8730" stop-color="#2a71b2"/><stop offset="0.8889" stop-color="#246aae"/><stop offset="0.9048" stop-color="#1f63a8"/><stop offset="0.9206" stop-color="#1b5a9c"/><stop offset="0.9365" stop-color="#175290"/><stop offset="0.9524" stop-color="#124984"/><stop offset="0.9683" stop-color="#0e4179"/><stop offset="0.9841" stop-color="#09386d"/><stop offset="1.0000" stop-color="#053061"/></linearGradient>
<rect x="789.8" y="235.9" width="12.2" height="212.9" fill="url(#cbg0)"/>
<linearGradient id="cbg1" x1="0" y1="0" x2="0" y2="1"><stop offset="0.0000" stop-color="#67001f"/><stop offset="0.0159" stop-color="#730421"/><stop offset="0.0317" stop-color="#7f0823"/><stop offset="0.0476" stop-color="#8a0b25"/><stop offset="0.0635" stop-color="#960f27"/><stop offset="0.0794" stop-color="#a21328"/><stop offset="0.0952" stop-color="#ae172a"/><stop offset="0.1111" stop-color="#b61f2e"/><stop offset="0.1270" stop-color="#bb2a34"/><stop offset="0.1429" stop-color="#c13639"/><stop offset="0.1587" stop-color="#c6413e"/><stop offset="0.1746" stop-color="#cc4c44"/><stop offset="0.1905" stop-color="#d25849"/><stop offset="0.2063" stop-color="#d7634f"/><stop offset="0.2222" stop-color="#dc6e57"/><stop offset="0.2381" stop-color="#e17860"/><stop offset="0.2540" stop-color="#e6866a"/><stop offset="0.2698" stop-color="#eb9172"/><stop offset="0.2857" stop-color="#f09c7b"/><stop offset="0.3016" stop-color="#f4a683"/><stop offset="0.3175" stop-color="#f6af8e"/><stop offset="0.3333" stop-color="#f7b799"/><stop offset="0.3492" stop-color="#f8bfa4"/><stop offset="0.3651" stop-color="#fac8af"/><stop offset="0.3810" stop-color="#fbd0b9"/><stop offset="0.3968" stop-color="#fdd9c4"/><stop offset="0.4127" stop-color="#fcdecd"/><stop offset="0.4286" stop-color="#fbe3d4"/><stop offset="0.4444" stop-color="#fae7dc"/><stop offset="0.4603" stop-color="#f9ebe3"/><stop offset="0.4762" stop-color="#f9f0eb"/><stop offset="0.4921" stop-color="#f8f4f2"/><stop offset="0.5079" stop-color="#f3f5f6"/><stop offset="0.5238" stop-color="#edf2f5"/><stop offset="0.5397" stop-color="#e7f0f4"/><stop offset="0.5556" stop-color="#e1edf3"/><stop offset="0.5714" stop-color="#dbeaf2"/><stop offset="0.5873" stop-color="#d5e7f1"/><stop offset="0.6032" stop-color="#cfe4ef"/><stop offset="0.6190" stop-color="#c5dfec"/><stop offset="0.6349" stop-color="#bbdaea"/><stop offset="0.6508" stop-color="#b1d5e7"/><stop offset="0.6667" stop-color="#a7d0e4"/><stop offset="0.6825" stop-color="#9dcbe1"/><stop offset="0.6984" stop-color="#93c6de"/><stop offset="0.7143" stop-color="#87beda"/><stop offset="0.7302" stop-color="#7bb6d6"/><stop offset="0.7460" stop-color="#6eaed2"/><stop offset="0.7619" stop-color="#5fa5cd"/><stop offset="0.7778" stop-color="#529dc8"/><stop offset="0.7937" stop-color="#4695c4"/><stop offset="0.8095" stop-color="#3f8ec0"/><stop offset="0.8254" stop-color="#3a87bd"/><stop offset="0.8413" stop-color="#3480b9"/><stop offset="0.8571" stop-color="#2f79b5"/><stop offset="0.8730" stop-color="#2a71b2"/><stop offset="0.8889" stop-color="#246aae"/><stop offset="0.9048" stop-color="#1f63a8"/><stop offset="0.9206" stop-color="#1b5a9c"/><stop offset="0.9365" stop-color="#175290"/><stop offset="0.9524" stop-color="#124984"/><stop offset="0.9683" stop-color="#0e4179"/><stop offset="0.9841" stop-color="#09386d"/><stop offset="1.0000" stop-color="#053061"/></linearGradient>
<rect x="789.8" y="453.9" width="12.2" height="213.10000000000002" fill="url(#cbg1)"/>
<path d="M802,282.1 h4.86M802,343.1 h4.86M802,403.3 h4.86M802,456.20 h4.86M802,508.25 h4.86M802,560.30 h4.86M802,612.35 h4.86M802,664.40 h4.86" stroke="#000" stroke-width="1.11" fill="none"/>
<text transform="translate(811.50,289.20)" x="0.00" y="0" font-size="20.70" textLength="12.37" lengthAdjust="spacingAndGlyphs">2</text>
<text transform="translate(811.50,350.20)" x="0.00" y="0" font-size="20.70" textLength="12.37" lengthAdjust="spacingAndGlyphs">0</text>
<text transform="translate(811.50,410.40)" x="0.00" y="0" font-size="20.70" textLength="28.66" lengthAdjust="spacingAndGlyphs">−2</text>
<text transform="translate(811.50,463.60)" x="0.00" y="0" font-size="20.70" textLength="55.65" lengthAdjust="spacingAndGlyphs">0.050</text>
<text transform="translate(811.50,515.65)" x="0.00" y="0" font-size="20.70" textLength="55.65" lengthAdjust="spacingAndGlyphs">0.025</text>
<text transform="translate(811.50,567.70)" x="0.00" y="0" font-size="20.70" textLength="55.65" lengthAdjust="spacingAndGlyphs">0.000</text>
<text transform="translate(811.50,619.75)" x="0.00" y="0" font-size="20.70" textLength="71.94" lengthAdjust="spacingAndGlyphs">−0.025</text>
<text transform="translate(811.50,671.80)" x="0.00" y="0" font-size="20.70" textLength="71.94" lengthAdjust="spacingAndGlyphs">−0.050</text>
<text transform="translate(861.90,393.81) rotate(-90)" x="0.00" y="0" font-size="20.70" textLength="75.73" lengthAdjust="spacingAndGlyphs">External</text>
<text transform="translate(861.90,311.15) rotate(-90)" x="0.00" y="0" font-size="20.70" textLength="5.40" lengthAdjust="spacingAndGlyphs" font-style="italic">j</text>
<text transform="translate(864.90,304.38) rotate(-90)" x="0.00" y="0" font-size="14.49" textLength="7.14" lengthAdjust="spacingAndGlyphs" font-style="italic">z</text>
<text transform="translate(891.20,385.37) rotate(-90)" x="0.00" y="0" font-size="20.70" textLength="56.11" lengthAdjust="spacingAndGlyphs">[A km</text>
<text transform="translate(884.00,329.84) rotate(-90)" x="0.00" y="0" font-size="14.49" textLength="20.06" lengthAdjust="spacingAndGlyphs">−2</text>
<text transform="translate(891.20,308.69) rotate(-90)" x="0.00" y="0" font-size="20.70" textLength="7.58" lengthAdjust="spacingAndGlyphs">]</text>
<text transform="translate(904.60,631.21) rotate(-90)" x="0.00" y="0" font-size="20.70" textLength="75.73" lengthAdjust="spacingAndGlyphs">External</text>
<text transform="translate(904.60,550.37) rotate(-90)" x="0.00" y="0" font-size="20.70" textLength="17.74" lengthAdjust="spacingAndGlyphs" font-style="italic">dj</text>
<text transform="translate(907.60,528.88) rotate(-90)" x="0.00" y="0" font-size="14.49" textLength="7.14" lengthAdjust="spacingAndGlyphs" font-style="italic">z</text>
<text transform="translate(904.60,521.20) rotate(-90)" x="0.00" y="0" font-size="20.70" textLength="26.51" lengthAdjust="spacingAndGlyphs" font-style="italic">/dt</text>
<text transform="translate(934.10,622.27) rotate(-90)" x="0.00" y="0" font-size="20.70" textLength="56.11" lengthAdjust="spacingAndGlyphs">[A km</text>
<text transform="translate(926.90,566.74) rotate(-90)" x="0.00" y="0" font-size="14.49" textLength="20.06" lengthAdjust="spacingAndGlyphs">−2</text>
<text transform="translate(934.10,537.05) rotate(-90)" x="0.00" y="0" font-size="20.70" textLength="10.13" lengthAdjust="spacingAndGlyphs">s</text>
<text transform="translate(926.90,525.64) rotate(-90)" x="0.00" y="0" font-size="14.49" textLength="18.05" lengthAdjust="spacingAndGlyphs">−1</text>
<text transform="translate(934.10,507.89) rotate(-90)" x="0.00" y="0" font-size="20.70" textLength="7.58" lengthAdjust="spacingAndGlyphs">]</text>
</svg>
</body></html>
